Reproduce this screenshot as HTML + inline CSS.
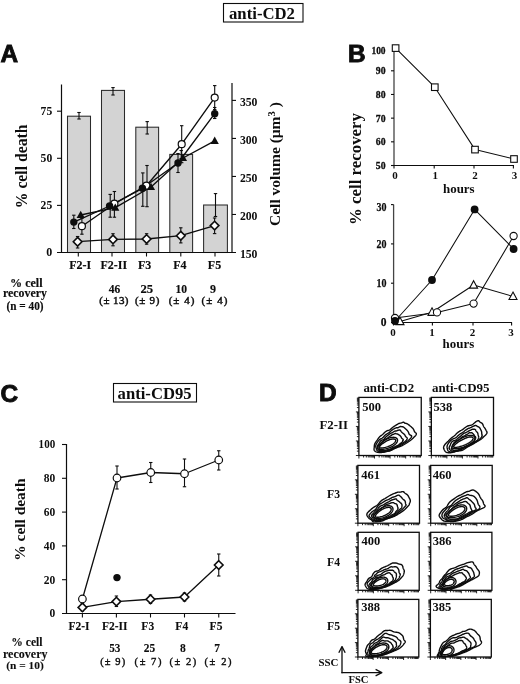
<!DOCTYPE html>
<html><head><meta charset="utf-8"><style>
html,body{margin:0;padding:0;background:#fff;}
svg{display:block;will-change:transform;}
</style></head><body>
<svg width="520" height="684" viewBox="0 0 520 684">
<rect width="520" height="684" fill="#fff"/>
<text x="0.6" y="62.1" font-family="'Liberation Sans', sans-serif" font-size="24.4" font-weight="bold" text-anchor="start" fill="#0d0d0d" stroke="#0d0d0d" stroke-width="0.9" >A</text>
<text x="348.0" y="62.2" font-family="'Liberation Sans', sans-serif" font-size="24.4" font-weight="bold" text-anchor="start" fill="#0d0d0d" stroke="#0d0d0d" stroke-width="0.9" >B</text>
<text x="0.6" y="402.1" font-family="'Liberation Sans', sans-serif" font-size="24.4" font-weight="bold" text-anchor="start" fill="#0d0d0d" stroke="#0d0d0d" stroke-width="0.9" >C</text>
<text x="318.9" y="401.1" font-family="'Liberation Sans', sans-serif" font-size="24.4" font-weight="bold" text-anchor="start" fill="#0d0d0d" stroke="#0d0d0d" stroke-width="0.9" >D</text>
<rect x="223.5" y="3.5" width="79.5" height="18.5" fill="none" stroke="#0d0d0d" stroke-width="1.1"/>
<text x="229" y="19.3" font-family="'Liberation Serif', serif" font-size="16.5" font-weight="bold" text-anchor="start" fill="#0d0d0d" textLength="66" lengthAdjust="spacingAndGlyphs" >anti-CD2</text>
<rect x="113.5" y="383.5" width="83" height="18.5" fill="none" stroke="#0d0d0d" stroke-width="1.1"/>
<text x="117.6" y="398.6" font-family="'Liberation Serif', serif" font-size="16.5" font-weight="bold" text-anchor="start" fill="#0d0d0d" textLength="74" lengthAdjust="spacingAndGlyphs" >anti-CD95</text>
<rect x="67.5" y="116.2" width="23.0" height="136.3" fill="#d3d3d3" stroke="#2a2a2a" stroke-width="1.05"/>
<rect x="101.5" y="90.4" width="23.0" height="162.1" fill="#d3d3d3" stroke="#2a2a2a" stroke-width="1.05"/>
<rect x="135.8" y="127.2" width="22.799999999999983" height="125.3" fill="#d3d3d3" stroke="#2a2a2a" stroke-width="1.05"/>
<rect x="169.8" y="154.4" width="22.799999999999983" height="98.1" fill="#d3d3d3" stroke="#2a2a2a" stroke-width="1.05"/>
<rect x="203.6" y="205" width="23.80000000000001" height="47.5" fill="#d3d3d3" stroke="#2a2a2a" stroke-width="1.05"/>
<line x1="79.0" y1="112.5" x2="79.0" y2="119" stroke="#0d0d0d" stroke-width="1.1"/>
<line x1="77.3" y1="112.5" x2="80.7" y2="112.5" stroke="#0d0d0d" stroke-width="1.1"/>
<line x1="77.3" y1="119" x2="80.7" y2="119" stroke="#0d0d0d" stroke-width="1.1"/>
<line x1="113.0" y1="87.6" x2="113.0" y2="95" stroke="#0d0d0d" stroke-width="1.1"/>
<line x1="111.3" y1="87.6" x2="114.7" y2="87.6" stroke="#0d0d0d" stroke-width="1.1"/>
<line x1="111.3" y1="95" x2="114.7" y2="95" stroke="#0d0d0d" stroke-width="1.1"/>
<line x1="147.2" y1="121.6" x2="147.2" y2="134" stroke="#0d0d0d" stroke-width="1.1"/>
<line x1="145.5" y1="121.6" x2="148.89999999999998" y2="121.6" stroke="#0d0d0d" stroke-width="1.1"/>
<line x1="145.5" y1="134" x2="148.89999999999998" y2="134" stroke="#0d0d0d" stroke-width="1.1"/>
<line x1="181.2" y1="150.5" x2="181.2" y2="158.5" stroke="#0d0d0d" stroke-width="1.1"/>
<line x1="179.5" y1="150.5" x2="182.89999999999998" y2="150.5" stroke="#0d0d0d" stroke-width="1.1"/>
<line x1="179.5" y1="158.5" x2="182.89999999999998" y2="158.5" stroke="#0d0d0d" stroke-width="1.1"/>
<line x1="215.5" y1="193.6" x2="215.5" y2="216.5" stroke="#0d0d0d" stroke-width="1.1"/>
<line x1="213.8" y1="193.6" x2="217.2" y2="193.6" stroke="#0d0d0d" stroke-width="1.1"/>
<line x1="213.8" y1="216.5" x2="217.2" y2="216.5" stroke="#0d0d0d" stroke-width="1.1"/>
<line x1="61.5" y1="84.5" x2="61.5" y2="253" stroke="#0d0d0d" stroke-width="1.2"/>
<line x1="57" y1="252.5" x2="236" y2="252.5" stroke="#0d0d0d" stroke-width="1.2"/>
<line x1="232" y1="83" x2="232" y2="253" stroke="#0d0d0d" stroke-width="1.2"/>
<line x1="57" y1="111.20000000000002" x2="61.5" y2="111.20000000000002" stroke="#0d0d0d" stroke-width="1.1"/>
<line x1="57" y1="158.3" x2="61.5" y2="158.3" stroke="#0d0d0d" stroke-width="1.1"/>
<line x1="57" y1="205.4" x2="61.5" y2="205.4" stroke="#0d0d0d" stroke-width="1.1"/>
<line x1="232" y1="100.4" x2="236" y2="100.4" stroke="#0d0d0d" stroke-width="1.1"/>
<line x1="232" y1="138.425" x2="236" y2="138.425" stroke="#0d0d0d" stroke-width="1.1"/>
<line x1="232" y1="176.45" x2="236" y2="176.45" stroke="#0d0d0d" stroke-width="1.1"/>
<line x1="232" y1="214.475" x2="236" y2="214.475" stroke="#0d0d0d" stroke-width="1.1"/>
<line x1="78.3" y1="252.5" x2="78.3" y2="256.5" stroke="#0d0d0d" stroke-width="1.1"/>
<line x1="112" y1="252.5" x2="112" y2="256.5" stroke="#0d0d0d" stroke-width="1.1"/>
<line x1="146.5" y1="252.5" x2="146.5" y2="256.5" stroke="#0d0d0d" stroke-width="1.1"/>
<line x1="180.8" y1="252.5" x2="180.8" y2="256.5" stroke="#0d0d0d" stroke-width="1.1"/>
<line x1="215" y1="252.5" x2="215" y2="256.5" stroke="#0d0d0d" stroke-width="1.1"/>
<text x="52.2" y="114.80000000000001" font-family="'Liberation Serif', serif" font-size="12" font-weight="bold" text-anchor="end" fill="#0d0d0d" textLength="11.6" lengthAdjust="spacingAndGlyphs" >75</text>
<text x="52.2" y="161.9" font-family="'Liberation Serif', serif" font-size="12" font-weight="bold" text-anchor="end" fill="#0d0d0d" textLength="11.6" lengthAdjust="spacingAndGlyphs" >50</text>
<text x="52.2" y="209.0" font-family="'Liberation Serif', serif" font-size="12" font-weight="bold" text-anchor="end" fill="#0d0d0d" textLength="11.6" lengthAdjust="spacingAndGlyphs" >25</text>
<text x="52.2" y="256.1" font-family="'Liberation Serif', serif" font-size="12" font-weight="bold" text-anchor="end" fill="#0d0d0d" >0</text>
<text x="239.9" y="105.80000000000001" font-family="'Liberation Serif', serif" font-size="12" font-weight="bold" text-anchor="start" fill="#0d0d0d" textLength="17.6" lengthAdjust="spacingAndGlyphs" >350</text>
<text x="239.9" y="143.82500000000002" font-family="'Liberation Serif', serif" font-size="12" font-weight="bold" text-anchor="start" fill="#0d0d0d" textLength="17.6" lengthAdjust="spacingAndGlyphs" >300</text>
<text x="239.9" y="181.85" font-family="'Liberation Serif', serif" font-size="12" font-weight="bold" text-anchor="start" fill="#0d0d0d" textLength="17.6" lengthAdjust="spacingAndGlyphs" >250</text>
<text x="239.9" y="219.875" font-family="'Liberation Serif', serif" font-size="12" font-weight="bold" text-anchor="start" fill="#0d0d0d" textLength="17.6" lengthAdjust="spacingAndGlyphs" >200</text>
<text x="239.9" y="257.9" font-family="'Liberation Serif', serif" font-size="12" font-weight="bold" text-anchor="start" fill="#0d0d0d" textLength="17.6" lengthAdjust="spacingAndGlyphs" >150</text>
<line x1="73.8" y1="215.2" x2="73.8" y2="228.5" stroke="#0d0d0d" stroke-width="1.1"/>
<line x1="72.1" y1="215.2" x2="75.5" y2="215.2" stroke="#0d0d0d" stroke-width="1.1"/>
<line x1="72.1" y1="228.5" x2="75.5" y2="228.5" stroke="#0d0d0d" stroke-width="1.1"/>
<line x1="110.2" y1="194.4" x2="110.2" y2="217.2" stroke="#0d0d0d" stroke-width="1.1"/>
<line x1="108.5" y1="194.4" x2="111.9" y2="194.4" stroke="#0d0d0d" stroke-width="1.1"/>
<line x1="108.5" y1="217.2" x2="111.9" y2="217.2" stroke="#0d0d0d" stroke-width="1.1"/>
<line x1="142.8" y1="172.9" x2="142.8" y2="206.3" stroke="#0d0d0d" stroke-width="1.1"/>
<line x1="141.10000000000002" y1="172.9" x2="144.5" y2="172.9" stroke="#0d0d0d" stroke-width="1.1"/>
<line x1="141.10000000000002" y1="206.3" x2="144.5" y2="206.3" stroke="#0d0d0d" stroke-width="1.1"/>
<line x1="178" y1="153.5" x2="178" y2="172.5" stroke="#0d0d0d" stroke-width="1.1"/>
<line x1="176.3" y1="153.5" x2="179.7" y2="153.5" stroke="#0d0d0d" stroke-width="1.1"/>
<line x1="176.3" y1="172.5" x2="179.7" y2="172.5" stroke="#0d0d0d" stroke-width="1.1"/>
<line x1="214.7" y1="107.5" x2="214.7" y2="118.5" stroke="#0d0d0d" stroke-width="1.1"/>
<line x1="213.0" y1="107.5" x2="216.39999999999998" y2="107.5" stroke="#0d0d0d" stroke-width="1.1"/>
<line x1="213.0" y1="118.5" x2="216.39999999999998" y2="118.5" stroke="#0d0d0d" stroke-width="1.1"/>
<line x1="81.9" y1="218.2" x2="81.9" y2="234.2" stroke="#0d0d0d" stroke-width="1.1"/>
<line x1="80.2" y1="218.2" x2="83.60000000000001" y2="218.2" stroke="#0d0d0d" stroke-width="1.1"/>
<line x1="80.2" y1="234.2" x2="83.60000000000001" y2="234.2" stroke="#0d0d0d" stroke-width="1.1"/>
<line x1="114.4" y1="191.5" x2="114.4" y2="217.2" stroke="#0d0d0d" stroke-width="1.1"/>
<line x1="112.7" y1="191.5" x2="116.10000000000001" y2="191.5" stroke="#0d0d0d" stroke-width="1.1"/>
<line x1="112.7" y1="217.2" x2="116.10000000000001" y2="217.2" stroke="#0d0d0d" stroke-width="1.1"/>
<line x1="147" y1="165.5" x2="147" y2="206.7" stroke="#0d0d0d" stroke-width="1.1"/>
<line x1="145.3" y1="165.5" x2="148.7" y2="165.5" stroke="#0d0d0d" stroke-width="1.1"/>
<line x1="145.3" y1="206.7" x2="148.7" y2="206.7" stroke="#0d0d0d" stroke-width="1.1"/>
<line x1="181.7" y1="125.7" x2="181.7" y2="162.7" stroke="#0d0d0d" stroke-width="1.1"/>
<line x1="180.0" y1="125.7" x2="183.39999999999998" y2="125.7" stroke="#0d0d0d" stroke-width="1.1"/>
<line x1="180.0" y1="162.7" x2="183.39999999999998" y2="162.7" stroke="#0d0d0d" stroke-width="1.1"/>
<line x1="214.7" y1="85.6" x2="214.7" y2="109.6" stroke="#0d0d0d" stroke-width="1.1"/>
<line x1="213.0" y1="85.6" x2="216.39999999999998" y2="85.6" stroke="#0d0d0d" stroke-width="1.1"/>
<line x1="213.0" y1="109.6" x2="216.39999999999998" y2="109.6" stroke="#0d0d0d" stroke-width="1.1"/>
<line x1="77.6" y1="236.5" x2="77.6" y2="248" stroke="#0d0d0d" stroke-width="1.1"/>
<line x1="75.89999999999999" y1="236.5" x2="79.3" y2="236.5" stroke="#0d0d0d" stroke-width="1.1"/>
<line x1="75.89999999999999" y1="248" x2="79.3" y2="248" stroke="#0d0d0d" stroke-width="1.1"/>
<line x1="113" y1="233.7" x2="113" y2="245.8" stroke="#0d0d0d" stroke-width="1.1"/>
<line x1="111.3" y1="233.7" x2="114.7" y2="233.7" stroke="#0d0d0d" stroke-width="1.1"/>
<line x1="111.3" y1="245.8" x2="114.7" y2="245.8" stroke="#0d0d0d" stroke-width="1.1"/>
<line x1="146.6" y1="233.7" x2="146.6" y2="244.2" stroke="#0d0d0d" stroke-width="1.1"/>
<line x1="144.9" y1="233.7" x2="148.29999999999998" y2="233.7" stroke="#0d0d0d" stroke-width="1.1"/>
<line x1="144.9" y1="244.2" x2="148.29999999999998" y2="244.2" stroke="#0d0d0d" stroke-width="1.1"/>
<line x1="180.8" y1="227.8" x2="180.8" y2="242.9" stroke="#0d0d0d" stroke-width="1.1"/>
<line x1="179.10000000000002" y1="227.8" x2="182.5" y2="227.8" stroke="#0d0d0d" stroke-width="1.1"/>
<line x1="179.10000000000002" y1="242.9" x2="182.5" y2="242.9" stroke="#0d0d0d" stroke-width="1.1"/>
<line x1="214.6" y1="218" x2="214.6" y2="233.6" stroke="#0d0d0d" stroke-width="1.1"/>
<line x1="212.9" y1="218" x2="216.29999999999998" y2="218" stroke="#0d0d0d" stroke-width="1.1"/>
<line x1="212.9" y1="233.6" x2="216.29999999999998" y2="233.6" stroke="#0d0d0d" stroke-width="1.1"/>
<polyline points="81.9,226.2 114.4,203.7 146.4,185.7 181.7,144.2 214.7,97.6" fill="none" stroke="#0d0d0d" stroke-width="1.35" stroke-linejoin="round"/>
<polyline points="73.8,222.1 109.6,206 142.4,188.3 178,163 214.7,113.7" fill="none" stroke="#0d0d0d" stroke-width="1.35" stroke-linejoin="round"/>
<polyline points="80.7,215 115.3,207.7 151,187 183,158 214.7,140.8" fill="none" stroke="#0d0d0d" stroke-width="1.35" stroke-linejoin="round"/>
<polyline points="77.6,241.7 113,239.4 146.6,239 180.8,235.7 214.6,225.6" fill="none" stroke="#0d0d0d" stroke-width="1.35" stroke-linejoin="round"/>
<polygon points="77.6,237.39999999999998 81.89999999999999,241.7 77.6,246.0 73.3,241.7" fill="#fff" stroke="#0d0d0d" stroke-width="1.6"/>
<polygon points="113,235.1 117.3,239.4 113,243.70000000000002 108.7,239.4" fill="#fff" stroke="#0d0d0d" stroke-width="1.6"/>
<polygon points="146.6,234.7 150.9,239 146.6,243.3 142.29999999999998,239" fill="#fff" stroke="#0d0d0d" stroke-width="1.6"/>
<polygon points="180.8,231.39999999999998 185.10000000000002,235.7 180.8,240.0 176.5,235.7" fill="#fff" stroke="#0d0d0d" stroke-width="1.6"/>
<polygon points="214.6,221.29999999999998 218.9,225.6 214.6,229.9 210.29999999999998,225.6" fill="#fff" stroke="#0d0d0d" stroke-width="1.6"/>
<circle cx="81.9" cy="226.2" r="3.5" fill="#fff" stroke="#0d0d0d" stroke-width="1.2"/>
<circle cx="114.4" cy="203.7" r="3.5" fill="#fff" stroke="#0d0d0d" stroke-width="1.2"/>
<circle cx="146.4" cy="185.7" r="3.5" fill="#fff" stroke="#0d0d0d" stroke-width="1.2"/>
<circle cx="181.7" cy="144.2" r="3.5" fill="#fff" stroke="#0d0d0d" stroke-width="1.2"/>
<circle cx="214.7" cy="97.6" r="3.5" fill="#fff" stroke="#0d0d0d" stroke-width="1.2"/>
<polygon points="80.7,210.708 84.8,218.108 76.60000000000001,218.108" fill="#0d0d0d"/>
<polygon points="115.3,203.408 119.39999999999999,210.808 111.2,210.808" fill="#0d0d0d"/>
<polygon points="151,182.708 155.1,190.108 146.9,190.108" fill="#0d0d0d"/>
<polygon points="183,153.708 187.1,161.108 178.9,161.108" fill="#0d0d0d"/>
<polygon points="214.7,136.508 218.79999999999998,143.90800000000002 210.6,143.90800000000002" fill="#0d0d0d"/>
<circle cx="73.8" cy="222.1" r="3.7" fill="#0d0d0d"/>
<circle cx="109.6" cy="206" r="3.7" fill="#0d0d0d"/>
<circle cx="142.4" cy="188.3" r="3.7" fill="#0d0d0d"/>
<circle cx="178" cy="163" r="3.7" fill="#0d0d0d"/>
<circle cx="214.7" cy="113.7" r="3.7" fill="#0d0d0d"/>
<text x="26.9" y="166.4" font-family="'Liberation Serif', serif" font-size="16" font-weight="bold" text-anchor="middle" fill="#0d0d0d" textLength="83.6" lengthAdjust="spacingAndGlyphs" transform="rotate(-90 26.9 166.4)">% cell death</text>
<text x="280.3" y="226" font-family="&apos;Liberation Serif&apos;, serif" font-size="15.5" font-weight="bold" fill="#0d0d0d" transform="rotate(-90 280.3 226)">Cell volume (&#956;m<tspan dy="-5.5" font-size="10.5">3</tspan><tspan dy="5.5"> )</tspan></text>
<text x="80.2" y="268.8" font-family="'Liberation Serif', serif" font-size="12" font-weight="bold" text-anchor="middle" fill="#0d0d0d" stroke="#0d0d0d" stroke-width="0.15" >F2-I</text>
<text x="113.8" y="268.8" font-family="'Liberation Serif', serif" font-size="12" font-weight="bold" text-anchor="middle" fill="#0d0d0d" stroke="#0d0d0d" stroke-width="0.15" >F2-II</text>
<text x="144.6" y="268.8" font-family="'Liberation Serif', serif" font-size="12" font-weight="bold" text-anchor="middle" fill="#0d0d0d" stroke="#0d0d0d" stroke-width="0.15" >F3</text>
<text x="179.9" y="268.8" font-family="'Liberation Serif', serif" font-size="12" font-weight="bold" text-anchor="middle" fill="#0d0d0d" stroke="#0d0d0d" stroke-width="0.15" >F4</text>
<text x="214.5" y="268.8" font-family="'Liberation Serif', serif" font-size="12" font-weight="bold" text-anchor="middle" fill="#0d0d0d" stroke="#0d0d0d" stroke-width="0.15" >F5</text>
<text x="26.3" y="286.5" font-family="'Liberation Serif', serif" font-size="12" font-weight="bold" text-anchor="middle" fill="#0d0d0d" stroke="#0d0d0d" stroke-width="0.15" textLength="32.5" lengthAdjust="spacingAndGlyphs" >% cell</text>
<text x="25" y="297" font-family="'Liberation Serif', serif" font-size="12" font-weight="bold" text-anchor="middle" fill="#0d0d0d" stroke="#0d0d0d" stroke-width="0.15" textLength="44" lengthAdjust="spacingAndGlyphs" >recovery</text>
<text x="25" y="309.6" font-family="'Liberation Serif', serif" font-size="11.5" font-weight="bold" text-anchor="middle" fill="#0d0d0d" stroke="#0d0d0d" stroke-width="0.15" textLength="37" lengthAdjust="spacingAndGlyphs" >(n = 40)</text>
<text x="114.5" y="293" font-family="'Liberation Serif', serif" font-size="12" font-weight="bold" text-anchor="middle" fill="#0d0d0d" stroke="#0d0d0d" stroke-width="0.15" textLength="11.5" lengthAdjust="spacingAndGlyphs" >46</text>
<text x="146.8" y="293" font-family="'Liberation Serif', serif" font-size="12" font-weight="bold" text-anchor="middle" fill="#0d0d0d" stroke="#0d0d0d" stroke-width="0.15" textLength="12.7" lengthAdjust="spacingAndGlyphs" >25</text>
<text x="181.2" y="293" font-family="'Liberation Serif', serif" font-size="12" font-weight="bold" text-anchor="middle" fill="#0d0d0d" stroke="#0d0d0d" stroke-width="0.15" textLength="11.6" lengthAdjust="spacingAndGlyphs" >10</text>
<text x="212.9" y="293" font-family="'Liberation Serif', serif" font-size="12" font-weight="bold" text-anchor="middle" fill="#0d0d0d" stroke="#0d0d0d" stroke-width="0.15" >9</text>
<text x="113.9" y="304.4" font-family="'Liberation Serif', serif" font-size="11" font-weight="normal" text-anchor="middle" fill="#0d0d0d" stroke="#0d0d0d" stroke-width="0.45" textLength="29.2" lengthAdjust="spacing" >(&#177; 13)</text>
<text x="147.15" y="304.4" font-family="'Liberation Serif', serif" font-size="11" font-weight="normal" text-anchor="middle" fill="#0d0d0d" stroke="#0d0d0d" stroke-width="0.45" textLength="24.3" lengthAdjust="spacing" >(&#177; 9)</text>
<text x="181.5" y="304.4" font-family="'Liberation Serif', serif" font-size="11" font-weight="normal" text-anchor="middle" fill="#0d0d0d" stroke="#0d0d0d" stroke-width="0.45" textLength="25.6" lengthAdjust="spacing" >(&#177; 4)</text>
<text x="214.45" y="304.4" font-family="'Liberation Serif', serif" font-size="11" font-weight="normal" text-anchor="middle" fill="#0d0d0d" stroke="#0d0d0d" stroke-width="0.45" textLength="25.9" lengthAdjust="spacing" >(&#177; 4)</text>
<line x1="394" y1="51.5" x2="394" y2="165.5" stroke="#444" stroke-width="1.3"/>
<line x1="393.5" y1="165.5" x2="514" y2="165.5" stroke="#0d0d0d" stroke-width="1.2"/>
<line x1="391" y1="70.8" x2="394" y2="70.8" stroke="#0d0d0d" stroke-width="1.1"/>
<line x1="391" y1="94.475" x2="394" y2="94.475" stroke="#0d0d0d" stroke-width="1.1"/>
<line x1="391" y1="118.15" x2="394" y2="118.15" stroke="#0d0d0d" stroke-width="1.1"/>
<line x1="391" y1="141.825" x2="394" y2="141.825" stroke="#0d0d0d" stroke-width="1.1"/>
<line x1="391" y1="165.5" x2="394" y2="165.5" stroke="#0d0d0d" stroke-width="1.1"/>
<text x="385.6" y="53.9" font-family="'Liberation Serif', serif" font-size="11" font-weight="bold" text-anchor="end" fill="#0d0d0d" stroke="#0d0d0d" stroke-width="0.3" textLength="14.2" lengthAdjust="spacingAndGlyphs" >100</text>
<text x="385.6" y="74.39999999999999" font-family="'Liberation Serif', serif" font-size="11" font-weight="bold" text-anchor="end" fill="#0d0d0d" stroke="#0d0d0d" stroke-width="0.3" textLength="9.8" lengthAdjust="spacingAndGlyphs" >90</text>
<text x="385.6" y="98.07499999999999" font-family="'Liberation Serif', serif" font-size="11" font-weight="bold" text-anchor="end" fill="#0d0d0d" stroke="#0d0d0d" stroke-width="0.3" textLength="9.8" lengthAdjust="spacingAndGlyphs" >80</text>
<text x="385.6" y="121.75" font-family="'Liberation Serif', serif" font-size="11" font-weight="bold" text-anchor="end" fill="#0d0d0d" stroke="#0d0d0d" stroke-width="0.3" textLength="9.8" lengthAdjust="spacingAndGlyphs" >70</text>
<text x="385.6" y="145.42499999999998" font-family="'Liberation Serif', serif" font-size="11" font-weight="bold" text-anchor="end" fill="#0d0d0d" stroke="#0d0d0d" stroke-width="0.3" textLength="9.8" lengthAdjust="spacingAndGlyphs" >60</text>
<text x="385.6" y="169.1" font-family="'Liberation Serif', serif" font-size="11" font-weight="bold" text-anchor="end" fill="#0d0d0d" stroke="#0d0d0d" stroke-width="0.3" textLength="9.8" lengthAdjust="spacingAndGlyphs" >50</text>
<line x1="394" y1="165.5" x2="394" y2="168.5" stroke="#0d0d0d" stroke-width="1.1"/>
<text x="395" y="178.8" font-family="'Liberation Serif', serif" font-size="11" font-weight="bold" text-anchor="middle" fill="#0d0d0d" >0</text>
<line x1="434.2" y1="165.5" x2="434.2" y2="168.5" stroke="#0d0d0d" stroke-width="1.1"/>
<text x="435.2" y="178.8" font-family="'Liberation Serif', serif" font-size="11" font-weight="bold" text-anchor="middle" fill="#0d0d0d" >1</text>
<line x1="474" y1="165.5" x2="474" y2="168.5" stroke="#0d0d0d" stroke-width="1.1"/>
<text x="475" y="178.8" font-family="'Liberation Serif', serif" font-size="11" font-weight="bold" text-anchor="middle" fill="#0d0d0d" >2</text>
<line x1="513.4" y1="165.5" x2="513.4" y2="168.5" stroke="#0d0d0d" stroke-width="1.1"/>
<text x="514.4" y="178.8" font-family="'Liberation Serif', serif" font-size="11" font-weight="bold" text-anchor="middle" fill="#0d0d0d" >3</text>
<text x="458.8" y="193" font-family="'Liberation Serif', serif" font-size="13" font-weight="bold" text-anchor="middle" fill="#0d0d0d" textLength="31.6" lengthAdjust="spacingAndGlyphs" >hours</text>
<polyline points="395.6,48.1 434.8,87.2 475,149.6 514,159" fill="none" stroke="#0d0d0d" stroke-width="1.05" stroke-linejoin="round"/>
<rect x="392.3" y="44.800000000000004" width="6.6" height="6.6" fill="#fff" stroke="#0d0d0d" stroke-width="1.1"/>
<rect x="431.5" y="83.9" width="6.6" height="6.6" fill="#fff" stroke="#0d0d0d" stroke-width="1.1"/>
<rect x="471.7" y="146.29999999999998" width="6.6" height="6.6" fill="#fff" stroke="#0d0d0d" stroke-width="1.1"/>
<rect x="510.7" y="155.7" width="6.6" height="6.6" fill="#fff" stroke="#0d0d0d" stroke-width="1.1"/>
<line x1="393.6" y1="204.6" x2="393.6" y2="322.9" stroke="#444" stroke-width="1.3"/>
<line x1="393.1" y1="322.5" x2="512" y2="322.5" stroke="#0d0d0d" stroke-width="1.2"/>
<line x1="391" y1="204.6" x2="393.6" y2="204.6" stroke="#0d0d0d" stroke-width="1.1"/>
<text x="386.4" y="211.10000000000002" font-family="'Liberation Serif', serif" font-size="11.5" font-weight="bold" text-anchor="end" fill="#0d0d0d" stroke="#0d0d0d" stroke-width="0.25" textLength="10" lengthAdjust="spacingAndGlyphs" >30</text>
<line x1="391" y1="243.89999999999998" x2="393.6" y2="243.89999999999998" stroke="#0d0d0d" stroke-width="1.1"/>
<text x="386.4" y="247.7" font-family="'Liberation Serif', serif" font-size="11.5" font-weight="bold" text-anchor="end" fill="#0d0d0d" stroke="#0d0d0d" stroke-width="0.25" textLength="10" lengthAdjust="spacingAndGlyphs" >20</text>
<line x1="391" y1="283.2" x2="393.6" y2="283.2" stroke="#0d0d0d" stroke-width="1.1"/>
<text x="386.4" y="287.0" font-family="'Liberation Serif', serif" font-size="11.5" font-weight="bold" text-anchor="end" fill="#0d0d0d" stroke="#0d0d0d" stroke-width="0.25" textLength="10" lengthAdjust="spacingAndGlyphs" >10</text>
<line x1="391" y1="322.5" x2="393.6" y2="322.5" stroke="#0d0d0d" stroke-width="1.1"/>
<text x="386.4" y="326.3" font-family="'Liberation Serif', serif" font-size="11.5" font-weight="bold" text-anchor="end" fill="#0d0d0d" stroke="#0d0d0d" stroke-width="0.25" >0</text>
<line x1="393.6" y1="322.5" x2="393.6" y2="325.6" stroke="#0d0d0d" stroke-width="1.1"/>
<text x="393.1" y="336.2" font-family="'Liberation Serif', serif" font-size="11" font-weight="bold" text-anchor="middle" fill="#0d0d0d" >0</text>
<line x1="432.4" y1="322.5" x2="432.4" y2="325.6" stroke="#0d0d0d" stroke-width="1.1"/>
<text x="431.9" y="336.2" font-family="'Liberation Serif', serif" font-size="11" font-weight="bold" text-anchor="middle" fill="#0d0d0d" >1</text>
<line x1="473" y1="322.5" x2="473" y2="325.6" stroke="#0d0d0d" stroke-width="1.1"/>
<text x="472.5" y="336.2" font-family="'Liberation Serif', serif" font-size="11" font-weight="bold" text-anchor="middle" fill="#0d0d0d" >2</text>
<line x1="511.6" y1="322.5" x2="511.6" y2="325.6" stroke="#0d0d0d" stroke-width="1.1"/>
<text x="511.1" y="336.2" font-family="'Liberation Serif', serif" font-size="11" font-weight="bold" text-anchor="middle" fill="#0d0d0d" >3</text>
<text x="458.4" y="347.6" font-family="'Liberation Serif', serif" font-size="13" font-weight="bold" text-anchor="middle" fill="#0d0d0d" textLength="31.6" lengthAdjust="spacingAndGlyphs" >hours</text>
<polyline points="395,321 432,280 474.6,209.4 513.6,249" fill="none" stroke="#0d0d0d" stroke-width="1.05" stroke-linejoin="round"/>
<polyline points="395,318 437,312.4 473.6,303.6 513.6,236" fill="none" stroke="#0d0d0d" stroke-width="1.05" stroke-linejoin="round"/>
<polyline points="400,321.5 432,312.2 473.6,285 513,296.4" fill="none" stroke="#0d0d0d" stroke-width="1.05" stroke-linejoin="round"/>
<polygon points="400,317.15 404.0,324.65 396.0,324.65" fill="#fff" stroke="#0d0d0d" stroke-width="1.1" stroke-linejoin="miter"/>
<polygon points="432,307.84999999999997 436.0,315.34999999999997 428.0,315.34999999999997" fill="#fff" stroke="#0d0d0d" stroke-width="1.1" stroke-linejoin="miter"/>
<polygon points="473.6,280.65 477.6,288.15 469.6,288.15" fill="#fff" stroke="#0d0d0d" stroke-width="1.1" stroke-linejoin="miter"/>
<polygon points="513,292.04999999999995 517.0,299.54999999999995 509.0,299.54999999999995" fill="#fff" stroke="#0d0d0d" stroke-width="1.1" stroke-linejoin="miter"/>
<circle cx="395" cy="318" r="3.6" fill="#fff" stroke="#0d0d0d" stroke-width="1.1"/>
<circle cx="437" cy="312.4" r="3.6" fill="#fff" stroke="#0d0d0d" stroke-width="1.1"/>
<circle cx="473.6" cy="303.6" r="3.6" fill="#fff" stroke="#0d0d0d" stroke-width="1.1"/>
<circle cx="513.6" cy="236" r="3.6" fill="#fff" stroke="#0d0d0d" stroke-width="1.1"/>
<circle cx="395" cy="321" r="3.9" fill="#0d0d0d"/>
<circle cx="432" cy="280" r="3.9" fill="#0d0d0d"/>
<circle cx="474.6" cy="209.4" r="3.9" fill="#0d0d0d"/>
<circle cx="513.6" cy="249" r="3.9" fill="#0d0d0d"/>
<text x="361.3" y="169" font-family="'Liberation Serif', serif" font-size="16.5" font-weight="bold" text-anchor="middle" fill="#0d0d0d" textLength="112" lengthAdjust="spacingAndGlyphs" transform="rotate(-90 361.3 169)">% cell recovery</text>
<line x1="66.5" y1="444" x2="66.5" y2="614" stroke="#0d0d0d" stroke-width="1.2"/>
<line x1="62" y1="613.5" x2="235.5" y2="613.5" stroke="#0d0d0d" stroke-width="1.2"/>
<line x1="62" y1="444.5" x2="66.4" y2="444.5" stroke="#0d0d0d" stroke-width="1.1"/>
<line x1="62" y1="478.3" x2="66.4" y2="478.3" stroke="#0d0d0d" stroke-width="1.1"/>
<line x1="62" y1="512.1" x2="66.4" y2="512.1" stroke="#0d0d0d" stroke-width="1.1"/>
<line x1="62" y1="545.9" x2="66.4" y2="545.9" stroke="#0d0d0d" stroke-width="1.1"/>
<line x1="62" y1="579.7" x2="66.4" y2="579.7" stroke="#0d0d0d" stroke-width="1.1"/>
<text x="55.2" y="448.4" font-family="'Liberation Serif', serif" font-size="11.5" font-weight="bold" text-anchor="end" fill="#0d0d0d" textLength="16.6" lengthAdjust="spacingAndGlyphs" >100</text>
<text x="55.2" y="482.2" font-family="'Liberation Serif', serif" font-size="11.5" font-weight="bold" text-anchor="end" fill="#0d0d0d" textLength="11.5" lengthAdjust="spacingAndGlyphs" >80</text>
<text x="55.2" y="516.0" font-family="'Liberation Serif', serif" font-size="11.5" font-weight="bold" text-anchor="end" fill="#0d0d0d" textLength="11.5" lengthAdjust="spacingAndGlyphs" >60</text>
<text x="55.2" y="549.8" font-family="'Liberation Serif', serif" font-size="11.5" font-weight="bold" text-anchor="end" fill="#0d0d0d" textLength="11.5" lengthAdjust="spacingAndGlyphs" >40</text>
<text x="55.2" y="583.6" font-family="'Liberation Serif', serif" font-size="11.5" font-weight="bold" text-anchor="end" fill="#0d0d0d" textLength="11.5" lengthAdjust="spacingAndGlyphs" >20</text>
<text x="55.2" y="617.4" font-family="'Liberation Serif', serif" font-size="11.5" font-weight="bold" text-anchor="end" fill="#0d0d0d" >0</text>
<line x1="82.4" y1="613.5" x2="82.4" y2="617.5" stroke="#0d0d0d" stroke-width="1.1"/>
<line x1="116.4" y1="613.5" x2="116.4" y2="617.5" stroke="#0d0d0d" stroke-width="1.1"/>
<line x1="150.5" y1="613.5" x2="150.5" y2="617.5" stroke="#0d0d0d" stroke-width="1.1"/>
<line x1="184.5" y1="613.5" x2="184.5" y2="617.5" stroke="#0d0d0d" stroke-width="1.1"/>
<line x1="218.75" y1="613.5" x2="218.75" y2="617.5" stroke="#0d0d0d" stroke-width="1.1"/>
<text x="79" y="629.8" font-family="'Liberation Serif', serif" font-size="11.5" font-weight="bold" text-anchor="middle" fill="#0d0d0d" stroke="#0d0d0d" stroke-width="0.1" >F2-I</text>
<text x="114.8" y="629.8" font-family="'Liberation Serif', serif" font-size="11.5" font-weight="bold" text-anchor="middle" fill="#0d0d0d" stroke="#0d0d0d" stroke-width="0.1" >F2-II</text>
<text x="147.75" y="629.8" font-family="'Liberation Serif', serif" font-size="11.5" font-weight="bold" text-anchor="middle" fill="#0d0d0d" stroke="#0d0d0d" stroke-width="0.1" >F3</text>
<text x="181.75" y="629.8" font-family="'Liberation Serif', serif" font-size="11.5" font-weight="bold" text-anchor="middle" fill="#0d0d0d" stroke="#0d0d0d" stroke-width="0.1" >F4</text>
<text x="216" y="629.8" font-family="'Liberation Serif', serif" font-size="11.5" font-weight="bold" text-anchor="middle" fill="#0d0d0d" stroke="#0d0d0d" stroke-width="0.1" >F5</text>
<line x1="117" y1="466" x2="117" y2="489" stroke="#0d0d0d" stroke-width="1.1"/>
<line x1="115.3" y1="466" x2="118.7" y2="466" stroke="#0d0d0d" stroke-width="1.1"/>
<line x1="115.3" y1="489" x2="118.7" y2="489" stroke="#0d0d0d" stroke-width="1.1"/>
<line x1="150.75" y1="462.5" x2="150.75" y2="482.5" stroke="#0d0d0d" stroke-width="1.1"/>
<line x1="149.05" y1="462.5" x2="152.45" y2="462.5" stroke="#0d0d0d" stroke-width="1.1"/>
<line x1="149.05" y1="482.5" x2="152.45" y2="482.5" stroke="#0d0d0d" stroke-width="1.1"/>
<line x1="184.5" y1="459" x2="184.5" y2="486.75" stroke="#0d0d0d" stroke-width="1.1"/>
<line x1="182.8" y1="459" x2="186.2" y2="459" stroke="#0d0d0d" stroke-width="1.1"/>
<line x1="182.8" y1="486.75" x2="186.2" y2="486.75" stroke="#0d0d0d" stroke-width="1.1"/>
<line x1="218.75" y1="450.75" x2="218.75" y2="470" stroke="#0d0d0d" stroke-width="1.1"/>
<line x1="217.05" y1="450.75" x2="220.45" y2="450.75" stroke="#0d0d0d" stroke-width="1.1"/>
<line x1="217.05" y1="470" x2="220.45" y2="470" stroke="#0d0d0d" stroke-width="1.1"/>
<line x1="82.4" y1="603.5" x2="82.4" y2="611" stroke="#0d0d0d" stroke-width="1.1"/>
<line x1="80.7" y1="603.5" x2="84.10000000000001" y2="603.5" stroke="#0d0d0d" stroke-width="1.1"/>
<line x1="80.7" y1="611" x2="84.10000000000001" y2="611" stroke="#0d0d0d" stroke-width="1.1"/>
<line x1="116.4" y1="596" x2="116.4" y2="606.5" stroke="#0d0d0d" stroke-width="1.1"/>
<line x1="114.7" y1="596" x2="118.10000000000001" y2="596" stroke="#0d0d0d" stroke-width="1.1"/>
<line x1="114.7" y1="606.5" x2="118.10000000000001" y2="606.5" stroke="#0d0d0d" stroke-width="1.1"/>
<line x1="150.5" y1="595" x2="150.5" y2="603.5" stroke="#0d0d0d" stroke-width="1.1"/>
<line x1="148.8" y1="595" x2="152.2" y2="595" stroke="#0d0d0d" stroke-width="1.1"/>
<line x1="148.8" y1="603.5" x2="152.2" y2="603.5" stroke="#0d0d0d" stroke-width="1.1"/>
<line x1="184.5" y1="593" x2="184.5" y2="601" stroke="#0d0d0d" stroke-width="1.1"/>
<line x1="182.8" y1="593" x2="186.2" y2="593" stroke="#0d0d0d" stroke-width="1.1"/>
<line x1="182.8" y1="601" x2="186.2" y2="601" stroke="#0d0d0d" stroke-width="1.1"/>
<line x1="218.75" y1="554" x2="218.75" y2="576" stroke="#0d0d0d" stroke-width="1.1"/>
<line x1="217.05" y1="554" x2="220.45" y2="554" stroke="#0d0d0d" stroke-width="1.1"/>
<line x1="217.05" y1="576" x2="220.45" y2="576" stroke="#0d0d0d" stroke-width="1.1"/>
<polyline points="82.4,599 117,478 150.75,472.5 184.5,473.75 218.75,460" fill="none" stroke="#0d0d0d" stroke-width="1.3" stroke-linejoin="round"/>
<polyline points="82.4,607.4 116.4,601.6 150.5,599.25 184.5,597 218.75,565" fill="none" stroke="#0d0d0d" stroke-width="1.3" stroke-linejoin="round"/>
<polygon points="82.4,603.1 86.7,607.4 82.4,611.6999999999999 78.10000000000001,607.4" fill="#fff" stroke="#0d0d0d" stroke-width="1.6"/>
<polygon points="116.4,597.3000000000001 120.7,601.6 116.4,605.9 112.10000000000001,601.6" fill="#fff" stroke="#0d0d0d" stroke-width="1.6"/>
<polygon points="150.5,594.95 154.8,599.25 150.5,603.55 146.2,599.25" fill="#fff" stroke="#0d0d0d" stroke-width="1.6"/>
<polygon points="184.5,592.7 188.8,597 184.5,601.3 180.2,597" fill="#fff" stroke="#0d0d0d" stroke-width="1.6"/>
<polygon points="218.75,560.7 223.05,565 218.75,569.3 214.45,565" fill="#fff" stroke="#0d0d0d" stroke-width="1.6"/>
<circle cx="82.4" cy="599" r="3.8" fill="#fff" stroke="#0d0d0d" stroke-width="1.2"/>
<circle cx="117" cy="478" r="3.8" fill="#fff" stroke="#0d0d0d" stroke-width="1.2"/>
<circle cx="150.75" cy="472.5" r="3.8" fill="#fff" stroke="#0d0d0d" stroke-width="1.2"/>
<circle cx="184.5" cy="473.75" r="3.8" fill="#fff" stroke="#0d0d0d" stroke-width="1.2"/>
<circle cx="218.75" cy="460" r="3.8" fill="#fff" stroke="#0d0d0d" stroke-width="1.2"/>
<circle cx="117" cy="577.6" r="3.7" fill="#0d0d0d"/>
<text x="24.6" y="519.6" font-family="'Liberation Serif', serif" font-size="15.5" font-weight="bold" text-anchor="middle" fill="#0d0d0d" textLength="82.2" lengthAdjust="spacingAndGlyphs" transform="rotate(-90 24.6 519.6)">% cell death</text>
<text x="26.9" y="646.3" font-family="'Liberation Serif', serif" font-size="11.5" font-weight="bold" text-anchor="middle" fill="#0d0d0d" stroke="#0d0d0d" stroke-width="0.1" textLength="31.2" lengthAdjust="spacingAndGlyphs" >% cell</text>
<text x="25.25" y="657.5" font-family="'Liberation Serif', serif" font-size="11.5" font-weight="bold" text-anchor="middle" fill="#0d0d0d" stroke="#0d0d0d" stroke-width="0.1" textLength="44.5" lengthAdjust="spacingAndGlyphs" >recovery</text>
<text x="25" y="668.5" font-family="'Liberation Serif', serif" font-size="11" font-weight="bold" text-anchor="middle" fill="#0d0d0d" stroke="#0d0d0d" stroke-width="0.1" textLength="37.5" lengthAdjust="spacingAndGlyphs" >(n = 10)</text>
<text x="114.85" y="652" font-family="'Liberation Serif', serif" font-size="11.5" font-weight="bold" text-anchor="middle" fill="#0d0d0d" stroke="#0d0d0d" stroke-width="0.1" textLength="11.2" lengthAdjust="spacingAndGlyphs" >53</text>
<text x="149.5" y="652" font-family="'Liberation Serif', serif" font-size="11.5" font-weight="bold" text-anchor="middle" fill="#0d0d0d" stroke="#0d0d0d" stroke-width="0.1" textLength="11.4" lengthAdjust="spacingAndGlyphs" >25</text>
<text x="182.9" y="652" font-family="'Liberation Serif', serif" font-size="11.5" font-weight="bold" text-anchor="middle" fill="#0d0d0d" stroke="#0d0d0d" stroke-width="0.1" >8</text>
<text x="217.2" y="652" font-family="'Liberation Serif', serif" font-size="11.5" font-weight="bold" text-anchor="middle" fill="#0d0d0d" stroke="#0d0d0d" stroke-width="0.1" >7</text>
<text x="112.65" y="664.6" font-family="'Liberation Serif', serif" font-size="10.5" font-weight="normal" text-anchor="middle" fill="#0d0d0d" stroke="#0d0d0d" stroke-width="0.4" textLength="25" lengthAdjust="spacing" >(&#177; 9)</text>
<text x="148" y="664.6" font-family="'Liberation Serif', serif" font-size="10.5" font-weight="normal" text-anchor="middle" fill="#0d0d0d" stroke="#0d0d0d" stroke-width="0.4" textLength="26.8" lengthAdjust="spacing" >(&#177; 7)</text>
<text x="182.8" y="664.6" font-family="'Liberation Serif', serif" font-size="10.5" font-weight="normal" text-anchor="middle" fill="#0d0d0d" stroke="#0d0d0d" stroke-width="0.4" textLength="26.8" lengthAdjust="spacing" >(&#177; 2)</text>
<text x="218" y="664.6" font-family="'Liberation Serif', serif" font-size="10.5" font-weight="normal" text-anchor="middle" fill="#0d0d0d" stroke="#0d0d0d" stroke-width="0.4" textLength="27" lengthAdjust="spacing" >(&#177; 2)</text>
<text x="363.4" y="391.7" font-family="'Liberation Serif', serif" font-size="12.5" font-weight="bold" text-anchor="start" fill="#0d0d0d" textLength="50.7" lengthAdjust="spacingAndGlyphs" >anti-CD2</text>
<text x="431.9" y="392" font-family="'Liberation Serif', serif" font-size="12.5" font-weight="bold" text-anchor="start" fill="#0d0d0d" textLength="57.7" lengthAdjust="spacingAndGlyphs" >anti-CD95</text>
<text x="319.5" y="428.75" font-family="'Liberation Serif', serif" font-size="12" font-weight="bold" text-anchor="start" fill="#0d0d0d" textLength="28.5" lengthAdjust="spacingAndGlyphs" >F2-II</text>
<text x="327" y="498" font-family="'Liberation Serif', serif" font-size="12" font-weight="bold" text-anchor="start" fill="#0d0d0d" textLength="13" lengthAdjust="spacingAndGlyphs" >F3</text>
<text x="327" y="565.5" font-family="'Liberation Serif', serif" font-size="12" font-weight="bold" text-anchor="start" fill="#0d0d0d" textLength="13" lengthAdjust="spacingAndGlyphs" >F4</text>
<text x="327" y="630.3" font-family="'Liberation Serif', serif" font-size="12" font-weight="bold" text-anchor="start" fill="#0d0d0d" textLength="13" lengthAdjust="spacingAndGlyphs" >F5</text>
<defs>
<clipPath id="cb0"><rect x="358.9" y="397.4" width="62.35000000000002" height="58.10000000000002"/></clipPath>
<clipPath id="cb1"><rect x="431.35" y="397.4" width="62.14999999999998" height="58.10000000000002"/></clipPath>
<clipPath id="cb2"><rect x="357.9" y="465.4" width="61.60000000000002" height="57.80000000000007"/></clipPath>
<clipPath id="cb3"><rect x="430.7" y="465.4" width="61.5" height="57.80000000000007"/></clipPath>
<clipPath id="cb4"><rect x="358.1" y="532.3" width="61.099999999999966" height="58.0"/></clipPath>
<clipPath id="cb5"><rect x="430.7" y="532.3" width="61.19999999999999" height="58.0"/></clipPath>
<clipPath id="cb6"><rect x="357.9" y="599.4" width="60.900000000000034" height="57.60000000000002"/></clipPath>
<clipPath id="cb7"><rect x="430.4" y="599.4" width="60.900000000000034" height="57.60000000000002"/></clipPath>
</defs>
<g clip-path="url(#cb0)"><path d="M374.25,447.26 L374.27,446.73 L374.30,446.13 L374.36,445.48 L374.49,444.77 L374.70,444.03 L375.02,443.29 L375.43,442.55 L375.91,441.85 L376.41,441.16 L376.91,440.50 L377.38,439.85 L377.81,439.21 L378.22,438.58 L378.66,437.95 L379.13,437.36 L379.64,436.80 L380.19,436.30 L380.77,435.84 L381.36,435.41 L381.94,434.97 L382.52,434.49 L383.10,433.97 L383.67,433.41 L384.26,432.81 L384.86,432.24 L385.49,431.71 L386.13,431.28 L386.78,430.94 L387.42,430.69 L388.03,430.49 L388.64,430.31 L389.23,430.08 L389.81,429.78 L390.41,429.39 L391.02,428.92 L391.63,428.39 L392.25,427.84 L392.88,427.30 L393.50,426.81 L394.10,426.37 L394.68,425.98 L395.24,425.63 L395.80,425.30 L396.35,424.97 L396.91,424.63 L397.45,424.30 L397.99,423.98 L398.50,423.71 L398.97,423.49 L399.41,423.34 L399.80,423.24 L400.17,423.18 L400.53,423.13 L400.90,423.05 L401.28,422.94 L401.70,422.79 L402.13,422.61 L402.58,422.43 L403.00,422.29 L403.39,422.22 L403.70,422.24 L403.94,422.33 L404.11,422.48 L404.25,422.67 L404.38,422.87 L404.55,423.04 L404.77,423.17 L405.06,423.25 L405.42,423.30 L405.84,423.36 L406.31,423.45 L406.81,423.61 L407.35,423.86 L407.92,424.22 L408.52,424.67 L409.15,425.17 L409.81,425.71 L410.49,426.27 L411.17,426.83 L411.84,427.41 L412.46,427.99 L413.00,428.59 L413.42,429.19 L413.73,429.78 L413.96,430.35 L414.17,430.88 L414.41,431.38 L414.68,431.81 L415.00,432.19 L415.35,432.53 L415.71,432.84 L416.04,433.15 L416.27,433.48 L416.38,433.86 L416.33,434.30 L416.10,434.80 L415.72,435.35 L415.23,435.92 L414.67,436.50 L414.10,437.07 L413.52,437.63 L412.96,438.16 L412.41,438.68 L411.84,439.20 L411.25,439.71 L410.62,440.23 L409.95,440.74 L409.26,441.25 L408.55,441.75 L407.80,442.26 L407.04,442.76 L406.26,443.25 L405.45,443.75 L404.60,444.24 L403.68,444.75 L402.67,445.26 L401.58,445.77 L400.41,446.28 L399.22,446.76 L398.06,447.22 L396.95,447.65 L395.93,448.06 L395.00,448.46 L394.17,448.85 L393.39,449.25 L392.64,449.64 L391.85,450.03 L391.02,450.40 L390.12,450.72 L389.19,450.98 L388.26,451.15 L387.39,451.27 L386.58,451.38 L385.78,451.55 L384.95,451.77 L384.07,452.01 L383.15,452.23 L382.23,452.39 L381.32,452.50 L380.47,452.54 L379.67,452.52 L378.92,452.46 L378.22,452.36 L377.54,452.22 L376.87,452.04 L376.20,451.81 L375.57,451.51 L375.00,451.16 L374.55,450.74 L374.24,450.28 L374.07,449.78 L374.02,449.27 L374.06,448.76 L374.13,448.26 L374.20,447.76Z" fill="none" stroke="#0d0d0d" stroke-width="1.4" stroke-linejoin="round"/><path d="M375.93,447.41 L375.81,446.93 L375.73,446.40 L375.74,445.81 L375.85,445.19 L376.06,444.54 L376.36,443.90 L376.74,443.26 L377.16,442.64 L377.59,442.04 L378.02,441.45 L378.44,440.88 L378.85,440.36 L379.27,439.89 L379.73,439.47 L380.23,439.11 L380.75,438.81 L381.28,438.54 L381.80,438.28 L382.29,437.99 L382.76,437.65 L383.22,437.23 L383.66,436.75 L384.12,436.23 L384.58,435.69 L385.07,435.19 L385.58,434.74 L386.11,434.36 L386.64,434.04 L387.17,433.76 L387.69,433.48 L388.22,433.17 L388.74,432.81 L389.28,432.39 L389.82,431.92 L390.36,431.44 L390.90,430.97 L391.43,430.53 L391.95,430.14 L392.45,429.80 L392.94,429.50 L393.41,429.24 L393.88,428.98 L394.34,428.73 L394.80,428.47 L395.24,428.24 L395.67,428.04 L396.06,427.89 L396.42,427.80 L396.74,427.76 L397.03,427.77 L397.30,427.78 L397.58,427.78 L397.88,427.72 L398.21,427.61 L398.58,427.43 L398.97,427.21 L399.39,426.98 L399.79,426.77 L400.18,426.61 L400.52,426.52 L400.81,426.49 L401.05,426.51 L401.25,426.56 L401.44,426.62 L401.64,426.67 L401.87,426.69 L402.13,426.70 L402.42,426.71 L402.73,426.75 L403.06,426.84 L403.40,427.00 L403.75,427.23 L404.13,427.55 L404.54,427.93 L404.99,428.37 L405.48,428.83 L406.01,429.31 L406.54,429.81 L407.07,430.33 L407.56,430.87 L407.98,431.43 L408.32,432.01 L408.57,432.57 L408.74,433.11 L408.90,433.59 L409.10,434.02 L409.37,434.37 L409.70,434.67 L410.09,434.91 L410.51,435.13 L410.91,435.33 L411.26,435.56 L411.50,435.81 L411.63,436.12 L411.63,436.47 L411.50,436.86 L411.26,437.29 L410.95,437.73 L410.59,438.18 L410.19,438.63 L409.75,439.09 L409.28,439.54 L408.74,440.01 L408.15,440.49 L407.51,440.98 L406.82,441.47 L406.12,441.95 L405.44,442.41 L404.77,442.85 L404.10,443.28 L403.43,443.70 L402.74,444.12 L402.01,444.55 L401.23,444.98 L400.36,445.41 L399.43,445.85 L398.46,446.27 L397.47,446.69 L396.52,447.07 L395.65,447.43 L394.88,447.77 L394.19,448.10 L393.58,448.43 L393.01,448.77 L392.46,449.12 L391.88,449.48 L391.24,449.85 L390.54,450.20 L389.78,450.52 L388.99,450.81 L388.19,451.06 L387.39,451.27 L386.59,451.46 L385.77,451.62 L384.96,451.75 L384.16,451.84 L383.41,451.87 L382.72,451.85 L382.09,451.81 L381.50,451.74 L380.94,451.67 L380.39,451.59 L379.84,451.51 L379.28,451.41 L378.72,451.28 L378.17,451.10 L377.66,450.86 L377.22,450.58 L376.89,450.24 L376.65,449.87 L376.49,449.48 L376.39,449.08 L376.30,448.67 L376.20,448.26 L376.07,447.84Z" fill="none" stroke="#0d0d0d" stroke-width="1.4" stroke-linejoin="round"/><path d="M377.21,447.52 L377.18,447.11 L377.23,446.67 L377.36,446.20 L377.58,445.71 L377.86,445.22 L378.18,444.73 L378.53,444.23 L378.86,443.73 L379.18,443.22 L379.48,442.70 L379.76,442.18 L380.04,441.68 L380.35,441.23 L380.71,440.84 L381.12,440.52 L381.56,440.27 L382.03,440.08 L382.48,439.92 L382.92,439.75 L383.34,439.54 L383.73,439.26 L384.10,438.91 L384.47,438.51 L384.85,438.07 L385.24,437.61 L385.66,437.17 L386.09,436.76 L386.54,436.38 L386.99,436.02 L387.44,435.67 L387.90,435.32 L388.36,434.95 L388.82,434.59 L389.28,434.23 L389.72,433.91 L390.15,433.63 L390.55,433.40 L390.94,433.21 L391.32,433.05 L391.68,432.90 L392.05,432.74 L392.42,432.54 L392.81,432.31 L393.21,432.04 L393.61,431.77 L394.01,431.52 L394.38,431.30 L394.71,431.16 L395.00,431.08 L395.26,431.05 L395.49,431.06 L395.72,431.07 L395.94,431.07 L396.19,431.03 L396.46,430.94 L396.76,430.81 L397.07,430.66 L397.40,430.51 L397.71,430.37 L398.02,430.27 L398.29,430.20 L398.54,430.14 L398.77,430.09 L398.99,430.05 L399.22,430.01 L399.45,429.98 L399.68,429.97 L399.92,430.00 L400.14,430.09 L400.35,430.25 L400.55,430.49 L400.75,430.79 L400.97,431.15 L401.24,431.56 L401.56,431.97 L401.93,432.38 L402.37,432.76 L402.84,433.14 L403.34,433.51 L403.82,433.89 L404.25,434.29 L404.62,434.70 L404.91,435.12 L405.12,435.53 L405.29,435.91 L405.47,436.26 L405.68,436.57 L405.92,436.84 L406.18,437.08 L406.46,437.30 L406.73,437.51 L406.95,437.72 L407.12,437.95 L407.22,438.21 L407.24,438.49 L407.19,438.79 L407.07,439.11 L406.90,439.44 L406.68,439.78 L406.41,440.14 L406.09,440.50 L405.68,440.89 L405.20,441.30 L404.62,441.73 L403.98,442.18 L403.28,442.62 L402.58,443.06 L401.91,443.47 L401.27,443.86 L400.67,444.23 L400.11,444.57 L399.57,444.91 L399.04,445.24 L398.48,445.57 L397.88,445.91 L397.22,446.25 L396.53,446.58 L395.81,446.92 L395.09,447.24 L394.40,447.54 L393.76,447.83 L393.14,448.12 L392.56,448.41 L392.00,448.70 L391.43,448.99 L390.84,449.27 L390.23,449.55 L389.61,449.80 L388.99,450.05 L388.37,450.28 L387.76,450.51 L387.15,450.75 L386.50,450.99 L385.80,451.20 L385.08,451.36 L384.37,451.43 L383.73,451.43 L383.17,451.36 L382.70,451.26 L382.28,451.14 L381.91,451.02 L381.53,450.92 L381.14,450.82 L380.73,450.73 L380.28,450.63 L379.81,450.51 L379.33,450.35 L378.88,450.14 L378.49,449.89 L378.17,449.61 L377.91,449.30 L377.71,448.97 L377.54,448.62 L377.40,448.26 L377.29,447.90Z" fill="none" stroke="#0d0d0d" stroke-width="1.4" stroke-linejoin="round"/><path d="M379.08,447.68 L379.04,447.36 L379.08,447.01 L379.19,446.64 L379.37,446.26 L379.59,445.87 L379.83,445.47 L380.08,445.07 L380.32,444.66 L380.56,444.24 L380.80,443.83 L381.04,443.42 L381.28,443.05 L381.54,442.72 L381.83,442.41 L382.13,442.13 L382.44,441.85 L382.74,441.56 L383.04,441.25 L383.34,440.91 L383.65,440.55 L383.96,440.19 L384.29,439.85 L384.64,439.55 L384.99,439.30 L385.35,439.12 L385.71,438.98 L386.07,438.87 L386.43,438.76 L386.78,438.62 L387.13,438.43 L387.48,438.19 L387.84,437.91 L388.20,437.61 L388.56,437.30 L388.92,437.01 L389.27,436.74 L389.60,436.50 L389.94,436.28 L390.27,436.06 L390.60,435.83 L390.94,435.60 L391.27,435.36 L391.61,435.12 L391.94,434.90 L392.26,434.72 L392.55,434.57 L392.82,434.46 L393.07,434.38 L393.31,434.32 L393.54,434.25 L393.78,434.16 L394.04,434.04 L394.31,433.90 L394.58,433.75 L394.85,433.60 L395.11,433.49 L395.33,433.43 L395.53,433.42 L395.68,433.47 L395.82,433.56 L395.93,433.67 L396.03,433.76 L396.14,433.83 L396.27,433.87 L396.42,433.88 L396.59,433.87 L396.78,433.86 L396.98,433.86 L397.18,433.89 L397.40,433.96 L397.62,434.07 L397.88,434.20 L398.17,434.36 L398.50,434.56 L398.87,434.78 L399.27,435.03 L399.67,435.32 L400.06,435.64 L400.42,435.99 L400.73,436.38 L400.99,436.78 L401.21,437.19 L401.40,437.56 L401.57,437.89 L401.76,438.17 L401.99,438.41 L402.25,438.61 L402.52,438.79 L402.78,438.97 L403.00,439.16 L403.15,439.37 L403.23,439.60 L403.23,439.86 L403.17,440.13 L403.05,440.42 L402.90,440.71 L402.72,441.00 L402.53,441.29 L402.31,441.58 L402.07,441.87 L401.81,442.16 L401.50,442.46 L401.16,442.77 L400.79,443.08 L400.40,443.39 L400.02,443.69 L399.66,443.98 L399.32,444.25 L398.98,444.52 L398.61,444.80 L398.19,445.08 L397.71,445.37 L397.16,445.68 L396.55,445.99 L395.89,446.30 L395.21,446.61 L394.53,446.90 L393.90,447.18 L393.32,447.44 L392.80,447.68 L392.33,447.91 L391.88,448.15 L391.42,448.39 L390.94,448.63 L390.43,448.86 L389.88,449.07 L389.31,449.27 L388.73,449.43 L388.18,449.57 L387.67,449.69 L387.21,449.81 L386.77,449.93 L386.33,450.07 L385.87,450.22 L385.38,450.35 L384.87,450.46 L384.37,450.54 L383.87,450.60 L383.38,450.64 L382.88,450.68 L382.38,450.71 L381.88,450.71 L381.40,450.69 L380.96,450.63 L380.58,450.51 L380.26,450.35 L380.01,450.13 L379.84,449.89 L379.72,449.63 L379.65,449.36 L379.58,449.09 L379.50,448.82 L379.40,448.55 L379.28,448.27 L379.17,447.98Z" fill="none" stroke="#0d0d0d" stroke-width="1.4" stroke-linejoin="round"/><path d="M395.64,439.95 L395.75,440.28 L395.76,440.65 L395.67,441.05 L395.50,441.48 L395.24,441.92 L394.89,442.37 L394.46,442.84 L393.95,443.30 L393.36,443.77 L392.71,444.22 L392.00,444.66 L391.23,445.09 L390.43,445.50 L389.59,445.88 L388.73,446.24 L387.85,446.57 L386.98,446.87 L386.11,447.14 L385.25,447.38 L384.43,447.58 L383.64,447.74 L382.90,447.87 L382.22,447.96 L381.59,448.01 L381.04,448.02 L380.56,447.99 L380.15,447.92 L379.83,447.81 L379.60,447.65 L379.46,447.45 L379.40,447.21 L379.43,446.94 L379.55,446.62 L379.76,446.26 L380.04,445.88 L380.41,445.46 L380.85,445.02 L381.36,444.55 L381.94,444.07 L382.57,443.57 L383.26,443.08 L383.99,442.58 L384.76,442.09 L385.55,441.61 L386.37,441.16 L387.20,440.73 L388.04,440.34 L388.87,439.99 L389.69,439.68 L390.49,439.43 L391.25,439.22 L391.99,439.07 L392.67,438.98 L393.31,438.95 L393.88,438.98 L394.39,439.07 L394.82,439.21 L395.18,439.41 L395.45,439.66Z" fill="none" stroke="#0d0d0d" stroke-width="1.4" stroke-linejoin="round"/><path d="M397.28,439.19 L397.45,439.71 L397.52,440.27 L397.47,440.86 L397.31,441.47 L397.04,442.10 L396.67,442.74 L396.18,443.38 L395.60,444.01 L394.92,444.62 L394.16,445.21 L393.32,445.78 L392.41,446.31 L391.45,446.81 L390.44,447.27 L389.40,447.69 L388.34,448.07 L387.27,448.40 L386.21,448.68 L385.16,448.91 L384.14,449.10 L383.17,449.24 L382.25,449.33 L381.39,449.36 L380.61,449.35 L379.91,449.29 L379.29,449.18 L378.77,449.01 L378.35,448.79 L378.03,448.53 L377.82,448.21 L377.72,447.84 L377.72,447.43 L377.82,446.97 L378.03,446.46 L378.34,445.92 L378.75,445.34 L379.25,444.74 L379.83,444.11 L380.49,443.46 L381.23,442.81 L382.03,442.15 L382.88,441.51 L383.79,440.88 L384.73,440.28 L385.70,439.71 L386.69,439.18 L387.69,438.71 L388.70,438.30 L389.69,437.95 L390.67,437.68 L391.61,437.48 L392.52,437.36 L393.37,437.32 L394.17,437.36 L394.90,437.49 L395.56,437.69 L396.13,437.97 L396.61,438.31 L397.00,438.72Z" fill="none" stroke="#0d0d0d" stroke-width="1.4" stroke-linejoin="round"/></g>
<rect x="358.9" y="397.4" width="62.35000000000002" height="58.10000000000002" fill="none" stroke="#0d0d0d" stroke-width="1.3"/>
<line x1="358.9" y1="455.5" x2="358.9" y2="458.5" stroke="#0d0d0d" stroke-width="0.9"/>
<line x1="363.59230505741226" y1="455.5" x2="363.59230505741226" y2="457.5" stroke="#0d0d0d" stroke-width="0.9"/>
<line x1="366.3371275579427" y1="455.5" x2="366.3371275579427" y2="457.5" stroke="#0d0d0d" stroke-width="0.9"/>
<line x1="368.2846101148246" y1="455.5" x2="368.2846101148246" y2="457.5" stroke="#0d0d0d" stroke-width="0.9"/>
<line x1="369.79519494258767" y1="455.5" x2="369.79519494258767" y2="457.5" stroke="#0d0d0d" stroke-width="0.9"/>
<line x1="371.029432615355" y1="455.5" x2="371.029432615355" y2="457.5" stroke="#0d0d0d" stroke-width="0.9"/>
<line x1="372.0729656987222" y1="455.5" x2="372.0729656987222" y2="457.5" stroke="#0d0d0d" stroke-width="0.9"/>
<line x1="372.9769151722369" y1="455.5" x2="372.9769151722369" y2="457.5" stroke="#0d0d0d" stroke-width="0.9"/>
<line x1="373.77425511588547" y1="455.5" x2="373.77425511588547" y2="457.5" stroke="#0d0d0d" stroke-width="0.9"/>
<line x1="374.48749999999995" y1="455.5" x2="374.48749999999995" y2="458.5" stroke="#0d0d0d" stroke-width="0.9"/>
<line x1="379.17980505741224" y1="455.5" x2="379.17980505741224" y2="457.5" stroke="#0d0d0d" stroke-width="0.9"/>
<line x1="381.9246275579427" y1="455.5" x2="381.9246275579427" y2="457.5" stroke="#0d0d0d" stroke-width="0.9"/>
<line x1="383.8721101148246" y1="455.5" x2="383.8721101148246" y2="457.5" stroke="#0d0d0d" stroke-width="0.9"/>
<line x1="385.38269494258765" y1="455.5" x2="385.38269494258765" y2="457.5" stroke="#0d0d0d" stroke-width="0.9"/>
<line x1="386.616932615355" y1="455.5" x2="386.616932615355" y2="457.5" stroke="#0d0d0d" stroke-width="0.9"/>
<line x1="387.6604656987222" y1="455.5" x2="387.6604656987222" y2="457.5" stroke="#0d0d0d" stroke-width="0.9"/>
<line x1="388.56441517223686" y1="455.5" x2="388.56441517223686" y2="457.5" stroke="#0d0d0d" stroke-width="0.9"/>
<line x1="389.36175511588544" y1="455.5" x2="389.36175511588544" y2="457.5" stroke="#0d0d0d" stroke-width="0.9"/>
<line x1="390.075" y1="455.5" x2="390.075" y2="458.5" stroke="#0d0d0d" stroke-width="0.9"/>
<line x1="394.7673050574123" y1="455.5" x2="394.7673050574123" y2="457.5" stroke="#0d0d0d" stroke-width="0.9"/>
<line x1="397.51212755794273" y1="455.5" x2="397.51212755794273" y2="457.5" stroke="#0d0d0d" stroke-width="0.9"/>
<line x1="399.4596101148246" y1="455.5" x2="399.4596101148246" y2="457.5" stroke="#0d0d0d" stroke-width="0.9"/>
<line x1="400.9701949425877" y1="455.5" x2="400.9701949425877" y2="457.5" stroke="#0d0d0d" stroke-width="0.9"/>
<line x1="402.204432615355" y1="455.5" x2="402.204432615355" y2="457.5" stroke="#0d0d0d" stroke-width="0.9"/>
<line x1="403.2479656987222" y1="455.5" x2="403.2479656987222" y2="457.5" stroke="#0d0d0d" stroke-width="0.9"/>
<line x1="404.1519151722369" y1="455.5" x2="404.1519151722369" y2="457.5" stroke="#0d0d0d" stroke-width="0.9"/>
<line x1="404.9492551158855" y1="455.5" x2="404.9492551158855" y2="457.5" stroke="#0d0d0d" stroke-width="0.9"/>
<line x1="405.6625" y1="455.5" x2="405.6625" y2="458.5" stroke="#0d0d0d" stroke-width="0.9"/>
<line x1="410.3548050574123" y1="455.5" x2="410.3548050574123" y2="457.5" stroke="#0d0d0d" stroke-width="0.9"/>
<line x1="413.09962755794277" y1="455.5" x2="413.09962755794277" y2="457.5" stroke="#0d0d0d" stroke-width="0.9"/>
<line x1="415.04711011482465" y1="455.5" x2="415.04711011482465" y2="457.5" stroke="#0d0d0d" stroke-width="0.9"/>
<line x1="416.5576949425877" y1="455.5" x2="416.5576949425877" y2="457.5" stroke="#0d0d0d" stroke-width="0.9"/>
<line x1="417.79193261535505" y1="455.5" x2="417.79193261535505" y2="457.5" stroke="#0d0d0d" stroke-width="0.9"/>
<line x1="418.83546569872226" y1="455.5" x2="418.83546569872226" y2="457.5" stroke="#0d0d0d" stroke-width="0.9"/>
<line x1="419.73941517223693" y1="455.5" x2="419.73941517223693" y2="457.5" stroke="#0d0d0d" stroke-width="0.9"/>
<line x1="420.5367551158855" y1="455.5" x2="420.5367551158855" y2="457.5" stroke="#0d0d0d" stroke-width="0.9"/>
<line x1="355.9" y1="455.5" x2="358.9" y2="455.5" stroke="#0d0d0d" stroke-width="0.9"/>
<line x1="356.9" y1="451.1275393129807" x2="358.9" y2="451.1275393129807" stroke="#0d0d0d" stroke-width="0.9"/>
<line x1="356.9" y1="448.5698137751969" x2="358.9" y2="448.5698137751969" stroke="#0d0d0d" stroke-width="0.9"/>
<line x1="356.9" y1="446.75507862596135" x2="358.9" y2="446.75507862596135" stroke="#0d0d0d" stroke-width="0.9"/>
<line x1="356.9" y1="445.3474606870193" x2="358.9" y2="445.3474606870193" stroke="#0d0d0d" stroke-width="0.9"/>
<line x1="356.9" y1="444.1973530881776" x2="358.9" y2="444.1973530881776" stroke="#0d0d0d" stroke-width="0.9"/>
<line x1="356.9" y1="443.22495096879294" x2="358.9" y2="443.22495096879294" stroke="#0d0d0d" stroke-width="0.9"/>
<line x1="356.9" y1="442.382617938942" x2="358.9" y2="442.382617938942" stroke="#0d0d0d" stroke-width="0.9"/>
<line x1="356.9" y1="441.6396275503938" x2="358.9" y2="441.6396275503938" stroke="#0d0d0d" stroke-width="0.9"/>
<line x1="355.9" y1="440.975" x2="358.9" y2="440.975" stroke="#0d0d0d" stroke-width="0.9"/>
<line x1="356.9" y1="436.6025393129807" x2="358.9" y2="436.6025393129807" stroke="#0d0d0d" stroke-width="0.9"/>
<line x1="356.9" y1="434.0448137751969" x2="358.9" y2="434.0448137751969" stroke="#0d0d0d" stroke-width="0.9"/>
<line x1="356.9" y1="432.23007862596137" x2="358.9" y2="432.23007862596137" stroke="#0d0d0d" stroke-width="0.9"/>
<line x1="356.9" y1="430.8224606870193" x2="358.9" y2="430.8224606870193" stroke="#0d0d0d" stroke-width="0.9"/>
<line x1="356.9" y1="429.6723530881776" x2="358.9" y2="429.6723530881776" stroke="#0d0d0d" stroke-width="0.9"/>
<line x1="356.9" y1="428.69995096879296" x2="358.9" y2="428.69995096879296" stroke="#0d0d0d" stroke-width="0.9"/>
<line x1="356.9" y1="427.85761793894204" x2="358.9" y2="427.85761793894204" stroke="#0d0d0d" stroke-width="0.9"/>
<line x1="356.9" y1="427.11462755039383" x2="358.9" y2="427.11462755039383" stroke="#0d0d0d" stroke-width="0.9"/>
<line x1="355.9" y1="426.45" x2="358.9" y2="426.45" stroke="#0d0d0d" stroke-width="0.9"/>
<line x1="356.9" y1="422.07753931298066" x2="358.9" y2="422.07753931298066" stroke="#0d0d0d" stroke-width="0.9"/>
<line x1="356.9" y1="419.5198137751969" x2="358.9" y2="419.5198137751969" stroke="#0d0d0d" stroke-width="0.9"/>
<line x1="356.9" y1="417.70507862596133" x2="358.9" y2="417.70507862596133" stroke="#0d0d0d" stroke-width="0.9"/>
<line x1="356.9" y1="416.29746068701934" x2="358.9" y2="416.29746068701934" stroke="#0d0d0d" stroke-width="0.9"/>
<line x1="356.9" y1="415.14735308817757" x2="358.9" y2="415.14735308817757" stroke="#0d0d0d" stroke-width="0.9"/>
<line x1="356.9" y1="414.1749509687929" x2="358.9" y2="414.1749509687929" stroke="#0d0d0d" stroke-width="0.9"/>
<line x1="356.9" y1="413.332617938942" x2="358.9" y2="413.332617938942" stroke="#0d0d0d" stroke-width="0.9"/>
<line x1="356.9" y1="412.5896275503938" x2="358.9" y2="412.5896275503938" stroke="#0d0d0d" stroke-width="0.9"/>
<line x1="355.9" y1="411.92499999999995" x2="358.9" y2="411.92499999999995" stroke="#0d0d0d" stroke-width="0.9"/>
<line x1="356.9" y1="407.5525393129806" x2="358.9" y2="407.5525393129806" stroke="#0d0d0d" stroke-width="0.9"/>
<line x1="356.9" y1="404.99481377519686" x2="358.9" y2="404.99481377519686" stroke="#0d0d0d" stroke-width="0.9"/>
<line x1="356.9" y1="403.1800786259613" x2="358.9" y2="403.1800786259613" stroke="#0d0d0d" stroke-width="0.9"/>
<line x1="356.9" y1="401.77246068701925" x2="358.9" y2="401.77246068701925" stroke="#0d0d0d" stroke-width="0.9"/>
<line x1="356.9" y1="400.62235308817753" x2="358.9" y2="400.62235308817753" stroke="#0d0d0d" stroke-width="0.9"/>
<line x1="356.9" y1="399.6499509687929" x2="358.9" y2="399.6499509687929" stroke="#0d0d0d" stroke-width="0.9"/>
<line x1="356.9" y1="398.807617938942" x2="358.9" y2="398.807617938942" stroke="#0d0d0d" stroke-width="0.9"/>
<line x1="356.9" y1="398.06462755039377" x2="358.9" y2="398.06462755039377" stroke="#0d0d0d" stroke-width="0.9"/>
<text x="362.2" y="410.6" font-family="'Liberation Serif', serif" font-size="13" font-weight="bold" text-anchor="start" fill="#0d0d0d" textLength="18.8" lengthAdjust="spacingAndGlyphs" >500</text>
<g clip-path="url(#cb1)"><path d="M443.63,448.32 L443.57,447.73 L443.63,447.07 L443.84,446.34 L444.21,445.57 L444.72,444.79 L445.35,444.01 L446.06,443.26 L446.80,442.54 L447.52,441.86 L448.20,441.21 L448.80,440.60 L449.33,440.02 L449.82,439.48 L450.31,438.95 L450.83,438.46 L451.37,437.99 L451.94,437.55 L452.54,437.13 L453.15,436.70 L453.75,436.26 L454.35,435.77 L454.95,435.22 L455.56,434.63 L456.18,433.99 L456.84,433.33 L457.54,432.69 L458.28,432.09 L459.05,431.55 L459.82,431.08 L460.58,430.65 L461.33,430.24 L462.07,429.81 L462.79,429.36 L463.50,428.85 L464.20,428.31 L464.91,427.76 L465.61,427.23 L466.33,426.74 L467.04,426.32 L467.73,425.99 L468.39,425.75 L469.02,425.58 L469.61,425.46 L470.17,425.35 L470.71,425.23 L471.24,425.06 L471.76,424.85 L472.26,424.59 L472.74,424.29 L473.20,423.96 L473.62,423.63 L474.01,423.31 L474.37,423.00 L474.71,422.72 L475.05,422.43 L475.40,422.14 L475.77,421.84 L476.17,421.54 L476.60,421.25 L477.05,420.99 L477.50,420.80 L477.93,420.68 L478.33,420.66 L478.68,420.75 L478.98,420.93 L479.25,421.18 L479.49,421.47 L479.74,421.77 L480.00,422.05 L480.29,422.30 L480.61,422.50 L480.96,422.67 L481.33,422.84 L481.69,423.04 L482.03,423.29 L482.33,423.60 L482.59,423.98 L482.81,424.41 L482.99,424.87 L483.17,425.34 L483.35,425.81 L483.55,426.25 L483.77,426.66 L484.02,427.05 L484.29,427.42 L484.58,427.81 L484.87,428.22 L485.15,428.65 L485.41,429.09 L485.65,429.55 L485.88,430.00 L486.11,430.44 L486.34,430.85 L486.57,431.23 L486.78,431.59 L486.94,431.94 L487.03,432.30 L487.03,432.69 L486.91,433.13 L486.67,433.61 L486.31,434.13 L485.85,434.68 L485.32,435.24 L484.77,435.79 L484.22,436.31 L483.70,436.81 L483.23,437.26 L482.80,437.68 L482.39,438.07 L481.96,438.44 L481.49,438.82 L480.97,439.19 L480.38,439.58 L479.74,439.98 L479.05,440.39 L478.35,440.80 L477.64,441.21 L476.94,441.62 L476.25,442.03 L475.57,442.44 L474.86,442.88 L474.10,443.35 L473.27,443.84 L472.38,444.36 L471.44,444.89 L470.46,445.43 L469.49,445.95 L468.54,446.46 L467.65,446.95 L466.83,447.43 L466.06,447.91 L465.33,448.42 L464.54,448.98 L463.60,449.61 L462.43,450.21 L461.17,450.60 L460.03,450.78 L459.08,450.89 L458.26,450.98 L457.52,451.08 L456.82,451.22 L456.11,451.38 L455.40,451.57 L454.68,451.77 L453.96,451.98 L453.25,452.18 L452.57,452.36 L451.93,452.52 L451.34,452.63 L450.79,452.72 L450.26,452.77 L449.75,452.80 L449.23,452.80 L448.69,452.78 L448.14,452.73 L447.59,452.64 L447.05,452.50 L446.52,452.31 L446.03,452.07 L445.61,451.77 L445.25,451.43 L444.95,451.05 L444.69,450.65 L444.45,450.22 L444.22,449.78 L443.99,449.32 L443.78,448.83Z" fill="none" stroke="#0d0d0d" stroke-width="1.4" stroke-linejoin="round"/><path d="M447.18,448.11 L447.09,447.65 L447.05,447.11 L447.07,446.52 L447.17,445.87 L447.37,445.19 L447.68,444.49 L448.07,443.79 L448.53,443.11 L449.03,442.46 L449.54,441.85 L450.04,441.27 L450.52,440.75 L450.98,440.28 L451.48,439.85 L452.00,439.46 L452.55,439.11 L453.14,438.81 L453.75,438.55 L454.37,438.31 L454.97,438.07 L455.56,437.80 L456.12,437.47 L456.65,437.08 L457.17,436.62 L457.70,436.10 L458.25,435.55 L458.84,435.00 L459.44,434.49 L460.07,434.02 L460.69,433.61 L461.31,433.24 L461.91,432.89 L462.50,432.54 L463.08,432.16 L463.66,431.74 L464.23,431.28 L464.82,430.80 L465.43,430.32 L466.06,429.84 L466.68,429.41 L467.29,429.04 L467.88,428.72 L468.44,428.47 L468.98,428.26 L469.48,428.07 L469.96,427.89 L470.41,427.70 L470.84,427.51 L471.23,427.30 L471.58,427.10 L471.89,426.92 L472.16,426.76 L472.39,426.64 L472.60,426.55 L472.79,426.48 L472.98,426.42 L473.20,426.33 L473.44,426.22 L473.74,426.08 L474.08,425.91 L474.45,425.75 L474.84,425.60 L475.22,425.49 L475.59,425.44 L475.92,425.46 L476.22,425.55 L476.49,425.70 L476.74,425.89 L476.98,426.10 L477.23,426.29 L477.50,426.46 L477.80,426.61 L478.12,426.74 L478.45,426.87 L478.78,427.03 L479.10,427.22 L479.39,427.46 L479.65,427.75 L479.87,428.08 L480.07,428.43 L480.26,428.81 L480.44,429.18 L480.62,429.54 L480.81,429.90 L481.00,430.25 L481.19,430.63 L481.37,431.04 L481.51,431.48 L481.62,431.94 L481.68,432.43 L481.72,432.91 L481.75,433.38 L481.78,433.83 L481.83,434.23 L481.90,434.58 L481.98,434.89 L482.06,435.18 L482.13,435.46 L482.16,435.74 L482.12,436.05 L482.01,436.38 L481.80,436.75 L481.52,437.14 L481.18,437.54 L480.81,437.94 L480.43,438.33 L480.05,438.70 L479.70,439.06 L479.35,439.39 L478.99,439.71 L478.61,440.02 L478.19,440.33 L477.72,440.65 L477.19,440.99 L476.61,441.33 L476.01,441.69 L475.38,442.05 L474.75,442.41 L474.13,442.77 L473.50,443.14 L472.86,443.53 L472.17,443.94 L471.42,444.37 L470.60,444.83 L469.72,445.29 L468.78,445.76 L467.82,446.22 L466.86,446.65 L465.95,447.04 L465.12,447.39 L464.38,447.70 L463.75,447.99 L463.19,448.30 L462.62,448.67 L461.98,449.14 L461.17,449.63 L460.27,450.04 L459.39,450.35 L458.56,450.59 L457.80,450.79 L457.09,450.97 L456.42,451.13 L455.77,451.29 L455.15,451.44 L454.56,451.59 L453.98,451.73 L453.44,451.85 L452.95,451.94 L452.50,452.00 L452.10,452.03 L451.74,452.03 L451.40,452.00 L451.05,451.96 L450.69,451.90 L450.31,451.83 L449.91,451.73 L449.49,451.60 L449.06,451.44 L448.66,451.24 L448.32,450.99 L448.04,450.70 L447.83,450.38 L447.68,450.04 L447.57,449.68 L447.47,449.30 L447.38,448.92 L447.28,448.52Z" fill="none" stroke="#0d0d0d" stroke-width="1.4" stroke-linejoin="round"/><path d="M449.08,448.00 L449.15,447.59 L449.30,447.14 L449.51,446.65 L449.75,446.13 L450.00,445.59 L450.26,445.02 L450.50,444.44 L450.75,443.84 L451.01,443.25 L451.31,442.67 L451.65,442.14 L452.04,441.69 L452.49,441.31 L453.00,441.01 L453.55,440.78 L454.11,440.58 L454.66,440.41 L455.18,440.23 L455.66,440.02 L456.12,439.78 L456.56,439.48 L456.98,439.15 L457.41,438.79 L457.85,438.42 L458.30,438.03 L458.77,437.64 L459.26,437.24 L459.76,436.83 L460.27,436.41 L460.77,435.97 L461.29,435.50 L461.80,435.04 L462.32,434.58 L462.83,434.15 L463.33,433.77 L463.82,433.45 L464.29,433.20 L464.76,432.99 L465.23,432.80 L465.69,432.61 L466.16,432.41 L466.63,432.18 L467.11,431.92 L467.59,431.64 L468.06,431.35 L468.52,431.08 L468.93,430.84 L469.30,430.65 L469.61,430.52 L469.87,430.42 L470.08,430.36 L470.25,430.32 L470.42,430.27 L470.59,430.20 L470.77,430.10 L470.97,429.97 L471.19,429.82 L471.44,429.67 L471.69,429.53 L471.96,429.42 L472.23,429.35 L472.51,429.30 L472.78,429.28 L473.06,429.28 L473.35,429.27 L473.65,429.27 L473.96,429.27 L474.27,429.28 L474.58,429.31 L474.88,429.37 L475.14,429.48 L475.36,429.64 L475.55,429.86 L475.70,430.12 L475.84,430.42 L475.97,430.73 L476.12,431.03 L476.29,431.31 L476.48,431.56 L476.71,431.79 L476.95,432.01 L477.18,432.24 L477.40,432.49 L477.57,432.76 L477.72,433.07 L477.83,433.43 L477.92,433.81 L478.00,434.21 L478.07,434.61 L478.15,434.99 L478.25,435.34 L478.35,435.68 L478.47,435.99 L478.57,436.29 L478.64,436.58 L478.67,436.87 L478.65,437.16 L478.60,437.45 L478.51,437.75 L478.41,438.04 L478.31,438.32 L478.20,438.59 L478.09,438.85 L477.97,439.10 L477.82,439.36 L477.63,439.63 L477.38,439.92 L477.06,440.23 L476.67,440.55 L476.21,440.89 L475.71,441.23 L475.18,441.56 L474.65,441.88 L474.15,442.18 L473.67,442.47 L473.23,442.74 L472.80,443.00 L472.37,443.26 L471.92,443.54 L471.42,443.84 L470.87,444.17 L470.25,444.52 L469.57,444.90 L468.86,445.28 L468.14,445.66 L467.43,446.04 L466.74,446.39 L466.07,446.74 L465.44,447.07 L464.82,447.38 L464.22,447.68 L463.62,447.95 L463.02,448.21 L462.40,448.46 L461.79,448.71 L461.17,448.99 L460.52,449.30 L459.82,449.61 L459.09,449.93 L458.35,450.22 L457.63,450.48 L456.95,450.70 L456.34,450.87 L455.82,450.98 L455.39,451.05 L455.03,451.08 L454.74,451.09 L454.47,451.08 L454.21,451.07 L453.93,451.07 L453.63,451.08 L453.29,451.09 L452.93,451.10 L452.55,451.08 L452.18,451.05 L451.84,450.97 L451.51,450.86 L451.21,450.70 L450.92,450.52 L450.65,450.32 L450.38,450.09 L450.12,449.85 L449.86,449.59 L449.61,449.32 L449.38,449.02 L449.21,448.70 L449.10,448.36Z" fill="none" stroke="#0d0d0d" stroke-width="1.4" stroke-linejoin="round"/><path d="M451.53,447.85 L451.69,447.53 L451.86,447.17 L452.04,446.79 L452.22,446.38 L452.39,445.95 L452.56,445.50 L452.74,445.04 L452.95,444.57 L453.18,444.11 L453.44,443.67 L453.72,443.26 L454.00,442.88 L454.28,442.54 L454.57,442.22 L454.88,441.91 L455.19,441.62 L455.53,441.33 L455.89,441.07 L456.28,440.83 L456.70,440.63 L457.13,440.46 L457.58,440.31 L458.02,440.16 L458.44,440.00 L458.85,439.79 L459.25,439.54 L459.64,439.22 L460.04,438.86 L460.44,438.46 L460.85,438.05 L461.27,437.65 L461.69,437.29 L462.10,436.97 L462.51,436.71 L462.90,436.49 L463.27,436.31 L463.64,436.15 L464.01,435.98 L464.39,435.79 L464.78,435.58 L465.18,435.35 L465.57,435.11 L465.97,434.88 L466.35,434.66 L466.72,434.46 L467.07,434.27 L467.40,434.10 L467.70,433.93 L467.98,433.76 L468.25,433.57 L468.50,433.37 L468.73,433.16 L468.96,432.97 L469.16,432.80 L469.34,432.67 L469.49,432.59 L469.62,432.56 L469.74,432.58 L469.86,432.63 L469.98,432.70 L470.13,432.76 L470.30,432.81 L470.50,432.83 L470.72,432.82 L470.97,432.79 L471.23,432.76 L471.49,432.75 L471.74,432.77 L471.96,432.82 L472.17,432.92 L472.34,433.05 L472.50,433.20 L472.65,433.36 L472.81,433.54 L472.98,433.71 L473.15,433.88 L473.34,434.05 L473.53,434.22 L473.71,434.41 L473.89,434.61 L474.05,434.82 L474.19,435.06 L474.32,435.29 L474.45,435.53 L474.59,435.76 L474.75,435.99 L474.93,436.22 L475.12,436.44 L475.31,436.68 L475.48,436.92 L475.61,437.19 L475.68,437.49 L475.69,437.80 L475.64,438.14 L475.55,438.48 L475.41,438.81 L475.26,439.12 L475.12,439.41 L475.01,439.68 L474.91,439.92 L474.84,440.14 L474.77,440.34 L474.68,440.55 L474.57,440.76 L474.43,440.98 L474.24,441.21 L474.02,441.45 L473.76,441.69 L473.49,441.93 L473.21,442.17 L472.92,442.39 L472.63,442.60 L472.33,442.81 L472.01,443.02 L471.67,443.24 L471.29,443.47 L470.88,443.71 L470.44,443.96 L469.97,444.22 L469.50,444.49 L469.03,444.76 L468.57,445.03 L468.11,445.31 L467.65,445.60 L467.19,445.88 L466.70,446.18 L466.19,446.48 L465.63,446.79 L465.02,447.09 L464.38,447.37 L463.72,447.61 L463.07,447.80 L462.46,447.93 L461.94,448.01 L461.53,448.10 L461.18,448.29 L460.75,448.58 L460.25,448.89 L459.69,449.17 L459.12,449.43 L458.56,449.64 L458.04,449.82 L457.56,449.97 L457.11,450.09 L456.70,450.20 L456.30,450.30 L455.91,450.39 L455.54,450.48 L455.18,450.55 L454.85,450.60 L454.55,450.62 L454.29,450.61 L454.06,450.57 L453.87,450.50 L453.70,450.41 L453.53,450.30 L453.33,450.18 L453.10,450.06 L452.83,449.92 L452.53,449.78 L452.23,449.61 L451.94,449.43 L451.69,449.22 L451.51,448.99 L451.40,448.73 L451.37,448.45 L451.42,448.16Z" fill="none" stroke="#0d0d0d" stroke-width="1.4" stroke-linejoin="round"/><path d="M473.04,437.84 L473.14,438.19 L473.13,438.59 L473.02,439.02 L472.79,439.48 L472.46,439.97 L472.02,440.48 L471.49,441.01 L470.86,441.54 L470.15,442.07 L469.36,442.60 L468.50,443.12 L467.58,443.63 L466.62,444.12 L465.61,444.58 L464.58,445.02 L463.54,445.44 L462.50,445.82 L461.46,446.16 L460.45,446.47 L459.48,446.75 L458.54,446.98 L457.67,447.16 L456.86,447.31 L456.13,447.40 L455.48,447.45 L454.91,447.45 L454.45,447.40 L454.08,447.31 L453.82,447.16 L453.66,446.96 L453.60,446.71 L453.66,446.41 L453.82,446.06 L454.08,445.67 L454.44,445.24 L454.89,444.77 L455.43,444.26 L456.06,443.73 L456.76,443.18 L457.53,442.61 L458.36,442.03 L459.25,441.45 L460.17,440.88 L461.13,440.32 L462.12,439.78 L463.11,439.26 L464.11,438.79 L465.11,438.36 L466.08,437.97 L467.03,437.64 L467.94,437.37 L468.81,437.17 L469.62,437.02 L470.36,436.95 L471.03,436.94 L471.62,437.00 L472.12,437.12 L472.53,437.30 L472.84,437.55Z" fill="none" stroke="#0d0d0d" stroke-width="1.4" stroke-linejoin="round"/><path d="M474.67,437.08 L474.85,437.61 L474.89,438.19 L474.81,438.81 L474.60,439.47 L474.26,440.15 L473.80,440.84 L473.22,441.54 L472.52,442.23 L471.72,442.92 L470.82,443.58 L469.83,444.23 L468.77,444.84 L467.65,445.43 L466.47,445.97 L465.26,446.47 L464.03,446.93 L462.80,447.34 L461.57,447.70 L460.37,448.01 L459.20,448.27 L458.08,448.47 L457.03,448.62 L456.05,448.71 L455.15,448.75 L454.35,448.73 L453.66,448.64 L453.07,448.50 L452.60,448.30 L452.25,448.04 L452.03,447.72 L451.93,447.34 L451.95,446.91 L452.09,446.42 L452.36,445.88 L452.74,445.29 L453.23,444.66 L453.83,443.99 L454.52,443.30 L455.31,442.58 L456.18,441.85 L457.12,441.12 L458.13,440.39 L459.19,439.67 L460.30,438.98 L461.44,438.33 L462.59,437.72 L463.76,437.16 L464.93,436.67 L466.08,436.24 L467.20,435.90 L468.29,435.63 L469.33,435.45 L470.31,435.36 L471.22,435.35 L472.05,435.44 L472.79,435.61 L473.43,435.87 L473.96,436.20 L474.37,436.61Z" fill="none" stroke="#0d0d0d" stroke-width="1.4" stroke-linejoin="round"/></g>
<rect x="431.35" y="397.4" width="62.14999999999998" height="58.10000000000002" fill="none" stroke="#0d0d0d" stroke-width="1.3"/>
<line x1="431.35" y1="455.5" x2="431.35" y2="458.5" stroke="#0d0d0d" stroke-width="0.9"/>
<line x1="436.02725355762914" y1="455.5" x2="436.02725355762914" y2="457.5" stroke="#0d0d0d" stroke-width="0.9"/>
<line x1="438.76327149520677" y1="455.5" x2="438.76327149520677" y2="457.5" stroke="#0d0d0d" stroke-width="0.9"/>
<line x1="440.70450711525825" y1="455.5" x2="440.70450711525825" y2="457.5" stroke="#0d0d0d" stroke-width="0.9"/>
<line x1="442.21024644237093" y1="455.5" x2="442.21024644237093" y2="457.5" stroke="#0d0d0d" stroke-width="0.9"/>
<line x1="443.4405250528359" y1="455.5" x2="443.4405250528359" y2="457.5" stroke="#0d0d0d" stroke-width="0.9"/>
<line x1="444.48071079672155" y1="455.5" x2="444.48071079672155" y2="457.5" stroke="#0d0d0d" stroke-width="0.9"/>
<line x1="445.38176067288737" y1="455.5" x2="445.38176067288737" y2="457.5" stroke="#0d0d0d" stroke-width="0.9"/>
<line x1="446.1765429904135" y1="455.5" x2="446.1765429904135" y2="457.5" stroke="#0d0d0d" stroke-width="0.9"/>
<line x1="446.88750000000005" y1="455.5" x2="446.88750000000005" y2="458.5" stroke="#0d0d0d" stroke-width="0.9"/>
<line x1="451.56475355762916" y1="455.5" x2="451.56475355762916" y2="457.5" stroke="#0d0d0d" stroke-width="0.9"/>
<line x1="454.3007714952068" y1="455.5" x2="454.3007714952068" y2="457.5" stroke="#0d0d0d" stroke-width="0.9"/>
<line x1="456.2420071152583" y1="455.5" x2="456.2420071152583" y2="457.5" stroke="#0d0d0d" stroke-width="0.9"/>
<line x1="457.74774644237095" y1="455.5" x2="457.74774644237095" y2="457.5" stroke="#0d0d0d" stroke-width="0.9"/>
<line x1="458.9780250528359" y1="455.5" x2="458.9780250528359" y2="457.5" stroke="#0d0d0d" stroke-width="0.9"/>
<line x1="460.0182107967216" y1="455.5" x2="460.0182107967216" y2="457.5" stroke="#0d0d0d" stroke-width="0.9"/>
<line x1="460.9192606728874" y1="455.5" x2="460.9192606728874" y2="457.5" stroke="#0d0d0d" stroke-width="0.9"/>
<line x1="461.71404299041353" y1="455.5" x2="461.71404299041353" y2="457.5" stroke="#0d0d0d" stroke-width="0.9"/>
<line x1="462.425" y1="455.5" x2="462.425" y2="458.5" stroke="#0d0d0d" stroke-width="0.9"/>
<line x1="467.1022535576291" y1="455.5" x2="467.1022535576291" y2="457.5" stroke="#0d0d0d" stroke-width="0.9"/>
<line x1="469.83827149520675" y1="455.5" x2="469.83827149520675" y2="457.5" stroke="#0d0d0d" stroke-width="0.9"/>
<line x1="471.77950711525824" y1="455.5" x2="471.77950711525824" y2="457.5" stroke="#0d0d0d" stroke-width="0.9"/>
<line x1="473.2852464423709" y1="455.5" x2="473.2852464423709" y2="457.5" stroke="#0d0d0d" stroke-width="0.9"/>
<line x1="474.51552505283587" y1="455.5" x2="474.51552505283587" y2="457.5" stroke="#0d0d0d" stroke-width="0.9"/>
<line x1="475.55571079672154" y1="455.5" x2="475.55571079672154" y2="457.5" stroke="#0d0d0d" stroke-width="0.9"/>
<line x1="476.45676067288736" y1="455.5" x2="476.45676067288736" y2="457.5" stroke="#0d0d0d" stroke-width="0.9"/>
<line x1="477.2515429904135" y1="455.5" x2="477.2515429904135" y2="457.5" stroke="#0d0d0d" stroke-width="0.9"/>
<line x1="477.9625" y1="455.5" x2="477.9625" y2="458.5" stroke="#0d0d0d" stroke-width="0.9"/>
<line x1="482.6397535576291" y1="455.5" x2="482.6397535576291" y2="457.5" stroke="#0d0d0d" stroke-width="0.9"/>
<line x1="485.3757714952067" y1="455.5" x2="485.3757714952067" y2="457.5" stroke="#0d0d0d" stroke-width="0.9"/>
<line x1="487.3170071152582" y1="455.5" x2="487.3170071152582" y2="457.5" stroke="#0d0d0d" stroke-width="0.9"/>
<line x1="488.8227464423709" y1="455.5" x2="488.8227464423709" y2="457.5" stroke="#0d0d0d" stroke-width="0.9"/>
<line x1="490.05302505283584" y1="455.5" x2="490.05302505283584" y2="457.5" stroke="#0d0d0d" stroke-width="0.9"/>
<line x1="491.0932107967215" y1="455.5" x2="491.0932107967215" y2="457.5" stroke="#0d0d0d" stroke-width="0.9"/>
<line x1="491.9942606728873" y1="455.5" x2="491.9942606728873" y2="457.5" stroke="#0d0d0d" stroke-width="0.9"/>
<line x1="492.78904299041346" y1="455.5" x2="492.78904299041346" y2="457.5" stroke="#0d0d0d" stroke-width="0.9"/>
<line x1="428.35" y1="455.5" x2="431.35" y2="455.5" stroke="#0d0d0d" stroke-width="0.9"/>
<line x1="429.35" y1="451.1275393129807" x2="431.35" y2="451.1275393129807" stroke="#0d0d0d" stroke-width="0.9"/>
<line x1="429.35" y1="448.5698137751969" x2="431.35" y2="448.5698137751969" stroke="#0d0d0d" stroke-width="0.9"/>
<line x1="429.35" y1="446.75507862596135" x2="431.35" y2="446.75507862596135" stroke="#0d0d0d" stroke-width="0.9"/>
<line x1="429.35" y1="445.3474606870193" x2="431.35" y2="445.3474606870193" stroke="#0d0d0d" stroke-width="0.9"/>
<line x1="429.35" y1="444.1973530881776" x2="431.35" y2="444.1973530881776" stroke="#0d0d0d" stroke-width="0.9"/>
<line x1="429.35" y1="443.22495096879294" x2="431.35" y2="443.22495096879294" stroke="#0d0d0d" stroke-width="0.9"/>
<line x1="429.35" y1="442.382617938942" x2="431.35" y2="442.382617938942" stroke="#0d0d0d" stroke-width="0.9"/>
<line x1="429.35" y1="441.6396275503938" x2="431.35" y2="441.6396275503938" stroke="#0d0d0d" stroke-width="0.9"/>
<line x1="428.35" y1="440.975" x2="431.35" y2="440.975" stroke="#0d0d0d" stroke-width="0.9"/>
<line x1="429.35" y1="436.6025393129807" x2="431.35" y2="436.6025393129807" stroke="#0d0d0d" stroke-width="0.9"/>
<line x1="429.35" y1="434.0448137751969" x2="431.35" y2="434.0448137751969" stroke="#0d0d0d" stroke-width="0.9"/>
<line x1="429.35" y1="432.23007862596137" x2="431.35" y2="432.23007862596137" stroke="#0d0d0d" stroke-width="0.9"/>
<line x1="429.35" y1="430.8224606870193" x2="431.35" y2="430.8224606870193" stroke="#0d0d0d" stroke-width="0.9"/>
<line x1="429.35" y1="429.6723530881776" x2="431.35" y2="429.6723530881776" stroke="#0d0d0d" stroke-width="0.9"/>
<line x1="429.35" y1="428.69995096879296" x2="431.35" y2="428.69995096879296" stroke="#0d0d0d" stroke-width="0.9"/>
<line x1="429.35" y1="427.85761793894204" x2="431.35" y2="427.85761793894204" stroke="#0d0d0d" stroke-width="0.9"/>
<line x1="429.35" y1="427.11462755039383" x2="431.35" y2="427.11462755039383" stroke="#0d0d0d" stroke-width="0.9"/>
<line x1="428.35" y1="426.45" x2="431.35" y2="426.45" stroke="#0d0d0d" stroke-width="0.9"/>
<line x1="429.35" y1="422.07753931298066" x2="431.35" y2="422.07753931298066" stroke="#0d0d0d" stroke-width="0.9"/>
<line x1="429.35" y1="419.5198137751969" x2="431.35" y2="419.5198137751969" stroke="#0d0d0d" stroke-width="0.9"/>
<line x1="429.35" y1="417.70507862596133" x2="431.35" y2="417.70507862596133" stroke="#0d0d0d" stroke-width="0.9"/>
<line x1="429.35" y1="416.29746068701934" x2="431.35" y2="416.29746068701934" stroke="#0d0d0d" stroke-width="0.9"/>
<line x1="429.35" y1="415.14735308817757" x2="431.35" y2="415.14735308817757" stroke="#0d0d0d" stroke-width="0.9"/>
<line x1="429.35" y1="414.1749509687929" x2="431.35" y2="414.1749509687929" stroke="#0d0d0d" stroke-width="0.9"/>
<line x1="429.35" y1="413.332617938942" x2="431.35" y2="413.332617938942" stroke="#0d0d0d" stroke-width="0.9"/>
<line x1="429.35" y1="412.5896275503938" x2="431.35" y2="412.5896275503938" stroke="#0d0d0d" stroke-width="0.9"/>
<line x1="428.35" y1="411.92499999999995" x2="431.35" y2="411.92499999999995" stroke="#0d0d0d" stroke-width="0.9"/>
<line x1="429.35" y1="407.5525393129806" x2="431.35" y2="407.5525393129806" stroke="#0d0d0d" stroke-width="0.9"/>
<line x1="429.35" y1="404.99481377519686" x2="431.35" y2="404.99481377519686" stroke="#0d0d0d" stroke-width="0.9"/>
<line x1="429.35" y1="403.1800786259613" x2="431.35" y2="403.1800786259613" stroke="#0d0d0d" stroke-width="0.9"/>
<line x1="429.35" y1="401.77246068701925" x2="431.35" y2="401.77246068701925" stroke="#0d0d0d" stroke-width="0.9"/>
<line x1="429.35" y1="400.62235308817753" x2="431.35" y2="400.62235308817753" stroke="#0d0d0d" stroke-width="0.9"/>
<line x1="429.35" y1="399.6499509687929" x2="431.35" y2="399.6499509687929" stroke="#0d0d0d" stroke-width="0.9"/>
<line x1="429.35" y1="398.807617938942" x2="431.35" y2="398.807617938942" stroke="#0d0d0d" stroke-width="0.9"/>
<line x1="429.35" y1="398.06462755039377" x2="431.35" y2="398.06462755039377" stroke="#0d0d0d" stroke-width="0.9"/>
<text x="433.45000000000005" y="410.9" font-family="'Liberation Serif', serif" font-size="13" font-weight="bold" text-anchor="start" fill="#0d0d0d" textLength="18.8" lengthAdjust="spacingAndGlyphs" >538</text>
<g clip-path="url(#cb2)"><path d="M366.93,515.22 L366.85,514.76 L366.87,514.27 L367.00,513.75 L367.24,513.22 L367.60,512.69 L368.05,512.15 L368.58,511.62 L369.16,511.11 L369.76,510.60 L370.35,510.09 L370.92,509.60 L371.45,509.11 L371.97,508.63 L372.52,508.16 L373.09,507.71 L373.69,507.29 L374.31,506.91 L374.94,506.55 L375.57,506.21 L376.18,505.87 L376.76,505.49 L377.31,505.06 L377.84,504.57 L378.37,504.01 L378.89,503.39 L379.43,502.73 L379.99,502.07 L380.58,501.44 L381.19,500.86 L381.82,500.35 L382.45,499.91 L383.09,499.53 L383.73,499.19 L384.37,498.86 L385.02,498.51 L385.68,498.13 L386.36,497.70 L387.09,497.23 L387.85,496.73 L388.64,496.23 L389.44,495.74 L390.24,495.29 L391.02,494.88 L391.77,494.53 L392.49,494.22 L393.17,493.95 L393.82,493.70 L394.42,493.46 L395.01,493.23 L395.57,492.99 L396.12,492.75 L396.64,492.53 L397.13,492.35 L397.58,492.22 L397.99,492.13 L398.36,492.10 L398.71,492.11 L399.04,492.14 L399.37,492.17 L399.72,492.18 L400.09,492.15 L400.48,492.09 L400.90,491.99 L401.34,491.87 L401.78,491.75 L402.21,491.66 L402.62,491.62 L403.00,491.64 L403.34,491.73 L403.64,491.90 L403.92,492.12 L404.20,492.37 L404.50,492.66 L404.82,492.95 L405.17,493.24 L405.56,493.52 L405.97,493.80 L406.40,494.09 L406.82,494.39 L407.22,494.72 L407.59,495.08 L407.91,495.47 L408.18,495.88 L408.42,496.31 L408.64,496.75 L408.87,497.21 L409.11,497.67 L409.36,498.14 L409.62,498.60 L409.86,499.07 L410.07,499.55 L410.22,500.04 L410.31,500.53 L410.31,501.04 L410.25,501.53 L410.12,502.01 L409.95,502.44 L409.77,502.83 L409.61,503.17 L409.50,503.45 L409.42,503.69 L409.39,503.88 L409.38,504.06 L409.37,504.24 L409.32,504.43 L409.23,504.66 L409.06,504.93 L408.82,505.27 L408.50,505.66 L408.12,506.09 L407.68,506.55 L407.22,507.03 L406.75,507.51 L406.27,507.99 L405.79,508.47 L405.30,508.95 L404.79,509.43 L404.25,509.91 L403.66,510.39 L403.02,510.86 L402.34,511.35 L401.61,511.84 L400.86,512.33 L400.12,512.82 L399.39,513.29 L398.68,513.75 L397.99,514.20 L397.31,514.64 L396.63,515.07 L395.91,515.49 L395.14,515.90 L394.31,516.30 L393.40,516.68 L392.41,517.05 L391.38,517.40 L390.33,517.73 L389.30,518.04 L388.33,518.32 L387.43,518.59 L386.61,518.87 L385.86,519.18 L385.15,519.53 L384.43,519.93 L383.64,520.36 L382.73,520.78 L381.71,521.12 L380.66,521.35 L379.65,521.49 L378.70,521.59 L377.82,521.66 L376.99,521.72 L376.20,521.78 L375.45,521.82 L374.76,521.85 L374.14,521.85 L373.60,521.81 L373.17,521.73 L372.85,521.60 L372.63,521.43 L372.48,521.24 L372.38,521.02 L372.28,520.80 L372.16,520.58 L371.99,520.36 L371.76,520.15 L371.47,519.93 L371.11,519.71 L370.71,519.48 L370.27,519.22 L369.82,518.94 L369.39,518.62 L369.00,518.29 L368.66,517.94 L368.36,517.58 L368.08,517.21 L367.82,516.84 L367.56,516.46 L367.31,516.06 L367.09,515.65Z" fill="none" stroke="#0d0d0d" stroke-width="1.4" stroke-linejoin="round"/><path d="M369.06,515.49 L369.21,515.13 L369.43,514.76 L369.72,514.37 L370.04,513.97 L370.40,513.56 L370.77,513.13 L371.18,512.70 L371.61,512.26 L372.07,511.84 L372.56,511.44 L373.06,511.06 L373.56,510.72 L374.05,510.40 L374.54,510.09 L375.01,509.75 L375.44,509.38 L375.84,508.96 L376.22,508.48 L376.58,507.94 L376.94,507.36 L377.32,506.76 L377.74,506.17 L378.19,505.61 L378.67,505.11 L379.17,504.66 L379.70,504.28 L380.23,503.94 L380.77,503.62 L381.30,503.31 L381.84,503.00 L382.37,502.67 L382.91,502.32 L383.46,501.97 L384.01,501.62 L384.56,501.28 L385.12,500.97 L385.69,500.68 L386.27,500.41 L386.87,500.15 L387.47,499.90 L388.08,499.63 L388.71,499.33 L389.34,499.02 L389.97,498.68 L390.60,498.34 L391.21,498.01 L391.79,497.71 L392.33,497.45 L392.81,497.25 L393.26,497.08 L393.67,496.96 L394.06,496.86 L394.43,496.76 L394.80,496.65 L395.19,496.51 L395.59,496.34 L396.02,496.13 L396.47,495.90 L396.93,495.67 L397.39,495.46 L397.82,495.29 L398.20,495.18 L398.54,495.13 L398.82,495.15 L399.06,495.23 L399.28,495.36 L399.47,495.51 L399.66,495.68 L399.86,495.86 L400.08,496.05 L400.31,496.23 L400.56,496.43 L400.83,496.65 L401.09,496.89 L401.35,497.17 L401.61,497.48 L401.85,497.81 L402.10,498.14 L402.36,498.47 L402.64,498.79 L402.95,499.08 L403.27,499.35 L403.60,499.60 L403.94,499.84 L404.26,500.10 L404.56,500.40 L404.83,500.74 L405.05,501.13 L405.22,501.55 L405.33,502.00 L405.41,502.46 L405.47,502.91 L405.53,503.33 L405.60,503.72 L405.69,504.05 L405.78,504.34 L405.88,504.58 L405.97,504.79 L406.03,504.98 L406.05,505.17 L406.00,505.37 L405.88,505.58 L405.71,505.82 L405.47,506.07 L405.20,506.35 L404.91,506.64 L404.60,506.95 L404.28,507.28 L403.97,507.63 L403.63,507.99 L403.27,508.37 L402.88,508.77 L402.45,509.18 L401.98,509.61 L401.47,510.05 L400.94,510.48 L400.42,510.91 L399.91,511.32 L399.43,511.71 L398.99,512.07 L398.59,512.42 L398.20,512.76 L397.82,513.11 L397.41,513.46 L396.96,513.83 L396.45,514.21 L395.86,514.59 L395.21,514.99 L394.50,515.37 L393.76,515.75 L393.01,516.11 L392.27,516.44 L391.55,516.76 L390.84,517.07 L390.16,517.37 L389.49,517.68 L388.82,517.98 L388.13,518.28 L387.40,518.59 L386.64,518.89 L385.84,519.17 L385.02,519.43 L384.18,519.65 L383.36,519.84 L382.56,519.99 L381.77,520.13 L380.99,520.27 L380.23,520.40 L379.49,520.52 L378.77,520.62 L378.11,520.69 L377.50,520.73 L376.96,520.75 L376.48,520.73 L376.05,520.70 L375.66,520.66 L375.30,520.62 L374.95,520.57 L374.60,520.53 L374.24,520.48 L373.88,520.42 L373.52,520.33 L373.18,520.22 L372.88,520.08 L372.63,519.89 L372.41,519.68 L372.23,519.45 L372.06,519.20 L371.87,518.94 L371.63,518.67 L371.35,518.39 L371.03,518.11 L370.67,517.82 L370.28,517.52 L369.91,517.20 L369.57,516.88 L369.30,516.54 L369.11,516.20 L369.03,515.85Z" fill="none" stroke="#0d0d0d" stroke-width="1.4" stroke-linejoin="round"/><path d="M371.50,515.81 L371.54,515.50 L371.67,515.19 L371.88,514.86 L372.15,514.53 L372.46,514.20 L372.80,513.86 L373.15,513.51 L373.49,513.15 L373.82,512.78 L374.14,512.40 L374.46,512.03 L374.77,511.66 L375.10,511.30 L375.45,510.95 L375.82,510.62 L376.21,510.29 L376.60,509.97 L376.98,509.63 L377.35,509.26 L377.71,508.86 L378.07,508.43 L378.43,507.98 L378.81,507.52 L379.20,507.08 L379.62,506.67 L380.06,506.31 L380.50,506.02 L380.96,505.78 L381.41,505.59 L381.86,505.43 L382.30,505.28 L382.73,505.11 L383.17,504.92 L383.60,504.69 L384.05,504.42 L384.50,504.12 L384.98,503.81 L385.48,503.49 L386.00,503.17 L386.52,502.87 L387.05,502.58 L387.58,502.31 L388.10,502.05 L388.62,501.79 L389.14,501.52 L389.65,501.24 L390.14,500.97 L390.62,500.70 L391.07,500.44 L391.51,500.20 L391.91,500.00 L392.29,499.83 L392.63,499.71 L392.95,499.61 L393.24,499.54 L393.53,499.48 L393.82,499.41 L394.13,499.33 L394.44,499.24 L394.77,499.14 L395.10,499.03 L395.42,498.95 L395.71,498.89 L395.97,498.87 L396.19,498.92 L396.37,499.01 L396.52,499.17 L396.63,499.36 L396.74,499.58 L396.86,499.80 L396.99,500.02 L397.15,500.23 L397.36,500.42 L397.60,500.59 L397.87,500.77 L398.15,500.94 L398.45,501.12 L398.74,501.32 L399.02,501.54 L399.29,501.76 L399.56,502.00 L399.82,502.23 L400.07,502.46 L400.33,502.68 L400.60,502.90 L400.87,503.13 L401.15,503.38 L401.41,503.66 L401.63,503.96 L401.81,504.29 L401.93,504.65 L401.99,505.02 L402.01,505.40 L401.99,505.77 L401.95,506.12 L401.90,506.43 L401.85,506.70 L401.82,506.93 L401.80,507.12 L401.78,507.29 L401.75,507.45 L401.69,507.61 L401.58,507.79 L401.42,507.98 L401.20,508.21 L400.93,508.46 L400.63,508.74 L400.31,509.04 L399.98,509.35 L399.65,509.67 L399.34,509.99 L399.04,510.31 L398.75,510.62 L398.46,510.94 L398.17,511.25 L397.86,511.57 L397.52,511.89 L397.17,512.21 L396.80,512.53 L396.42,512.84 L396.04,513.14 L395.68,513.44 L395.32,513.75 L394.96,514.05 L394.60,514.35 L394.23,514.66 L393.81,514.97 L393.34,515.29 L392.81,515.61 L392.21,515.93 L391.56,516.24 L390.87,516.54 L390.15,516.82 L389.42,517.08 L388.69,517.33 L388.00,517.57 L387.34,517.80 L386.71,518.03 L386.11,518.25 L385.52,518.47 L384.93,518.70 L384.31,518.91 L383.68,519.09 L383.05,519.23 L382.42,519.34 L381.82,519.41 L381.23,519.50 L380.66,519.59 L380.08,519.71 L379.50,519.83 L378.91,519.96 L378.33,520.07 L377.77,520.16 L377.25,520.23 L376.78,520.26 L376.38,520.26 L376.04,520.24 L375.75,520.18 L375.50,520.12 L375.27,520.04 L375.03,519.95 L374.79,519.86 L374.54,519.75 L374.28,519.63 L374.04,519.48 L373.81,519.31 L373.61,519.12 L373.43,518.92 L373.28,518.69 L373.13,518.45 L372.99,518.20 L372.85,517.95 L372.70,517.70 L372.52,517.45 L372.31,517.19 L372.10,516.94 L371.88,516.67 L371.69,516.39 L371.56,516.10Z" fill="none" stroke="#0d0d0d" stroke-width="1.4" stroke-linejoin="round"/><path d="M373.10,516.01 L373.05,515.74 L373.10,515.46 L373.24,515.17 L373.47,514.89 L373.77,514.61 L374.12,514.34 L374.50,514.07 L374.88,513.81 L375.24,513.54 L375.57,513.27 L375.87,512.99 L376.12,512.69 L376.37,512.38 L376.62,512.07 L376.89,511.76 L377.19,511.46 L377.50,511.18 L377.84,510.93 L378.18,510.69 L378.53,510.46 L378.87,510.23 L379.21,509.99 L379.54,509.74 L379.86,509.48 L380.19,509.21 L380.52,508.94 L380.85,508.67 L381.19,508.42 L381.53,508.17 L381.88,507.94 L382.23,507.71 L382.58,507.48 L382.94,507.23 L383.30,506.95 L383.68,506.64 L384.08,506.30 L384.50,505.95 L384.94,505.59 L385.40,505.25 L385.86,504.93 L386.32,504.66 L386.77,504.45 L387.20,504.28 L387.60,504.15 L387.97,504.06 L388.33,503.98 L388.66,503.90 L388.98,503.81 L389.30,503.70 L389.61,503.57 L389.92,503.43 L390.23,503.28 L390.53,503.14 L390.82,503.01 L391.09,502.91 L391.34,502.83 L391.57,502.78 L391.80,502.74 L392.02,502.71 L392.25,502.68 L392.47,502.66 L392.69,502.64 L392.90,502.62 L393.10,502.62 L393.29,502.63 L393.47,502.66 L393.63,502.73 L393.78,502.82 L393.92,502.94 L394.06,503.06 L394.22,503.18 L394.40,503.30 L394.61,503.40 L394.86,503.49 L395.15,503.57 L395.45,503.65 L395.76,503.73 L396.07,503.84 L396.35,503.98 L396.60,504.16 L396.80,504.37 L396.96,504.62 L397.07,504.90 L397.15,505.19 L397.22,505.49 L397.29,505.79 L397.37,506.10 L397.47,506.39 L397.57,506.68 L397.69,506.96 L397.79,507.24 L397.89,507.51 L397.96,507.78 L398.00,508.04 L398.02,508.29 L398.01,508.52 L397.99,508.73 L397.96,508.91 L397.94,509.08 L397.91,509.22 L397.88,509.35 L397.85,509.47 L397.79,509.60 L397.70,509.73 L397.58,509.89 L397.42,510.07 L397.22,510.27 L397.00,510.50 L396.76,510.75 L396.52,511.00 L396.28,511.25 L396.07,511.50 L395.88,511.74 L395.70,511.98 L395.53,512.21 L395.35,512.45 L395.15,512.69 L394.91,512.95 L394.62,513.21 L394.27,513.48 L393.87,513.76 L393.43,514.05 L392.96,514.35 L392.47,514.64 L391.99,514.93 L391.51,515.21 L391.04,515.48 L390.58,515.74 L390.13,516.00 L389.67,516.24 L389.20,516.47 L388.72,516.69 L388.23,516.90 L387.72,517.10 L387.21,517.30 L386.71,517.48 L386.22,517.67 L385.76,517.85 L385.31,518.04 L384.88,518.24 L384.45,518.45 L383.99,518.67 L383.50,518.89 L382.97,519.08 L382.40,519.23 L381.82,519.31 L381.28,519.35 L380.77,519.38 L380.29,519.42 L379.82,519.48 L379.35,519.56 L378.87,519.64 L378.39,519.72 L377.92,519.79 L377.48,519.84 L377.10,519.86 L376.78,519.85 L376.55,519.80 L376.38,519.71 L376.27,519.61 L376.21,519.48 L376.17,519.34 L376.14,519.19 L376.10,519.04 L376.04,518.89 L375.96,518.75 L375.85,518.60 L375.70,518.45 L375.53,518.29 L375.34,518.13 L375.13,517.95 L374.91,517.77 L374.68,517.58 L374.43,517.39 L374.18,517.19 L373.92,516.98 L373.66,516.75 L373.42,516.52 L373.23,516.27Z" fill="none" stroke="#0d0d0d" stroke-width="1.4" stroke-linejoin="round"/><path d="M391.03,508.52 L391.17,508.90 L391.22,509.31 L391.18,509.75 L391.06,510.22 L390.84,510.71 L390.54,511.21 L390.15,511.71 L389.68,512.22 L389.14,512.73 L388.53,513.22 L387.86,513.70 L387.13,514.16 L386.36,514.60 L385.55,515.01 L384.72,515.39 L383.87,515.74 L383.02,516.06 L382.17,516.35 L381.33,516.59 L380.52,516.80 L379.74,516.97 L379.00,517.10 L378.32,517.19 L377.69,517.23 L377.13,517.24 L376.64,517.19 L376.22,517.11 L375.89,516.97 L375.64,516.80 L375.47,516.58 L375.38,516.31 L375.39,516.00 L375.47,515.65 L375.64,515.26 L375.89,514.84 L376.22,514.38 L376.61,513.89 L377.08,513.39 L377.61,512.86 L378.20,512.32 L378.84,511.78 L379.52,511.24 L380.25,510.71 L381.00,510.20 L381.78,509.71 L382.57,509.25 L383.38,508.83 L384.18,508.45 L384.97,508.13 L385.75,507.85 L386.51,507.64 L387.23,507.49 L387.92,507.40 L388.56,507.38 L389.14,507.42 L389.66,507.53 L390.12,507.69 L390.50,507.92 L390.81,508.20Z" fill="none" stroke="#0d0d0d" stroke-width="1.4" stroke-linejoin="round"/><path d="M392.63,507.70 L392.85,508.25 L392.97,508.85 L392.97,509.48 L392.87,510.14 L392.65,510.81 L392.32,511.50 L391.89,512.18 L391.36,512.85 L390.74,513.51 L390.02,514.15 L389.23,514.76 L388.36,515.33 L387.44,515.87 L386.47,516.36 L385.46,516.81 L384.42,517.22 L383.38,517.57 L382.33,517.88 L381.30,518.13 L380.30,518.34 L379.33,518.49 L378.41,518.58 L377.56,518.63 L376.77,518.62 L376.06,518.55 L375.43,518.43 L374.89,518.26 L374.45,518.03 L374.11,517.74 L373.87,517.40 L373.73,517.01 L373.70,516.57 L373.76,516.07 L373.93,515.53 L374.19,514.95 L374.55,514.33 L375.00,513.69 L375.53,513.01 L376.14,512.32 L376.82,511.62 L377.57,510.91 L378.37,510.22 L379.22,509.54 L380.12,508.90 L381.04,508.29 L382.00,507.72 L382.96,507.21 L383.94,506.77 L384.90,506.40 L385.86,506.10 L386.79,505.88 L387.69,505.75 L388.55,505.71 L389.36,505.75 L390.10,505.88 L390.78,506.10 L391.37,506.39 L391.89,506.76 L392.31,507.20Z" fill="none" stroke="#0d0d0d" stroke-width="1.4" stroke-linejoin="round"/></g>
<rect x="357.9" y="465.4" width="61.60000000000002" height="57.80000000000007" fill="none" stroke="#0d0d0d" stroke-width="1.3"/>
<line x1="357.9" y1="523.2" x2="357.9" y2="526.2" stroke="#0d0d0d" stroke-width="0.9"/>
<line x1="362.5358619332253" y1="523.2" x2="362.5358619332253" y2="525.2" stroke="#0d0d0d" stroke-width="0.9"/>
<line x1="365.2476673226828" y1="523.2" x2="365.2476673226828" y2="525.2" stroke="#0d0d0d" stroke-width="0.9"/>
<line x1="367.1717238664506" y1="523.2" x2="367.1717238664506" y2="525.2" stroke="#0d0d0d" stroke-width="0.9"/>
<line x1="368.6641380667747" y1="523.2" x2="368.6641380667747" y2="525.2" stroke="#0d0d0d" stroke-width="0.9"/>
<line x1="369.8835292559081" y1="523.2" x2="369.8835292559081" y2="525.2" stroke="#0d0d0d" stroke-width="0.9"/>
<line x1="370.91450981621955" y1="523.2" x2="370.91450981621955" y2="525.2" stroke="#0d0d0d" stroke-width="0.9"/>
<line x1="371.8075857996759" y1="523.2" x2="371.8075857996759" y2="525.2" stroke="#0d0d0d" stroke-width="0.9"/>
<line x1="372.5953346453656" y1="523.2" x2="372.5953346453656" y2="525.2" stroke="#0d0d0d" stroke-width="0.9"/>
<line x1="373.29999999999995" y1="523.2" x2="373.29999999999995" y2="526.2" stroke="#0d0d0d" stroke-width="0.9"/>
<line x1="377.9358619332253" y1="523.2" x2="377.9358619332253" y2="525.2" stroke="#0d0d0d" stroke-width="0.9"/>
<line x1="380.64766732268276" y1="523.2" x2="380.64766732268276" y2="525.2" stroke="#0d0d0d" stroke-width="0.9"/>
<line x1="382.57172386645055" y1="523.2" x2="382.57172386645055" y2="525.2" stroke="#0d0d0d" stroke-width="0.9"/>
<line x1="384.06413806677466" y1="523.2" x2="384.06413806677466" y2="525.2" stroke="#0d0d0d" stroke-width="0.9"/>
<line x1="385.2835292559081" y1="523.2" x2="385.2835292559081" y2="525.2" stroke="#0d0d0d" stroke-width="0.9"/>
<line x1="386.3145098162195" y1="523.2" x2="386.3145098162195" y2="525.2" stroke="#0d0d0d" stroke-width="0.9"/>
<line x1="387.2075857996759" y1="523.2" x2="387.2075857996759" y2="525.2" stroke="#0d0d0d" stroke-width="0.9"/>
<line x1="387.9953346453656" y1="523.2" x2="387.9953346453656" y2="525.2" stroke="#0d0d0d" stroke-width="0.9"/>
<line x1="388.7" y1="523.2" x2="388.7" y2="526.2" stroke="#0d0d0d" stroke-width="0.9"/>
<line x1="393.3358619332253" y1="523.2" x2="393.3358619332253" y2="525.2" stroke="#0d0d0d" stroke-width="0.9"/>
<line x1="396.0476673226828" y1="523.2" x2="396.0476673226828" y2="525.2" stroke="#0d0d0d" stroke-width="0.9"/>
<line x1="397.9717238664506" y1="523.2" x2="397.9717238664506" y2="525.2" stroke="#0d0d0d" stroke-width="0.9"/>
<line x1="399.4641380667747" y1="523.2" x2="399.4641380667747" y2="525.2" stroke="#0d0d0d" stroke-width="0.9"/>
<line x1="400.6835292559081" y1="523.2" x2="400.6835292559081" y2="525.2" stroke="#0d0d0d" stroke-width="0.9"/>
<line x1="401.71450981621956" y1="523.2" x2="401.71450981621956" y2="525.2" stroke="#0d0d0d" stroke-width="0.9"/>
<line x1="402.6075857996759" y1="523.2" x2="402.6075857996759" y2="525.2" stroke="#0d0d0d" stroke-width="0.9"/>
<line x1="403.3953346453656" y1="523.2" x2="403.3953346453656" y2="525.2" stroke="#0d0d0d" stroke-width="0.9"/>
<line x1="404.1" y1="523.2" x2="404.1" y2="526.2" stroke="#0d0d0d" stroke-width="0.9"/>
<line x1="408.73586193322535" y1="523.2" x2="408.73586193322535" y2="525.2" stroke="#0d0d0d" stroke-width="0.9"/>
<line x1="411.44766732268283" y1="523.2" x2="411.44766732268283" y2="525.2" stroke="#0d0d0d" stroke-width="0.9"/>
<line x1="413.3717238664506" y1="523.2" x2="413.3717238664506" y2="525.2" stroke="#0d0d0d" stroke-width="0.9"/>
<line x1="414.86413806677473" y1="523.2" x2="414.86413806677473" y2="525.2" stroke="#0d0d0d" stroke-width="0.9"/>
<line x1="416.08352925590816" y1="523.2" x2="416.08352925590816" y2="525.2" stroke="#0d0d0d" stroke-width="0.9"/>
<line x1="417.1145098162196" y1="523.2" x2="417.1145098162196" y2="525.2" stroke="#0d0d0d" stroke-width="0.9"/>
<line x1="418.00758579967595" y1="523.2" x2="418.00758579967595" y2="525.2" stroke="#0d0d0d" stroke-width="0.9"/>
<line x1="418.79533464536564" y1="523.2" x2="418.79533464536564" y2="525.2" stroke="#0d0d0d" stroke-width="0.9"/>
<line x1="354.9" y1="523.2" x2="357.9" y2="523.2" stroke="#0d0d0d" stroke-width="0.9"/>
<line x1="355.9" y1="518.8501165626556" x2="357.9" y2="518.8501165626556" stroke="#0d0d0d" stroke-width="0.9"/>
<line x1="355.9" y1="516.3055978693009" x2="357.9" y2="516.3055978693009" stroke="#0d0d0d" stroke-width="0.9"/>
<line x1="355.9" y1="514.500233125311" x2="357.9" y2="514.500233125311" stroke="#0d0d0d" stroke-width="0.9"/>
<line x1="355.9" y1="513.0998834373446" x2="357.9" y2="513.0998834373446" stroke="#0d0d0d" stroke-width="0.9"/>
<line x1="355.9" y1="511.9557144319564" x2="357.9" y2="511.9557144319564" stroke="#0d0d0d" stroke-width="0.9"/>
<line x1="355.9" y1="510.988333321794" x2="357.9" y2="510.988333321794" stroke="#0d0d0d" stroke-width="0.9"/>
<line x1="355.9" y1="510.15034968796647" x2="357.9" y2="510.15034968796647" stroke="#0d0d0d" stroke-width="0.9"/>
<line x1="355.9" y1="509.4111957386018" x2="357.9" y2="509.4111957386018" stroke="#0d0d0d" stroke-width="0.9"/>
<line x1="354.9" y1="508.75" x2="357.9" y2="508.75" stroke="#0d0d0d" stroke-width="0.9"/>
<line x1="355.9" y1="504.40011656265546" x2="357.9" y2="504.40011656265546" stroke="#0d0d0d" stroke-width="0.9"/>
<line x1="355.9" y1="501.8555978693009" x2="357.9" y2="501.8555978693009" stroke="#0d0d0d" stroke-width="0.9"/>
<line x1="355.9" y1="500.0502331253109" x2="357.9" y2="500.0502331253109" stroke="#0d0d0d" stroke-width="0.9"/>
<line x1="355.9" y1="498.6498834373445" x2="357.9" y2="498.6498834373445" stroke="#0d0d0d" stroke-width="0.9"/>
<line x1="355.9" y1="497.50571443195633" x2="357.9" y2="497.50571443195633" stroke="#0d0d0d" stroke-width="0.9"/>
<line x1="355.9" y1="496.53833332179397" x2="357.9" y2="496.53833332179397" stroke="#0d0d0d" stroke-width="0.9"/>
<line x1="355.9" y1="495.7003496879664" x2="357.9" y2="495.7003496879664" stroke="#0d0d0d" stroke-width="0.9"/>
<line x1="355.9" y1="494.96119573860176" x2="357.9" y2="494.96119573860176" stroke="#0d0d0d" stroke-width="0.9"/>
<line x1="354.9" y1="494.3" x2="357.9" y2="494.3" stroke="#0d0d0d" stroke-width="0.9"/>
<line x1="355.9" y1="489.95011656265547" x2="357.9" y2="489.95011656265547" stroke="#0d0d0d" stroke-width="0.9"/>
<line x1="355.9" y1="487.4055978693009" x2="357.9" y2="487.4055978693009" stroke="#0d0d0d" stroke-width="0.9"/>
<line x1="355.9" y1="485.6002331253109" x2="357.9" y2="485.6002331253109" stroke="#0d0d0d" stroke-width="0.9"/>
<line x1="355.9" y1="484.1998834373445" x2="357.9" y2="484.1998834373445" stroke="#0d0d0d" stroke-width="0.9"/>
<line x1="355.9" y1="483.05571443195635" x2="357.9" y2="483.05571443195635" stroke="#0d0d0d" stroke-width="0.9"/>
<line x1="355.9" y1="482.088333321794" x2="357.9" y2="482.088333321794" stroke="#0d0d0d" stroke-width="0.9"/>
<line x1="355.9" y1="481.25034968796643" x2="357.9" y2="481.25034968796643" stroke="#0d0d0d" stroke-width="0.9"/>
<line x1="355.9" y1="480.51119573860177" x2="357.9" y2="480.51119573860177" stroke="#0d0d0d" stroke-width="0.9"/>
<line x1="354.9" y1="479.85" x2="357.9" y2="479.85" stroke="#0d0d0d" stroke-width="0.9"/>
<line x1="355.9" y1="475.5001165626555" x2="357.9" y2="475.5001165626555" stroke="#0d0d0d" stroke-width="0.9"/>
<line x1="355.9" y1="472.9555978693009" x2="357.9" y2="472.9555978693009" stroke="#0d0d0d" stroke-width="0.9"/>
<line x1="355.9" y1="471.15023312531093" x2="357.9" y2="471.15023312531093" stroke="#0d0d0d" stroke-width="0.9"/>
<line x1="355.9" y1="469.7498834373445" x2="357.9" y2="469.7498834373445" stroke="#0d0d0d" stroke-width="0.9"/>
<line x1="355.9" y1="468.60571443195636" x2="357.9" y2="468.60571443195636" stroke="#0d0d0d" stroke-width="0.9"/>
<line x1="355.9" y1="467.638333321794" x2="357.9" y2="467.638333321794" stroke="#0d0d0d" stroke-width="0.9"/>
<line x1="355.9" y1="466.80034968796645" x2="357.9" y2="466.80034968796645" stroke="#0d0d0d" stroke-width="0.9"/>
<line x1="355.9" y1="466.0611957386018" x2="357.9" y2="466.0611957386018" stroke="#0d0d0d" stroke-width="0.9"/>
<text x="361.2" y="478.9" font-family="'Liberation Serif', serif" font-size="13" font-weight="bold" text-anchor="start" fill="#0d0d0d" textLength="18.8" lengthAdjust="spacingAndGlyphs" >461</text>
<g clip-path="url(#cb3)"><path d="M439.17,515.18 L439.30,514.69 L439.52,514.18 L439.82,513.67 L440.16,513.15 L440.52,512.62 L440.89,512.07 L441.29,511.51 L441.71,510.95 L442.18,510.39 L442.70,509.86 L443.27,509.36 L443.85,508.90 L444.46,508.48 L445.06,508.07 L445.64,507.66 L446.18,507.20 L446.66,506.69 L447.10,506.09 L447.51,505.42 L447.93,504.69 L448.38,503.93 L448.87,503.18 L449.42,502.46 L450.03,501.81 L450.69,501.21 L451.39,500.66 L452.11,500.14 L452.85,499.62 L453.60,499.10 L454.35,498.57 L455.11,498.02 L455.87,497.49 L456.62,496.97 L457.37,496.51 L458.10,496.10 L458.81,495.75 L459.51,495.43 L460.22,495.11 L460.95,494.78 L461.69,494.41 L462.44,494.00 L463.21,493.56 L463.98,493.11 L464.75,492.67 L465.48,492.27 L466.18,491.95 L466.81,491.71 L467.37,491.56 L467.86,491.47 L468.30,491.41 L468.71,491.34 L469.11,491.25 L469.52,491.11 L469.97,490.92 L470.45,490.69 L470.96,490.46 L471.49,490.25 L472.03,490.09 L472.57,490.02 L473.11,490.05 L473.65,490.18 L474.19,490.41 L474.72,490.71 L475.26,491.05 L475.81,491.44 L476.37,491.84 L476.92,492.27 L477.46,492.72 L477.96,493.21 L478.41,493.73 L478.80,494.29 L479.13,494.86 L479.41,495.47 L479.67,496.11 L479.95,496.76 L480.25,497.38 L480.60,497.98 L480.99,498.55 L481.41,499.10 L481.83,499.63 L482.24,500.16 L482.59,500.69 L482.87,501.23 L483.08,501.76 L483.23,502.28 L483.37,502.80 L483.50,503.29 L483.66,503.75 L483.86,504.17 L484.10,504.55 L484.36,504.89 L484.64,505.21 L484.88,505.52 L485.05,505.82 L485.13,506.13 L485.08,506.44 L484.90,506.76 L484.61,507.06 L484.24,507.35 L483.80,507.62 L483.32,507.88 L482.81,508.12 L482.28,508.37 L481.71,508.62 L481.10,508.89 L480.44,509.18 L479.73,509.50 L479.01,509.85 L478.27,510.22 L477.54,510.60 L476.84,510.97 L476.20,511.33 L475.63,511.67 L475.14,512.01 L474.69,512.34 L474.26,512.67 L473.80,513.02 L473.28,513.38 L472.67,513.77 L471.96,514.17 L471.15,514.60 L470.24,515.05 L469.29,515.53 L468.32,516.02 L467.37,516.50 L466.45,516.98 L465.57,517.47 L464.72,517.95 L463.88,518.42 L463.03,518.88 L462.15,519.31 L461.24,519.69 L460.29,520.02 L459.30,520.31 L458.28,520.56 L457.27,520.79 L456.27,521.01 L455.29,521.21 L454.32,521.39 L453.39,521.53 L452.50,521.61 L451.69,521.64 L450.97,521.61 L450.35,521.53 L449.82,521.43 L449.33,521.34 L448.84,521.27 L448.34,521.23 L447.78,521.22 L447.17,521.24 L446.50,521.26 L445.81,521.27 L445.11,521.23 L444.45,521.14 L443.84,520.98 L443.31,520.75 L442.83,520.44 L442.38,520.07 L441.96,519.66 L441.54,519.21 L441.12,518.74 L440.69,518.26 L440.27,517.76 L439.88,517.25 L439.55,516.73 L439.30,516.21 L439.17,515.69Z" fill="none" stroke="#0d0d0d" stroke-width="1.4" stroke-linejoin="round"/><path d="M441.92,515.37 L441.97,514.96 L442.06,514.52 L442.19,514.08 L442.37,513.62 L442.60,513.14 L442.89,512.66 L443.24,512.19 L443.65,511.72 L444.09,511.26 L444.54,510.81 L444.98,510.36 L445.39,509.91 L445.78,509.45 L446.17,508.98 L446.57,508.50 L447.00,508.04 L447.48,507.61 L447.99,507.22 L448.53,506.87 L449.09,506.56 L449.65,506.27 L450.20,505.97 L450.73,505.63 L451.23,505.23 L451.72,504.74 L452.22,504.16 L452.74,503.51 L453.29,502.83 L453.87,502.15 L454.48,501.51 L455.11,500.93 L455.75,500.42 L456.39,499.97 L457.02,499.57 L457.64,499.21 L458.25,498.86 L458.86,498.51 L459.49,498.14 L460.13,497.77 L460.79,497.40 L461.43,497.06 L462.07,496.75 L462.69,496.48 L463.28,496.26 L463.84,496.07 L464.38,495.89 L464.90,495.71 L465.40,495.53 L465.88,495.33 L466.33,495.12 L466.76,494.91 L467.16,494.74 L467.52,494.61 L467.84,494.55 L468.13,494.56 L468.39,494.63 L468.65,494.75 L468.92,494.90 L469.23,495.04 L469.59,495.17 L470.03,495.27 L470.53,495.36 L471.09,495.44 L471.69,495.53 L472.29,495.66 L472.89,495.84 L473.46,496.08 L473.98,496.39 L474.45,496.75 L474.87,497.15 L475.26,497.57 L475.61,498.00 L475.95,498.43 L476.27,498.90 L476.59,499.40 L476.88,499.92 L477.14,500.46 L477.36,501.03 L477.54,501.62 L477.68,502.21 L477.81,502.79 L477.93,503.33 L478.07,503.83 L478.25,504.27 L478.47,504.65 L478.74,505.00 L479.03,505.33 L479.32,505.66 L479.57,505.98 L479.74,506.31 L479.84,506.65 L479.86,507.00 L479.80,507.35 L479.70,507.69 L479.56,508.01 L479.41,508.30 L479.26,508.56 L479.12,508.78 L478.97,508.96 L478.80,509.13 L478.60,509.28 L478.34,509.44 L478.02,509.61 L477.63,509.79 L477.19,510.00 L476.71,510.22 L476.22,510.47 L475.73,510.73 L475.26,511.01 L474.78,511.30 L474.29,511.59 L473.78,511.89 L473.23,512.21 L472.63,512.54 L471.97,512.88 L471.28,513.23 L470.56,513.58 L469.85,513.93 L469.15,514.27 L468.50,514.60 L467.88,514.94 L467.29,515.29 L466.71,515.67 L466.11,516.06 L465.46,516.47 L464.76,516.88 L463.99,517.29 L463.15,517.68 L462.28,518.03 L461.40,518.35 L460.54,518.62 L459.75,518.86 L459.00,519.09 L458.29,519.34 L457.58,519.62 L456.86,519.93 L456.08,520.24 L455.26,520.53 L454.42,520.74 L453.59,520.89 L452.81,520.98 L452.07,521.03 L451.39,521.06 L450.76,521.08 L450.17,521.09 L449.61,521.09 L449.09,521.07 L448.61,521.03 L448.19,520.95 L447.83,520.82 L447.53,520.67 L447.27,520.48 L447.04,520.28 L446.79,520.07 L446.51,519.87 L446.17,519.66 L445.75,519.45 L445.24,519.22 L444.67,518.96 L444.09,518.66 L443.52,518.32 L443.02,517.94 L442.61,517.52 L442.30,517.09 L442.09,516.65 L441.96,516.22 L441.91,515.79Z" fill="none" stroke="#0d0d0d" stroke-width="1.4" stroke-linejoin="round"/><path d="M444.28,515.53 L444.35,515.19 L444.47,514.85 L444.63,514.49 L444.80,514.12 L445.01,513.75 L445.23,513.36 L445.49,512.96 L445.79,512.57 L446.13,512.19 L446.49,511.82 L446.86,511.46 L447.22,511.11 L447.56,510.76 L447.88,510.38 L448.18,509.97 L448.46,509.52 L448.73,509.04 L449.02,508.53 L449.34,508.03 L449.70,507.55 L450.11,507.12 L450.57,506.75 L451.06,506.44 L451.56,506.18 L452.07,505.94 L452.59,505.70 L453.09,505.44 L453.60,505.14 L454.10,504.79 L454.60,504.42 L455.11,504.02 L455.62,503.62 L456.13,503.24 L456.64,502.88 L457.14,502.54 L457.64,502.22 L458.14,501.91 L458.66,501.58 L459.19,501.24 L459.74,500.87 L460.30,500.50 L460.86,500.14 L461.41,499.81 L461.94,499.53 L462.44,499.30 L462.91,499.13 L463.33,499.00 L463.72,498.91 L464.08,498.82 L464.43,498.70 L464.77,498.56 L465.11,498.39 L465.46,498.21 L465.81,498.02 L466.15,497.85 L466.49,497.74 L466.80,497.69 L467.09,497.73 L467.37,497.84 L467.64,498.02 L467.91,498.26 L468.20,498.52 L468.51,498.81 L468.84,499.09 L469.20,499.37 L469.58,499.64 L469.97,499.92 L470.35,500.21 L470.73,500.51 L471.08,500.82 L471.41,501.15 L471.72,501.47 L472.02,501.80 L472.32,502.14 L472.65,502.49 L472.99,502.84 L473.33,503.19 L473.67,503.56 L473.98,503.95 L474.25,504.35 L474.46,504.78 L474.61,505.21 L474.72,505.65 L474.79,506.06 L474.86,506.45 L474.95,506.81 L475.08,507.14 L475.26,507.44 L475.46,507.71 L475.67,507.96 L475.88,508.20 L476.03,508.43 L476.12,508.68 L476.13,508.93 L476.05,509.20 L475.87,509.46 L475.63,509.72 L475.33,509.96 L475.00,510.18 L474.66,510.38 L474.31,510.56 L473.96,510.73 L473.60,510.89 L473.23,511.06 L472.84,511.23 L472.44,511.42 L472.04,511.62 L471.65,511.83 L471.29,512.05 L470.96,512.26 L470.66,512.48 L470.39,512.69 L470.13,512.91 L469.87,513.13 L469.57,513.37 L469.21,513.62 L468.77,513.89 L468.25,514.18 L467.66,514.48 L467.01,514.79 L466.32,515.10 L465.62,515.43 L464.93,515.76 L464.26,516.10 L463.63,516.43 L463.02,516.77 L462.42,517.11 L461.81,517.44 L461.18,517.76 L460.52,518.06 L459.83,518.31 L459.14,518.52 L458.45,518.69 L457.75,518.83 L457.09,518.95 L456.45,519.07 L455.83,519.21 L455.22,519.36 L454.61,519.50 L454.01,519.63 L453.42,519.73 L452.86,519.80 L452.33,519.85 L451.84,519.89 L451.36,519.93 L450.88,519.98 L450.38,520.04 L449.87,520.10 L449.35,520.16 L448.83,520.20 L448.35,520.19 L447.91,520.14 L447.53,520.03 L447.23,519.87 L446.99,519.67 L446.80,519.43 L446.62,519.16 L446.43,518.86 L446.20,518.56 L445.94,518.26 L445.65,517.94 L445.34,517.62 L445.03,517.28 L444.75,516.94 L444.52,516.58 L444.37,516.23 L444.28,515.88Z" fill="none" stroke="#0d0d0d" stroke-width="1.4" stroke-linejoin="round"/><path d="M445.92,515.65 L445.83,515.34 L445.82,515.03 L445.91,514.71 L446.10,514.39 L446.37,514.09 L446.70,513.79 L447.08,513.51 L447.48,513.24 L447.86,512.98 L448.21,512.71 L448.52,512.43 L448.80,512.14 L449.05,511.84 L449.30,511.54 L449.56,511.23 L449.84,510.92 L450.13,510.63 L450.43,510.33 L450.74,510.04 L451.05,509.73 L451.36,509.40 L451.66,509.05 L451.98,508.68 L452.31,508.30 L452.65,507.93 L453.03,507.56 L453.43,507.22 L453.84,506.92 L454.26,506.63 L454.68,506.37 L455.11,506.10 L455.53,505.81 L455.95,505.50 L456.38,505.16 L456.81,504.80 L457.24,504.43 L457.68,504.08 L458.13,503.75 L458.58,503.47 L459.03,503.24 L459.45,503.07 L459.86,502.95 L460.24,502.86 L460.61,502.78 L460.97,502.70 L461.32,502.62 L461.66,502.51 L461.99,502.40 L462.30,502.28 L462.60,502.16 L462.87,502.04 L463.12,501.95 L463.36,501.86 L463.59,501.80 L463.83,501.74 L464.07,501.68 L464.33,501.61 L464.62,501.56 L464.93,501.51 L465.26,501.49 L465.60,501.50 L465.94,501.58 L466.28,501.71 L466.59,501.90 L466.88,502.14 L467.16,502.42 L467.43,502.71 L467.70,503.00 L467.99,503.27 L468.28,503.53 L468.59,503.76 L468.90,503.98 L469.19,504.21 L469.47,504.48 L469.72,504.79 L469.93,505.14 L470.09,505.52 L470.21,505.93 L470.31,506.35 L470.39,506.76 L470.46,507.15 L470.55,507.52 L470.65,507.85 L470.77,508.15 L470.90,508.42 L471.04,508.68 L471.18,508.93 L471.31,509.17 L471.43,509.40 L471.53,509.63 L471.64,509.84 L471.75,510.04 L471.86,510.22 L471.97,510.39 L472.06,510.54 L472.11,510.70 L472.10,510.85 L472.02,510.99 L471.86,511.14 L471.62,511.29 L471.30,511.45 L470.93,511.62 L470.53,511.79 L470.13,511.95 L469.74,512.11 L469.39,512.27 L469.08,512.43 L468.80,512.59 L468.54,512.76 L468.28,512.94 L467.99,513.13 L467.67,513.33 L467.31,513.54 L466.91,513.76 L466.49,513.99 L466.06,514.21 L465.63,514.44 L465.20,514.67 L464.78,514.89 L464.36,515.12 L463.93,515.35 L463.47,515.60 L462.98,515.86 L462.46,516.13 L461.92,516.40 L461.38,516.67 L460.85,516.93 L460.34,517.19 L459.87,517.44 L459.44,517.70 L459.03,517.97 L458.62,518.23 L458.19,518.50 L457.69,518.76 L457.12,518.99 L456.49,519.16 L455.84,519.25 L455.22,519.27 L454.65,519.24 L454.15,519.20 L453.69,519.18 L453.25,519.18 L452.82,519.21 L452.41,519.26 L452.00,519.30 L451.61,519.34 L451.24,519.36 L450.90,519.35 L450.60,519.32 L450.32,519.27 L450.06,519.20 L449.81,519.12 L449.55,519.03 L449.28,518.94 L448.99,518.83 L448.70,518.70 L448.41,518.55 L448.11,518.36 L447.82,518.15 L447.56,517.91 L447.33,517.65 L447.11,517.37 L446.90,517.10 L446.69,516.81 L446.48,516.53 L446.27,516.24 L446.07,515.94Z" fill="none" stroke="#0d0d0d" stroke-width="1.4" stroke-linejoin="round"/><path d="M464.74,507.95 L464.88,508.35 L464.92,508.78 L464.87,509.25 L464.72,509.73 L464.49,510.23 L464.16,510.74 L463.75,511.25 L463.26,511.76 L462.69,512.25 L462.05,512.74 L461.34,513.20 L460.59,513.64 L459.78,514.05 L458.94,514.43 L458.08,514.78 L457.20,515.10 L456.31,515.38 L455.43,515.63 L454.57,515.84 L453.73,516.01 L452.93,516.14 L452.17,516.23 L451.46,516.28 L450.82,516.28 L450.24,516.25 L449.74,516.18 L449.32,516.06 L448.98,515.90 L448.72,515.70 L448.56,515.45 L448.48,515.17 L448.49,514.84 L448.59,514.48 L448.77,514.08 L449.04,513.65 L449.38,513.19 L449.81,512.70 L450.30,512.19 L450.86,511.67 L451.48,511.15 L452.15,510.61 L452.86,510.09 L453.62,509.58 L454.41,509.08 L455.22,508.62 L456.05,508.18 L456.88,507.79 L457.72,507.44 L458.54,507.15 L459.35,506.91 L460.13,506.73 L460.88,506.62 L461.58,506.57 L462.24,506.59 L462.83,506.67 L463.37,506.81 L463.83,507.01 L464.22,507.28 L464.52,507.59Z" fill="none" stroke="#0d0d0d" stroke-width="1.4" stroke-linejoin="round"/><path d="M466.38,507.19 L466.58,507.77 L466.68,508.40 L466.66,509.05 L466.53,509.73 L466.29,510.42 L465.94,511.11 L465.47,511.79 L464.91,512.46 L464.25,513.11 L463.50,513.73 L462.67,514.31 L461.77,514.86 L460.81,515.37 L459.80,515.82 L458.75,516.24 L457.69,516.60 L456.61,516.91 L455.53,517.17 L454.47,517.37 L453.44,517.53 L452.45,517.63 L451.52,517.68 L450.64,517.68 L449.84,517.63 L449.11,517.52 L448.48,517.36 L447.94,517.15 L447.50,516.89 L447.16,516.57 L446.92,516.21 L446.80,515.80 L446.77,515.33 L446.86,514.83 L447.05,514.28 L447.34,513.69 L447.72,513.07 L448.20,512.42 L448.77,511.75 L449.41,511.07 L450.13,510.38 L450.91,509.69 L451.76,509.02 L452.65,508.37 L453.58,507.74 L454.55,507.16 L455.54,506.63 L456.54,506.16 L457.54,505.75 L458.54,505.42 L459.53,505.16 L460.49,504.99 L461.41,504.91 L462.28,504.91 L463.10,505.00 L463.86,505.17 L464.54,505.43 L465.14,505.77 L465.65,506.18 L466.06,506.66Z" fill="none" stroke="#0d0d0d" stroke-width="1.4" stroke-linejoin="round"/></g>
<rect x="430.7" y="465.4" width="61.5" height="57.80000000000007" fill="none" stroke="#0d0d0d" stroke-width="1.3"/>
<line x1="430.7" y1="523.2" x2="430.7" y2="526.2" stroke="#0d0d0d" stroke-width="0.9"/>
<line x1="435.3283361833337" y1="523.2" x2="435.3283361833337" y2="525.2" stroke="#0d0d0d" stroke-width="0.9"/>
<line x1="438.0357392913148" y1="523.2" x2="438.0357392913148" y2="525.2" stroke="#0d0d0d" stroke-width="0.9"/>
<line x1="439.9566723666674" y1="523.2" x2="439.9566723666674" y2="525.2" stroke="#0d0d0d" stroke-width="0.9"/>
<line x1="441.4466638166663" y1="523.2" x2="441.4466638166663" y2="525.2" stroke="#0d0d0d" stroke-width="0.9"/>
<line x1="442.6640754746485" y1="523.2" x2="442.6640754746485" y2="525.2" stroke="#0d0d0d" stroke-width="0.9"/>
<line x1="443.6933823652192" y1="523.2" x2="443.6933823652192" y2="525.2" stroke="#0d0d0d" stroke-width="0.9"/>
<line x1="444.58500855000113" y1="523.2" x2="444.58500855000113" y2="525.2" stroke="#0d0d0d" stroke-width="0.9"/>
<line x1="445.3714785826296" y1="523.2" x2="445.3714785826296" y2="525.2" stroke="#0d0d0d" stroke-width="0.9"/>
<line x1="446.075" y1="523.2" x2="446.075" y2="526.2" stroke="#0d0d0d" stroke-width="0.9"/>
<line x1="450.7033361833337" y1="523.2" x2="450.7033361833337" y2="525.2" stroke="#0d0d0d" stroke-width="0.9"/>
<line x1="453.4107392913148" y1="523.2" x2="453.4107392913148" y2="525.2" stroke="#0d0d0d" stroke-width="0.9"/>
<line x1="455.3316723666674" y1="523.2" x2="455.3316723666674" y2="525.2" stroke="#0d0d0d" stroke-width="0.9"/>
<line x1="456.8216638166663" y1="523.2" x2="456.8216638166663" y2="525.2" stroke="#0d0d0d" stroke-width="0.9"/>
<line x1="458.0390754746485" y1="523.2" x2="458.0390754746485" y2="525.2" stroke="#0d0d0d" stroke-width="0.9"/>
<line x1="459.0683823652192" y1="523.2" x2="459.0683823652192" y2="525.2" stroke="#0d0d0d" stroke-width="0.9"/>
<line x1="459.96000855000113" y1="523.2" x2="459.96000855000113" y2="525.2" stroke="#0d0d0d" stroke-width="0.9"/>
<line x1="460.7464785826296" y1="523.2" x2="460.7464785826296" y2="525.2" stroke="#0d0d0d" stroke-width="0.9"/>
<line x1="461.45" y1="523.2" x2="461.45" y2="526.2" stroke="#0d0d0d" stroke-width="0.9"/>
<line x1="466.0783361833337" y1="523.2" x2="466.0783361833337" y2="525.2" stroke="#0d0d0d" stroke-width="0.9"/>
<line x1="468.7857392913148" y1="523.2" x2="468.7857392913148" y2="525.2" stroke="#0d0d0d" stroke-width="0.9"/>
<line x1="470.7066723666674" y1="523.2" x2="470.7066723666674" y2="525.2" stroke="#0d0d0d" stroke-width="0.9"/>
<line x1="472.1966638166663" y1="523.2" x2="472.1966638166663" y2="525.2" stroke="#0d0d0d" stroke-width="0.9"/>
<line x1="473.4140754746485" y1="523.2" x2="473.4140754746485" y2="525.2" stroke="#0d0d0d" stroke-width="0.9"/>
<line x1="474.4433823652192" y1="523.2" x2="474.4433823652192" y2="525.2" stroke="#0d0d0d" stroke-width="0.9"/>
<line x1="475.33500855000113" y1="523.2" x2="475.33500855000113" y2="525.2" stroke="#0d0d0d" stroke-width="0.9"/>
<line x1="476.1214785826296" y1="523.2" x2="476.1214785826296" y2="525.2" stroke="#0d0d0d" stroke-width="0.9"/>
<line x1="476.825" y1="523.2" x2="476.825" y2="526.2" stroke="#0d0d0d" stroke-width="0.9"/>
<line x1="481.4533361833337" y1="523.2" x2="481.4533361833337" y2="525.2" stroke="#0d0d0d" stroke-width="0.9"/>
<line x1="484.1607392913148" y1="523.2" x2="484.1607392913148" y2="525.2" stroke="#0d0d0d" stroke-width="0.9"/>
<line x1="486.0816723666674" y1="523.2" x2="486.0816723666674" y2="525.2" stroke="#0d0d0d" stroke-width="0.9"/>
<line x1="487.5716638166663" y1="523.2" x2="487.5716638166663" y2="525.2" stroke="#0d0d0d" stroke-width="0.9"/>
<line x1="488.7890754746485" y1="523.2" x2="488.7890754746485" y2="525.2" stroke="#0d0d0d" stroke-width="0.9"/>
<line x1="489.8183823652192" y1="523.2" x2="489.8183823652192" y2="525.2" stroke="#0d0d0d" stroke-width="0.9"/>
<line x1="490.71000855000113" y1="523.2" x2="490.71000855000113" y2="525.2" stroke="#0d0d0d" stroke-width="0.9"/>
<line x1="491.4964785826296" y1="523.2" x2="491.4964785826296" y2="525.2" stroke="#0d0d0d" stroke-width="0.9"/>
<line x1="427.7" y1="523.2" x2="430.7" y2="523.2" stroke="#0d0d0d" stroke-width="0.9"/>
<line x1="428.7" y1="518.8501165626556" x2="430.7" y2="518.8501165626556" stroke="#0d0d0d" stroke-width="0.9"/>
<line x1="428.7" y1="516.3055978693009" x2="430.7" y2="516.3055978693009" stroke="#0d0d0d" stroke-width="0.9"/>
<line x1="428.7" y1="514.500233125311" x2="430.7" y2="514.500233125311" stroke="#0d0d0d" stroke-width="0.9"/>
<line x1="428.7" y1="513.0998834373446" x2="430.7" y2="513.0998834373446" stroke="#0d0d0d" stroke-width="0.9"/>
<line x1="428.7" y1="511.9557144319564" x2="430.7" y2="511.9557144319564" stroke="#0d0d0d" stroke-width="0.9"/>
<line x1="428.7" y1="510.988333321794" x2="430.7" y2="510.988333321794" stroke="#0d0d0d" stroke-width="0.9"/>
<line x1="428.7" y1="510.15034968796647" x2="430.7" y2="510.15034968796647" stroke="#0d0d0d" stroke-width="0.9"/>
<line x1="428.7" y1="509.4111957386018" x2="430.7" y2="509.4111957386018" stroke="#0d0d0d" stroke-width="0.9"/>
<line x1="427.7" y1="508.75" x2="430.7" y2="508.75" stroke="#0d0d0d" stroke-width="0.9"/>
<line x1="428.7" y1="504.40011656265546" x2="430.7" y2="504.40011656265546" stroke="#0d0d0d" stroke-width="0.9"/>
<line x1="428.7" y1="501.8555978693009" x2="430.7" y2="501.8555978693009" stroke="#0d0d0d" stroke-width="0.9"/>
<line x1="428.7" y1="500.0502331253109" x2="430.7" y2="500.0502331253109" stroke="#0d0d0d" stroke-width="0.9"/>
<line x1="428.7" y1="498.6498834373445" x2="430.7" y2="498.6498834373445" stroke="#0d0d0d" stroke-width="0.9"/>
<line x1="428.7" y1="497.50571443195633" x2="430.7" y2="497.50571443195633" stroke="#0d0d0d" stroke-width="0.9"/>
<line x1="428.7" y1="496.53833332179397" x2="430.7" y2="496.53833332179397" stroke="#0d0d0d" stroke-width="0.9"/>
<line x1="428.7" y1="495.7003496879664" x2="430.7" y2="495.7003496879664" stroke="#0d0d0d" stroke-width="0.9"/>
<line x1="428.7" y1="494.96119573860176" x2="430.7" y2="494.96119573860176" stroke="#0d0d0d" stroke-width="0.9"/>
<line x1="427.7" y1="494.3" x2="430.7" y2="494.3" stroke="#0d0d0d" stroke-width="0.9"/>
<line x1="428.7" y1="489.95011656265547" x2="430.7" y2="489.95011656265547" stroke="#0d0d0d" stroke-width="0.9"/>
<line x1="428.7" y1="487.4055978693009" x2="430.7" y2="487.4055978693009" stroke="#0d0d0d" stroke-width="0.9"/>
<line x1="428.7" y1="485.6002331253109" x2="430.7" y2="485.6002331253109" stroke="#0d0d0d" stroke-width="0.9"/>
<line x1="428.7" y1="484.1998834373445" x2="430.7" y2="484.1998834373445" stroke="#0d0d0d" stroke-width="0.9"/>
<line x1="428.7" y1="483.05571443195635" x2="430.7" y2="483.05571443195635" stroke="#0d0d0d" stroke-width="0.9"/>
<line x1="428.7" y1="482.088333321794" x2="430.7" y2="482.088333321794" stroke="#0d0d0d" stroke-width="0.9"/>
<line x1="428.7" y1="481.25034968796643" x2="430.7" y2="481.25034968796643" stroke="#0d0d0d" stroke-width="0.9"/>
<line x1="428.7" y1="480.51119573860177" x2="430.7" y2="480.51119573860177" stroke="#0d0d0d" stroke-width="0.9"/>
<line x1="427.7" y1="479.85" x2="430.7" y2="479.85" stroke="#0d0d0d" stroke-width="0.9"/>
<line x1="428.7" y1="475.5001165626555" x2="430.7" y2="475.5001165626555" stroke="#0d0d0d" stroke-width="0.9"/>
<line x1="428.7" y1="472.9555978693009" x2="430.7" y2="472.9555978693009" stroke="#0d0d0d" stroke-width="0.9"/>
<line x1="428.7" y1="471.15023312531093" x2="430.7" y2="471.15023312531093" stroke="#0d0d0d" stroke-width="0.9"/>
<line x1="428.7" y1="469.7498834373445" x2="430.7" y2="469.7498834373445" stroke="#0d0d0d" stroke-width="0.9"/>
<line x1="428.7" y1="468.60571443195636" x2="430.7" y2="468.60571443195636" stroke="#0d0d0d" stroke-width="0.9"/>
<line x1="428.7" y1="467.638333321794" x2="430.7" y2="467.638333321794" stroke="#0d0d0d" stroke-width="0.9"/>
<line x1="428.7" y1="466.80034968796645" x2="430.7" y2="466.80034968796645" stroke="#0d0d0d" stroke-width="0.9"/>
<line x1="428.7" y1="466.0611957386018" x2="430.7" y2="466.0611957386018" stroke="#0d0d0d" stroke-width="0.9"/>
<text x="432.8" y="479.3" font-family="'Liberation Serif', serif" font-size="13" font-weight="bold" text-anchor="start" fill="#0d0d0d" textLength="18.8" lengthAdjust="spacingAndGlyphs" >460</text>
<g clip-path="url(#cb4)"><path d="M365.08,584.35 L365.19,583.95 L365.39,583.54 L365.66,583.12 L365.97,582.68 L366.30,582.22 L366.62,581.74 L366.93,581.24 L367.23,580.73 L367.52,580.21 L367.82,579.70 L368.13,579.21 L368.45,578.78 L368.81,578.41 L369.22,578.10 L369.67,577.84 L370.13,577.60 L370.58,577.38 L370.99,577.13 L371.36,576.84 L371.68,576.49 L371.96,576.10 L372.22,575.66 L372.45,575.19 L372.67,574.73 L372.88,574.30 L373.07,573.91 L373.26,573.58 L373.45,573.30 L373.63,573.08 L373.82,572.88 L374.00,572.69 L374.19,572.50 L374.39,572.30 L374.61,572.08 L374.86,571.86 L375.16,571.65 L375.49,571.47 L375.84,571.33 L376.22,571.22 L376.61,571.14 L377.02,571.06 L377.45,570.97 L377.89,570.83 L378.35,570.62 L378.84,570.35 L379.36,570.00 L379.92,569.58 L380.51,569.13 L381.15,568.66 L381.85,568.20 L382.59,567.78 L383.35,567.41 L384.12,567.08 L384.88,566.78 L385.63,566.50 L386.36,566.22 L387.08,565.91 L387.79,565.58 L388.47,565.22 L389.12,564.85 L389.74,564.49 L390.32,564.12 L390.87,563.79 L391.37,563.51 L391.82,563.29 L392.23,563.13 L392.60,563.04 L392.95,562.98 L393.29,562.95 L393.64,562.94 L394.01,562.94 L394.41,562.93 L394.83,562.94 L395.27,562.95 L395.71,562.98 L396.15,563.05 L396.57,563.14 L396.98,563.28 L397.38,563.43 L397.78,563.59 L398.18,563.75 L398.60,563.89 L399.05,564.01 L399.52,564.10 L400.01,564.20 L400.51,564.32 L401.00,564.48 L401.46,564.70 L401.87,564.98 L402.21,565.34 L402.48,565.76 L402.68,566.23 L402.83,566.73 L402.94,567.24 L403.04,567.72 L403.15,568.16 L403.28,568.56 L403.44,568.92 L403.63,569.25 L403.83,569.57 L404.01,569.89 L404.16,570.22 L404.26,570.57 L404.32,570.94 L404.32,571.33 L404.27,571.73 L404.19,572.15 L404.09,572.56 L403.98,572.97 L403.89,573.37 L403.79,573.76 L403.68,574.15 L403.55,574.55 L403.38,574.96 L403.16,575.37 L402.88,575.81 L402.56,576.24 L402.20,576.68 L401.82,577.11 L401.45,577.52 L401.10,577.91 L400.77,578.28 L400.47,578.63 L400.18,578.97 L399.88,579.30 L399.56,579.64 L399.17,580.00 L398.71,580.38 L398.15,580.77 L397.51,581.19 L396.79,581.62 L396.02,582.06 L395.23,582.49 L394.42,582.92 L393.63,583.33 L392.87,583.74 L392.13,584.12 L391.41,584.50 L390.69,584.86 L389.96,585.21 L389.20,585.56 L388.40,585.89 L387.56,586.21 L386.70,586.51 L385.80,586.79 L384.89,587.07 L383.97,587.33 L383.06,587.58 L382.17,587.83 L381.31,588.07 L380.45,588.31 L379.58,588.54 L378.70,588.74 L377.85,588.89 L377.07,588.99 L376.36,589.05 L375.69,589.08 L375.04,589.12 L374.36,589.16 L373.65,589.21 L372.89,589.26 L372.09,589.29 L371.26,589.31 L370.44,589.29 L369.65,589.23 L368.93,589.12 L368.31,588.96 L367.79,588.75 L367.36,588.49 L367.01,588.19 L366.71,587.86 L366.44,587.50 L366.19,587.13 L365.95,586.75 L365.71,586.36 L365.49,585.96 L365.29,585.55 L365.15,585.15 L365.07,584.74Z" fill="none" stroke="#0d0d0d" stroke-width="1.4" stroke-linejoin="round"/><path d="M367.43,584.77 L367.28,584.39 L367.20,583.99 L367.21,583.56 L367.32,583.11 L367.52,582.67 L367.81,582.24 L368.17,581.83 L368.56,581.43 L368.96,581.06 L369.35,580.70 L369.71,580.35 L370.02,580.01 L370.31,579.69 L370.62,579.39 L370.94,579.11 L371.28,578.85 L371.64,578.62 L372.02,578.42 L372.39,578.25 L372.75,578.07 L373.09,577.90 L373.39,577.69 L373.65,577.45 L373.88,577.17 L374.06,576.86 L374.20,576.52 L374.33,576.19 L374.44,575.88 L374.56,575.61 L374.69,575.39 L374.83,575.22 L374.99,575.07 L375.17,574.95 L375.36,574.82 L375.57,574.66 L375.80,574.45 L376.05,574.21 L376.31,573.93 L376.59,573.62 L376.89,573.30 L377.22,572.99 L377.58,572.71 L377.97,572.46 L378.38,572.26 L378.82,572.09 L379.28,571.94 L379.75,571.79 L380.24,571.61 L380.77,571.40 L381.34,571.15 L381.95,570.87 L382.58,570.57 L383.23,570.26 L383.88,569.97 L384.52,569.71 L385.14,569.48 L385.72,569.27 L386.27,569.08 L386.79,568.91 L387.26,568.74 L387.72,568.55 L388.16,568.32 L388.60,568.06 L389.03,567.78 L389.45,567.51 L389.86,567.26 L390.24,567.06 L390.59,566.91 L390.91,566.82 L391.22,566.80 L391.51,566.81 L391.82,566.86 L392.14,566.90 L392.49,566.93 L392.88,566.93 L393.30,566.90 L393.76,566.85 L394.24,566.79 L394.72,566.75 L395.19,566.73 L395.63,566.75 L396.04,566.83 L396.41,566.96 L396.73,567.13 L397.02,567.36 L397.29,567.63 L397.54,567.93 L397.79,568.25 L398.03,568.58 L398.26,568.93 L398.47,569.30 L398.65,569.68 L398.79,570.08 L398.89,570.50 L398.95,570.91 L398.99,571.32 L399.02,571.71 L399.06,572.08 L399.13,572.41 L399.23,572.71 L399.38,572.97 L399.55,573.21 L399.75,573.42 L399.94,573.64 L400.10,573.87 L400.21,574.12 L400.25,574.40 L400.23,574.72 L400.15,575.06 L400.02,575.42 L399.87,575.79 L399.71,576.16 L399.56,576.51 L399.43,576.84 L399.32,577.16 L399.22,577.46 L399.11,577.76 L398.98,578.06 L398.80,578.37 L398.58,578.69 L398.28,579.02 L397.93,579.37 L397.52,579.73 L397.08,580.09 L396.61,580.45 L396.13,580.81 L395.64,581.17 L395.14,581.52 L394.62,581.86 L394.08,582.21 L393.50,582.56 L392.88,582.91 L392.21,583.27 L391.51,583.63 L390.79,583.99 L390.06,584.34 L389.36,584.67 L388.71,584.98 L388.11,585.27 L387.56,585.54 L387.07,585.80 L386.59,586.06 L386.12,586.30 L385.62,586.54 L385.05,586.79 L384.40,587.04 L383.67,587.30 L382.87,587.55 L382.02,587.78 L381.16,588.00 L380.31,588.19 L379.49,588.37 L378.70,588.53 L377.92,588.70 L377.17,588.84 L376.45,588.95 L375.76,589.03 L375.11,589.07 L374.50,589.09 L373.93,589.07 L373.40,589.04 L372.90,588.98 L372.41,588.91 L371.92,588.83 L371.43,588.74 L370.96,588.63 L370.49,588.49 L370.06,588.33 L369.67,588.14 L369.32,587.91 L369.03,587.65 L368.79,587.36 L368.60,587.06 L368.45,586.76 L368.31,586.44 L368.17,586.13 L368.00,585.80 L367.82,585.47 L367.62,585.13Z" fill="none" stroke="#0d0d0d" stroke-width="1.4" stroke-linejoin="round"/><path d="M369.11,585.07 L369.17,584.79 L369.27,584.49 L369.43,584.18 L369.63,583.86 L369.89,583.55 L370.18,583.23 L370.50,582.93 L370.83,582.64 L371.14,582.35 L371.42,582.06 L371.66,581.76 L371.84,581.44 L371.98,581.11 L372.11,580.77 L372.26,580.42 L372.42,580.08 L372.62,579.76 L372.85,579.48 L373.12,579.25 L373.42,579.06 L373.73,578.92 L374.03,578.80 L374.32,578.70 L374.57,578.58 L374.79,578.44 L374.95,578.26 L375.08,578.04 L375.18,577.79 L375.26,577.53 L375.34,577.27 L375.43,577.03 L375.53,576.81 L375.66,576.62 L375.81,576.45 L375.99,576.31 L376.20,576.17 L376.43,576.04 L376.67,575.91 L376.92,575.77 L377.19,575.64 L377.48,575.50 L377.78,575.38 L378.10,575.27 L378.43,575.17 L378.78,575.09 L379.15,575.01 L379.52,574.91 L379.91,574.78 L380.33,574.58 L380.79,574.31 L381.30,573.97 L381.85,573.58 L382.43,573.16 L383.03,572.72 L383.63,572.30 L384.22,571.92 L384.78,571.60 L385.30,571.35 L385.76,571.17 L386.16,571.06 L386.50,570.99 L386.81,570.93 L387.10,570.87 L387.38,570.80 L387.66,570.71 L387.93,570.60 L388.22,570.49 L388.50,570.39 L388.78,570.30 L389.06,570.23 L389.33,570.19 L389.62,570.18 L389.91,570.18 L390.22,570.19 L390.53,570.20 L390.87,570.20 L391.22,570.20 L391.59,570.19 L391.95,570.19 L392.31,570.22 L392.65,570.27 L392.96,570.37 L393.23,570.51 L393.46,570.68 L393.66,570.90 L393.85,571.15 L394.04,571.42 L394.25,571.68 L394.47,571.92 L394.72,572.15 L394.99,572.36 L395.27,572.57 L395.55,572.77 L395.81,572.98 L396.03,573.20 L396.20,573.44 L396.31,573.71 L396.38,574.00 L396.41,574.31 L396.42,574.63 L396.41,574.95 L396.39,575.26 L396.38,575.55 L396.38,575.83 L396.38,576.11 L396.37,576.37 L396.35,576.64 L396.30,576.91 L396.23,577.19 L396.15,577.48 L396.05,577.77 L395.95,578.05 L395.85,578.33 L395.77,578.59 L395.70,578.85 L395.63,579.09 L395.57,579.32 L395.49,579.56 L395.37,579.80 L395.20,580.06 L394.96,580.33 L394.66,580.63 L394.29,580.94 L393.87,581.26 L393.42,581.58 L392.96,581.89 L392.52,582.19 L392.11,582.48 L391.72,582.75 L391.37,583.01 L391.03,583.26 L390.69,583.51 L390.33,583.76 L389.93,584.02 L389.47,584.29 L388.97,584.57 L388.41,584.86 L387.82,585.14 L387.21,585.41 L386.59,585.68 L385.98,585.93 L385.38,586.17 L384.79,586.39 L384.20,586.59 L383.59,586.79 L382.96,586.98 L382.29,587.16 L381.61,587.32 L380.92,587.46 L380.25,587.56 L379.64,587.62 L379.12,587.69 L378.67,587.84 L378.16,588.07 L377.55,588.31 L376.90,588.50 L376.25,588.65 L375.62,588.74 L375.03,588.79 L374.50,588.79 L374.04,588.76 L373.64,588.70 L373.28,588.61 L372.96,588.52 L372.64,588.41 L372.32,588.30 L371.98,588.18 L371.63,588.05 L371.25,587.90 L370.86,587.72 L370.48,587.52 L370.13,587.28 L369.82,587.03 L369.57,586.76 L369.38,586.48 L369.24,586.19 L369.16,585.91 L369.11,585.63 L369.09,585.35Z" fill="none" stroke="#0d0d0d" stroke-width="1.4" stroke-linejoin="round"/><path d="M370.57,585.33 L370.59,585.09 L370.68,584.84 L370.84,584.58 L371.04,584.32 L371.28,584.06 L371.52,583.80 L371.76,583.53 L371.98,583.25 L372.19,582.97 L372.37,582.68 L372.55,582.40 L372.72,582.13 L372.90,581.90 L373.12,581.70 L373.38,581.54 L373.67,581.42 L373.97,581.34 L374.27,581.27 L374.56,581.21 L374.82,581.14 L375.05,581.04 L375.25,580.91 L375.41,580.73 L375.54,580.52 L375.64,580.28 L375.71,580.02 L375.78,579.76 L375.84,579.51 L375.90,579.28 L375.96,579.05 L376.02,578.84 L376.10,578.62 L376.18,578.41 L376.29,578.20 L376.41,577.99 L376.57,577.79 L376.75,577.61 L376.95,577.46 L377.17,577.35 L377.41,577.28 L377.66,577.25 L377.92,577.24 L378.19,577.25 L378.47,577.24 L378.76,577.20 L379.05,577.12 L379.36,577.00 L379.69,576.82 L380.05,576.59 L380.44,576.34 L380.86,576.08 L381.30,575.84 L381.74,575.62 L382.18,575.43 L382.61,575.27 L383.01,575.14 L383.40,575.02 L383.76,574.90 L384.11,574.78 L384.44,574.65 L384.75,574.50 L385.06,574.33 L385.36,574.14 L385.65,573.95 L385.94,573.77 L386.21,573.60 L386.47,573.46 L386.72,573.33 L386.97,573.23 L387.23,573.13 L387.49,573.05 L387.77,572.98 L388.06,572.91 L388.36,572.85 L388.67,572.80 L388.96,572.79 L389.24,572.80 L389.50,572.86 L389.73,572.96 L389.93,573.10 L390.11,573.27 L390.27,573.45 L390.42,573.64 L390.58,573.82 L390.74,573.99 L390.93,574.15 L391.14,574.32 L391.35,574.48 L391.57,574.64 L391.78,574.83 L391.96,575.03 L392.12,575.26 L392.24,575.51 L392.33,575.77 L392.40,576.03 L392.45,576.29 L392.50,576.53 L392.57,576.75 L392.65,576.95 L392.74,577.14 L392.85,577.32 L392.96,577.49 L393.06,577.66 L393.14,577.83 L393.21,578.01 L393.25,578.20 L393.27,578.40 L393.27,578.61 L393.26,578.81 L393.26,579.01 L393.26,579.21 L393.25,579.41 L393.24,579.61 L393.20,579.82 L393.13,580.04 L393.01,580.28 L392.83,580.53 L392.60,580.80 L392.32,581.07 L392.00,581.36 L391.65,581.64 L391.29,581.92 L390.95,582.18 L390.61,582.44 L390.31,582.67 L390.02,582.90 L389.75,583.11 L389.48,583.32 L389.20,583.53 L388.90,583.74 L388.57,583.96 L388.22,584.18 L387.84,584.40 L387.44,584.63 L387.03,584.85 L386.62,585.07 L386.23,585.29 L385.84,585.49 L385.46,585.69 L385.08,585.89 L384.70,586.08 L384.30,586.26 L383.88,586.44 L383.43,586.62 L382.96,586.79 L382.45,586.96 L381.93,587.12 L381.42,587.29 L380.91,587.45 L380.41,587.64 L379.90,587.85 L379.33,588.08 L378.69,588.28 L378.04,588.38 L377.48,588.40 L377.02,588.39 L376.64,588.34 L376.31,588.29 L376.03,588.24 L375.76,588.18 L375.49,588.14 L375.20,588.10 L374.89,588.07 L374.54,588.03 L374.18,587.99 L373.80,587.94 L373.43,587.88 L373.08,587.79 L372.75,587.67 L372.44,587.53 L372.16,587.36 L371.90,587.18 L371.66,586.98 L371.44,586.76 L371.23,586.54 L371.04,586.31 L370.86,586.07 L370.72,585.82 L370.61,585.58Z" fill="none" stroke="#0d0d0d" stroke-width="1.4" stroke-linejoin="round"/><path d="M385.86,580.29 L385.95,580.63 L385.98,581.00 L385.93,581.38 L385.81,581.77 L385.62,582.17 L385.37,582.56 L385.05,582.95 L384.66,583.33 L384.22,583.69 L383.73,584.03 L383.19,584.35 L382.60,584.64 L381.99,584.91 L381.34,585.15 L380.68,585.36 L380.01,585.54 L379.33,585.69 L378.66,585.81 L378.00,585.91 L377.36,585.97 L376.75,586.00 L376.17,586.00 L375.63,585.98 L375.14,585.92 L374.71,585.84 L374.33,585.73 L374.01,585.59 L373.75,585.43 L373.56,585.23 L373.44,585.01 L373.38,584.77 L373.40,584.50 L373.48,584.20 L373.63,583.89 L373.84,583.55 L374.11,583.20 L374.44,582.84 L374.82,582.46 L375.25,582.08 L375.73,581.70 L376.25,581.32 L376.80,580.95 L377.39,580.59 L377.99,580.25 L378.62,579.94 L379.25,579.66 L379.89,579.41 L380.53,579.20 L381.16,579.03 L381.78,578.91 L382.38,578.84 L382.95,578.81 L383.48,578.84 L383.98,578.91 L384.43,579.04 L384.84,579.21 L385.18,579.42 L385.47,579.68 L385.70,579.97Z" fill="none" stroke="#0d0d0d" stroke-width="1.4" stroke-linejoin="round"/><path d="M387.54,579.65 L387.70,580.18 L387.76,580.74 L387.74,581.32 L387.62,581.90 L387.41,582.48 L387.11,583.05 L386.73,583.61 L386.26,584.14 L385.72,584.65 L385.11,585.12 L384.43,585.55 L383.70,585.94 L382.92,586.29 L382.10,586.60 L381.25,586.86 L380.39,587.07 L379.52,587.23 L378.65,587.36 L377.79,587.43 L376.96,587.47 L376.17,587.46 L375.41,587.41 L374.71,587.32 L374.07,587.19 L373.49,587.03 L372.98,586.82 L372.55,586.58 L372.20,586.31 L371.94,586.00 L371.76,585.65 L371.66,585.28 L371.66,584.87 L371.73,584.43 L371.90,583.96 L372.14,583.48 L372.46,582.97 L372.86,582.44 L373.32,581.91 L373.85,581.37 L374.44,580.84 L375.08,580.31 L375.77,579.80 L376.50,579.31 L377.26,578.86 L378.05,578.44 L378.85,578.07 L379.67,577.76 L380.48,577.50 L381.29,577.30 L382.09,577.18 L382.86,577.12 L383.60,577.14 L384.30,577.23 L384.96,577.39 L385.56,577.62 L386.10,577.91 L386.58,578.27 L386.98,578.68 L387.30,579.14Z" fill="none" stroke="#0d0d0d" stroke-width="1.4" stroke-linejoin="round"/></g>
<rect x="358.1" y="532.3" width="61.099999999999966" height="58.0" fill="none" stroke="#0d0d0d" stroke-width="1.3"/>
<line x1="358.1" y1="590.3" x2="358.1" y2="593.3" stroke="#0d0d0d" stroke-width="0.9"/>
<line x1="362.69823318376734" y1="590.3" x2="362.69823318376734" y2="592.3" stroke="#0d0d0d" stroke-width="0.9"/>
<line x1="365.38802716584286" y1="590.3" x2="365.38802716584286" y2="592.3" stroke="#0d0d0d" stroke-width="0.9"/>
<line x1="367.29646636753466" y1="590.3" x2="367.29646636753466" y2="592.3" stroke="#0d0d0d" stroke-width="0.9"/>
<line x1="368.7767668162327" y1="590.3" x2="368.7767668162327" y2="592.3" stroke="#0d0d0d" stroke-width="0.9"/>
<line x1="369.9862603496102" y1="590.3" x2="369.9862603496102" y2="592.3" stroke="#0d0d0d" stroke-width="0.9"/>
<line x1="371.0088725612178" y1="590.3" x2="371.0088725612178" y2="592.3" stroke="#0d0d0d" stroke-width="0.9"/>
<line x1="371.8946995513019" y1="590.3" x2="371.8946995513019" y2="592.3" stroke="#0d0d0d" stroke-width="0.9"/>
<line x1="372.6760543316857" y1="590.3" x2="372.6760543316857" y2="592.3" stroke="#0d0d0d" stroke-width="0.9"/>
<line x1="373.375" y1="590.3" x2="373.375" y2="593.3" stroke="#0d0d0d" stroke-width="0.9"/>
<line x1="377.9732331837673" y1="590.3" x2="377.9732331837673" y2="592.3" stroke="#0d0d0d" stroke-width="0.9"/>
<line x1="380.66302716584283" y1="590.3" x2="380.66302716584283" y2="592.3" stroke="#0d0d0d" stroke-width="0.9"/>
<line x1="382.57146636753464" y1="590.3" x2="382.57146636753464" y2="592.3" stroke="#0d0d0d" stroke-width="0.9"/>
<line x1="384.05176681623266" y1="590.3" x2="384.05176681623266" y2="592.3" stroke="#0d0d0d" stroke-width="0.9"/>
<line x1="385.26126034961015" y1="590.3" x2="385.26126034961015" y2="592.3" stroke="#0d0d0d" stroke-width="0.9"/>
<line x1="386.2838725612178" y1="590.3" x2="386.2838725612178" y2="592.3" stroke="#0d0d0d" stroke-width="0.9"/>
<line x1="387.1696995513019" y1="590.3" x2="387.1696995513019" y2="592.3" stroke="#0d0d0d" stroke-width="0.9"/>
<line x1="387.95105433168567" y1="590.3" x2="387.95105433168567" y2="592.3" stroke="#0d0d0d" stroke-width="0.9"/>
<line x1="388.65" y1="590.3" x2="388.65" y2="593.3" stroke="#0d0d0d" stroke-width="0.9"/>
<line x1="393.2482331837673" y1="590.3" x2="393.2482331837673" y2="592.3" stroke="#0d0d0d" stroke-width="0.9"/>
<line x1="395.9380271658428" y1="590.3" x2="395.9380271658428" y2="592.3" stroke="#0d0d0d" stroke-width="0.9"/>
<line x1="397.8464663675346" y1="590.3" x2="397.8464663675346" y2="592.3" stroke="#0d0d0d" stroke-width="0.9"/>
<line x1="399.32676681623263" y1="590.3" x2="399.32676681623263" y2="592.3" stroke="#0d0d0d" stroke-width="0.9"/>
<line x1="400.53626034961013" y1="590.3" x2="400.53626034961013" y2="592.3" stroke="#0d0d0d" stroke-width="0.9"/>
<line x1="401.55887256121775" y1="590.3" x2="401.55887256121775" y2="592.3" stroke="#0d0d0d" stroke-width="0.9"/>
<line x1="402.4446995513019" y1="590.3" x2="402.4446995513019" y2="592.3" stroke="#0d0d0d" stroke-width="0.9"/>
<line x1="403.22605433168565" y1="590.3" x2="403.22605433168565" y2="592.3" stroke="#0d0d0d" stroke-width="0.9"/>
<line x1="403.925" y1="590.3" x2="403.925" y2="593.3" stroke="#0d0d0d" stroke-width="0.9"/>
<line x1="408.52323318376733" y1="590.3" x2="408.52323318376733" y2="592.3" stroke="#0d0d0d" stroke-width="0.9"/>
<line x1="411.21302716584285" y1="590.3" x2="411.21302716584285" y2="592.3" stroke="#0d0d0d" stroke-width="0.9"/>
<line x1="413.12146636753465" y1="590.3" x2="413.12146636753465" y2="592.3" stroke="#0d0d0d" stroke-width="0.9"/>
<line x1="414.60176681623267" y1="590.3" x2="414.60176681623267" y2="592.3" stroke="#0d0d0d" stroke-width="0.9"/>
<line x1="415.81126034961017" y1="590.3" x2="415.81126034961017" y2="592.3" stroke="#0d0d0d" stroke-width="0.9"/>
<line x1="416.8338725612178" y1="590.3" x2="416.8338725612178" y2="592.3" stroke="#0d0d0d" stroke-width="0.9"/>
<line x1="417.7196995513019" y1="590.3" x2="417.7196995513019" y2="592.3" stroke="#0d0d0d" stroke-width="0.9"/>
<line x1="418.5010543316857" y1="590.3" x2="418.5010543316857" y2="592.3" stroke="#0d0d0d" stroke-width="0.9"/>
<line x1="355.1" y1="590.3" x2="358.1" y2="590.3" stroke="#0d0d0d" stroke-width="0.9"/>
<line x1="356.1" y1="585.9350650628722" x2="358.1" y2="585.9350650628722" stroke="#0d0d0d" stroke-width="0.9"/>
<line x1="356.1" y1="583.3817418065648" x2="358.1" y2="583.3817418065648" stroke="#0d0d0d" stroke-width="0.9"/>
<line x1="356.1" y1="581.5701301257445" x2="358.1" y2="581.5701301257445" stroke="#0d0d0d" stroke-width="0.9"/>
<line x1="356.1" y1="580.1649349371277" x2="358.1" y2="580.1649349371277" stroke="#0d0d0d" stroke-width="0.9"/>
<line x1="356.1" y1="579.0168068694371" x2="358.1" y2="579.0168068694371" stroke="#0d0d0d" stroke-width="0.9"/>
<line x1="356.1" y1="578.0460784197933" x2="358.1" y2="578.0460784197933" stroke="#0d0d0d" stroke-width="0.9"/>
<line x1="356.1" y1="577.2051951886168" x2="358.1" y2="577.2051951886168" stroke="#0d0d0d" stroke-width="0.9"/>
<line x1="356.1" y1="576.4634836131297" x2="358.1" y2="576.4634836131297" stroke="#0d0d0d" stroke-width="0.9"/>
<line x1="355.1" y1="575.8" x2="358.1" y2="575.8" stroke="#0d0d0d" stroke-width="0.9"/>
<line x1="356.1" y1="571.4350650628722" x2="358.1" y2="571.4350650628722" stroke="#0d0d0d" stroke-width="0.9"/>
<line x1="356.1" y1="568.8817418065648" x2="358.1" y2="568.8817418065648" stroke="#0d0d0d" stroke-width="0.9"/>
<line x1="356.1" y1="567.0701301257445" x2="358.1" y2="567.0701301257445" stroke="#0d0d0d" stroke-width="0.9"/>
<line x1="356.1" y1="565.6649349371277" x2="358.1" y2="565.6649349371277" stroke="#0d0d0d" stroke-width="0.9"/>
<line x1="356.1" y1="564.5168068694371" x2="358.1" y2="564.5168068694371" stroke="#0d0d0d" stroke-width="0.9"/>
<line x1="356.1" y1="563.5460784197933" x2="358.1" y2="563.5460784197933" stroke="#0d0d0d" stroke-width="0.9"/>
<line x1="356.1" y1="562.7051951886168" x2="358.1" y2="562.7051951886168" stroke="#0d0d0d" stroke-width="0.9"/>
<line x1="356.1" y1="561.9634836131297" x2="358.1" y2="561.9634836131297" stroke="#0d0d0d" stroke-width="0.9"/>
<line x1="355.1" y1="561.3" x2="358.1" y2="561.3" stroke="#0d0d0d" stroke-width="0.9"/>
<line x1="356.1" y1="556.9350650628722" x2="358.1" y2="556.9350650628722" stroke="#0d0d0d" stroke-width="0.9"/>
<line x1="356.1" y1="554.3817418065648" x2="358.1" y2="554.3817418065648" stroke="#0d0d0d" stroke-width="0.9"/>
<line x1="356.1" y1="552.5701301257445" x2="358.1" y2="552.5701301257445" stroke="#0d0d0d" stroke-width="0.9"/>
<line x1="356.1" y1="551.1649349371277" x2="358.1" y2="551.1649349371277" stroke="#0d0d0d" stroke-width="0.9"/>
<line x1="356.1" y1="550.0168068694371" x2="358.1" y2="550.0168068694371" stroke="#0d0d0d" stroke-width="0.9"/>
<line x1="356.1" y1="549.0460784197933" x2="358.1" y2="549.0460784197933" stroke="#0d0d0d" stroke-width="0.9"/>
<line x1="356.1" y1="548.2051951886168" x2="358.1" y2="548.2051951886168" stroke="#0d0d0d" stroke-width="0.9"/>
<line x1="356.1" y1="547.4634836131297" x2="358.1" y2="547.4634836131297" stroke="#0d0d0d" stroke-width="0.9"/>
<line x1="355.1" y1="546.8" x2="358.1" y2="546.8" stroke="#0d0d0d" stroke-width="0.9"/>
<line x1="356.1" y1="542.4350650628722" x2="358.1" y2="542.4350650628722" stroke="#0d0d0d" stroke-width="0.9"/>
<line x1="356.1" y1="539.8817418065648" x2="358.1" y2="539.8817418065648" stroke="#0d0d0d" stroke-width="0.9"/>
<line x1="356.1" y1="538.0701301257445" x2="358.1" y2="538.0701301257445" stroke="#0d0d0d" stroke-width="0.9"/>
<line x1="356.1" y1="536.6649349371277" x2="358.1" y2="536.6649349371277" stroke="#0d0d0d" stroke-width="0.9"/>
<line x1="356.1" y1="535.5168068694371" x2="358.1" y2="535.5168068694371" stroke="#0d0d0d" stroke-width="0.9"/>
<line x1="356.1" y1="534.5460784197933" x2="358.1" y2="534.5460784197933" stroke="#0d0d0d" stroke-width="0.9"/>
<line x1="356.1" y1="533.7051951886168" x2="358.1" y2="533.7051951886168" stroke="#0d0d0d" stroke-width="0.9"/>
<line x1="356.1" y1="532.9634836131297" x2="358.1" y2="532.9634836131297" stroke="#0d0d0d" stroke-width="0.9"/>
<text x="361.40000000000003" y="544.6" font-family="'Liberation Serif', serif" font-size="13" font-weight="bold" text-anchor="start" fill="#0d0d0d" textLength="18.8" lengthAdjust="spacingAndGlyphs" >400</text>
<g clip-path="url(#cb5)"><path d="M436.11,586.49 L436.10,586.18 L436.24,585.85 L436.50,585.52 L436.86,585.18 L437.27,584.85 L437.69,584.52 L438.09,584.17 L438.45,583.81 L438.75,583.43 L438.99,583.02 L439.20,582.59 L439.38,582.14 L439.56,581.69 L439.78,581.24 L440.05,580.80 L440.35,580.39 L440.69,580.00 L441.05,579.63 L441.40,579.26 L441.74,578.88 L442.06,578.48 L442.38,578.06 L442.69,577.61 L443.01,577.15 L443.35,576.68 L443.71,576.21 L444.09,575.75 L444.49,575.29 L444.90,574.84 L445.33,574.37 L445.77,573.88 L446.21,573.35 L446.67,572.79 L447.15,572.18 L447.65,571.55 L448.18,570.93 L448.75,570.35 L449.35,569.82 L449.96,569.38 L450.59,569.03 L451.22,568.76 L451.85,568.57 L452.46,568.42 L453.07,568.28 L453.69,568.12 L454.31,567.92 L454.95,567.67 L455.61,567.36 L456.30,567.01 L457.04,566.64 L457.80,566.27 L458.58,565.92 L459.35,565.61 L460.10,565.34 L460.83,565.10 L461.54,564.89 L462.22,564.69 L462.88,564.49 L463.51,564.29 L464.12,564.07 L464.70,563.83 L465.26,563.59 L465.79,563.35 L466.29,563.14 L466.75,562.95 L467.18,562.81 L467.58,562.69 L467.97,562.59 L468.36,562.51 L468.77,562.42 L469.21,562.32 L469.69,562.21 L470.20,562.10 L470.73,561.99 L471.25,561.90 L471.75,561.87 L472.20,561.89 L472.59,562.00 L472.92,562.19 L473.18,562.46 L473.38,562.79 L473.55,563.15 L473.71,563.53 L473.88,563.91 L474.08,564.27 L474.31,564.62 L474.57,564.96 L474.86,565.29 L475.16,565.63 L475.47,565.97 L475.75,566.34 L476.02,566.73 L476.26,567.14 L476.49,567.55 L476.70,567.97 L476.93,568.38 L477.18,568.77 L477.48,569.17 L477.81,569.58 L478.15,569.99 L478.49,570.40 L478.80,570.83 L479.05,571.28 L479.24,571.74 L479.35,572.21 L479.40,572.68 L479.38,573.12 L479.32,573.54 L479.24,573.91 L479.16,574.24 L479.10,574.54 L479.05,574.80 L478.99,575.04 L478.89,575.28 L478.73,575.53 L478.49,575.80 L478.14,576.10 L477.69,576.43 L477.14,576.80 L476.52,577.19 L475.83,577.60 L475.12,578.01 L474.39,578.41 L473.67,578.80 L472.97,579.17 L472.30,579.53 L471.64,579.89 L470.98,580.24 L470.31,580.60 L469.62,580.96 L468.91,581.33 L468.20,581.70 L467.48,582.09 L466.76,582.48 L466.04,582.89 L465.35,583.29 L464.67,583.70 L464.00,584.11 L463.33,584.52 L462.62,584.93 L461.87,585.34 L461.06,585.74 L460.18,586.13 L459.25,586.50 L458.26,586.84 L457.24,587.18 L456.22,587.51 L455.23,587.82 L454.29,588.12 L453.41,588.43 L452.57,588.76 L451.75,589.12 L450.90,589.49 L449.99,589.84 L449.04,590.09 L448.12,590.21 L447.29,590.20 L446.55,590.11 L445.92,589.98 L445.34,589.84 L444.81,589.72 L444.28,589.61 L443.75,589.51 L443.20,589.43 L442.64,589.35 L442.09,589.26 L441.55,589.17 L441.05,589.06 L440.57,588.93 L440.10,588.79 L439.65,588.62 L439.20,588.45 L438.75,588.26 L438.28,588.06 L437.81,587.84 L437.35,587.61 L436.92,587.36 L436.55,587.09 L436.27,586.80Z" fill="none" stroke="#0d0d0d" stroke-width="1.4" stroke-linejoin="round"/><path d="M439.13,586.52 L439.26,586.29 L439.39,586.04 L439.52,585.79 L439.62,585.52 L439.71,585.23 L439.79,584.92 L439.88,584.58 L440.00,584.24 L440.17,583.88 L440.37,583.53 L440.62,583.19 L440.88,582.86 L441.15,582.54 L441.41,582.22 L441.66,581.89 L441.89,581.53 L442.08,581.15 L442.26,580.73 L442.42,580.29 L442.59,579.83 L442.79,579.37 L443.02,578.92 L443.28,578.50 L443.58,578.10 L443.91,577.72 L444.26,577.35 L444.61,576.98 L444.98,576.60 L445.35,576.20 L445.72,575.80 L446.11,575.39 L446.52,575.00 L446.94,574.65 L447.38,574.34 L447.83,574.08 L448.28,573.88 L448.74,573.71 L449.20,573.56 L449.67,573.40 L450.14,573.20 L450.63,572.95 L451.14,572.63 L451.67,572.24 L452.23,571.81 L452.82,571.35 L453.42,570.90 L454.03,570.46 L454.63,570.07 L455.24,569.74 L455.86,569.45 L456.49,569.21 L457.11,568.99 L457.74,568.78 L458.37,568.58 L459.00,568.36 L459.63,568.13 L460.25,567.89 L460.85,567.65 L461.43,567.43 L461.95,567.23 L462.43,567.07 L462.86,566.92 L463.26,566.80 L463.62,566.70 L463.97,566.60 L464.32,566.49 L464.67,566.38 L465.02,566.27 L465.39,566.16 L465.75,566.06 L466.11,566.00 L466.44,565.99 L466.75,566.03 L467.02,566.13 L467.26,566.28 L467.46,566.47 L467.66,566.67 L467.86,566.88 L468.08,567.07 L468.35,567.23 L468.65,567.35 L469.00,567.45 L469.38,567.53 L469.78,567.60 L470.18,567.70 L470.56,567.84 L470.91,568.03 L471.21,568.26 L471.48,568.55 L471.71,568.87 L471.91,569.22 L472.11,569.58 L472.30,569.94 L472.50,570.29 L472.70,570.64 L472.90,570.98 L473.10,571.33 L473.30,571.71 L473.49,572.11 L473.65,572.53 L473.78,572.97 L473.89,573.41 L473.98,573.85 L474.07,574.26 L474.16,574.65 L474.25,575.01 L474.34,575.34 L474.39,575.64 L474.41,575.92 L474.39,576.18 L474.30,576.45 L474.13,576.72 L473.88,577.00 L473.56,577.28 L473.19,577.58 L472.78,577.87 L472.38,578.16 L471.98,578.44 L471.63,578.70 L471.31,578.96 L471.02,579.20 L470.73,579.44 L470.43,579.68 L470.10,579.92 L469.72,580.17 L469.28,580.44 L468.78,580.73 L468.23,581.03 L467.64,581.34 L467.03,581.66 L466.41,581.98 L465.80,582.31 L465.18,582.64 L464.54,582.99 L463.88,583.35 L463.19,583.73 L462.46,584.11 L461.68,584.49 L460.86,584.87 L460.02,585.25 L459.17,585.60 L458.34,585.94 L457.55,586.24 L456.80,586.52 L456.10,586.79 L455.43,587.06 L454.77,587.33 L454.11,587.61 L453.43,587.89 L452.71,588.16 L451.95,588.41 L451.15,588.62 L450.35,588.76 L449.59,588.84 L448.92,588.87 L448.33,588.90 L447.78,588.95 L447.21,589.04 L446.62,589.14 L445.98,589.23 L445.32,589.31 L444.66,589.35 L444.02,589.35 L443.42,589.32 L442.87,589.25 L442.37,589.15 L441.92,589.03 L441.52,588.91 L441.13,588.77 L440.75,588.62 L440.38,588.46 L440.03,588.29 L439.70,588.10 L439.42,587.90 L439.20,587.69 L439.05,587.46 L438.98,587.23 L438.98,586.99 L439.04,586.76Z" fill="none" stroke="#0d0d0d" stroke-width="1.4" stroke-linejoin="round"/><path d="M440.76,586.54 L440.75,586.34 L440.75,586.13 L440.77,585.90 L440.80,585.66 L440.88,585.41 L441.00,585.15 L441.18,584.88 L441.41,584.62 L441.68,584.37 L441.96,584.12 L442.23,583.87 L442.47,583.63 L442.67,583.36 L442.83,583.08 L442.97,582.77 L443.09,582.43 L443.19,582.07 L443.31,581.70 L443.44,581.32 L443.60,580.95 L443.78,580.59 L443.99,580.25 L444.22,579.91 L444.46,579.57 L444.72,579.22 L444.98,578.86 L445.25,578.48 L445.53,578.10 L445.84,577.73 L446.16,577.38 L446.50,577.07 L446.86,576.82 L447.23,576.61 L447.61,576.45 L447.98,576.32 L448.36,576.20 L448.73,576.07 L449.11,575.89 L449.50,575.67 L449.91,575.39 L450.33,575.07 L450.77,574.72 L451.23,574.36 L451.71,574.01 L452.19,573.69 L452.66,573.40 L453.14,573.16 L453.60,572.94 L454.08,572.75 L454.57,572.56 L455.08,572.36 L455.60,572.15 L456.15,571.93 L456.70,571.69 L457.26,571.45 L457.80,571.21 L458.33,571.00 L458.83,570.81 L459.29,570.64 L459.72,570.51 L460.10,570.38 L460.46,570.26 L460.82,570.13 L461.16,569.99 L461.50,569.84 L461.84,569.69 L462.18,569.54 L462.49,569.42 L462.79,569.34 L463.05,569.31 L463.29,569.34 L463.49,569.42 L463.68,569.54 L463.84,569.69 L464.00,569.85 L464.17,570.01 L464.36,570.14 L464.59,570.25 L464.85,570.33 L465.14,570.39 L465.46,570.44 L465.78,570.50 L466.09,570.57 L466.38,570.67 L466.65,570.81 L466.89,570.99 L467.11,571.21 L467.31,571.45 L467.51,571.70 L467.71,571.96 L467.91,572.22 L468.12,572.48 L468.33,572.74 L468.53,573.01 L468.72,573.29 L468.88,573.58 L469.02,573.89 L469.16,574.22 L469.28,574.57 L469.41,574.92 L469.54,575.28 L469.68,575.62 L469.84,575.94 L470.00,576.24 L470.16,576.53 L470.30,576.81 L470.39,577.08 L470.40,577.34 L470.35,577.61 L470.21,577.88 L470.01,578.15 L469.75,578.42 L469.46,578.69 L469.14,578.94 L468.83,579.19 L468.55,579.41 L468.29,579.62 L468.06,579.82 L467.85,580.01 L467.65,580.20 L467.44,580.39 L467.18,580.60 L466.89,580.81 L466.54,581.03 L466.15,581.26 L465.73,581.51 L465.29,581.75 L464.83,582.00 L464.38,582.25 L463.92,582.50 L463.46,582.75 L462.99,583.02 L462.49,583.29 L461.96,583.58 L461.37,583.89 L460.75,584.21 L460.08,584.54 L459.40,584.86 L458.72,585.18 L458.05,585.48 L457.42,585.77 L456.83,586.04 L456.27,586.30 L455.75,586.54 L455.22,586.77 L454.66,587.01 L454.07,587.25 L453.42,587.49 L452.72,587.70 L451.99,587.89 L451.25,588.03 L450.53,588.11 L449.88,588.15 L449.33,588.18 L448.86,588.24 L448.42,588.35 L447.96,588.49 L447.46,588.64 L446.92,588.77 L446.37,588.85 L445.83,588.90 L445.31,588.91 L444.82,588.89 L444.36,588.84 L443.93,588.77 L443.51,588.69 L443.11,588.61 L442.72,588.53 L442.33,588.43 L441.97,588.32 L441.63,588.19 L441.34,588.04 L441.11,587.87 L440.94,587.69 L440.83,587.50 L440.77,587.31 L440.75,587.12 L440.75,586.92 L440.76,586.73Z" fill="none" stroke="#0d0d0d" stroke-width="1.4" stroke-linejoin="round"/><path d="M441.64,586.55 L441.66,586.37 L441.77,586.19 L441.95,586.01 L442.18,585.83 L442.45,585.65 L442.74,585.48 L443.00,585.30 L443.24,585.12 L443.42,584.93 L443.56,584.71 L443.66,584.48 L443.72,584.23 L443.76,583.95 L443.81,583.67 L443.88,583.38 L443.98,583.09 L444.10,582.81 L444.24,582.54 L444.39,582.27 L444.55,582.00 L444.71,581.73 L444.88,581.45 L445.06,581.16 L445.24,580.87 L445.45,580.58 L445.67,580.30 L445.91,580.04 L446.16,579.79 L446.43,579.57 L446.70,579.35 L446.98,579.14 L447.26,578.93 L447.54,578.69 L447.82,578.44 L448.11,578.16 L448.41,577.88 L448.73,577.60 L449.06,577.33 L449.40,577.10 L449.75,576.90 L450.09,576.75 L450.44,576.63 L450.78,576.54 L451.12,576.46 L451.46,576.37 L451.81,576.26 L452.17,576.11 L452.54,575.92 L452.94,575.69 L453.37,575.44 L453.82,575.17 L454.29,574.91 L454.76,574.65 L455.24,574.42 L455.69,574.22 L456.14,574.03 L456.56,573.87 L456.97,573.72 L457.35,573.57 L457.71,573.43 L458.06,573.29 L458.38,573.16 L458.68,573.03 L458.96,572.92 L459.22,572.84 L459.44,572.78 L459.64,572.76 L459.82,572.76 L459.99,572.78 L460.16,572.80 L460.35,572.82 L460.56,572.83 L460.78,572.84 L461.03,572.83 L461.29,572.82 L461.55,572.82 L461.80,572.84 L462.03,572.89 L462.23,572.97 L462.40,573.09 L462.55,573.25 L462.67,573.43 L462.79,573.62 L462.91,573.81 L463.04,573.99 L463.19,574.17 L463.37,574.34 L463.57,574.49 L463.79,574.65 L464.01,574.81 L464.23,574.98 L464.43,575.16 L464.62,575.36 L464.80,575.58 L464.96,575.79 L465.11,576.02 L465.26,576.24 L465.43,576.48 L465.61,576.72 L465.79,576.97 L465.97,577.22 L466.12,577.49 L466.24,577.76 L466.31,578.04 L466.32,578.34 L466.29,578.63 L466.21,578.92 L466.10,579.19 L465.96,579.44 L465.83,579.66 L465.71,579.86 L465.61,580.03 L465.53,580.19 L465.45,580.33 L465.35,580.47 L465.24,580.61 L465.08,580.76 L464.88,580.93 L464.64,581.12 L464.35,581.32 L464.03,581.53 L463.68,581.74 L463.32,581.95 L462.96,582.15 L462.61,582.35 L462.27,582.55 L461.94,582.73 L461.61,582.92 L461.28,583.11 L460.93,583.31 L460.56,583.51 L460.18,583.72 L459.78,583.95 L459.36,584.18 L458.93,584.42 L458.50,584.66 L458.08,584.91 L457.65,585.15 L457.22,585.40 L456.78,585.64 L456.31,585.88 L455.81,586.12 L455.26,586.34 L454.68,586.55 L454.06,586.75 L453.42,586.93 L452.76,587.10 L452.13,587.25 L451.53,587.38 L450.98,587.50 L450.49,587.61 L450.06,587.73 L449.66,587.87 L449.27,588.04 L448.85,588.21 L448.42,588.35 L447.98,588.45 L447.55,588.49 L447.14,588.50 L446.76,588.48 L446.40,588.45 L446.04,588.42 L445.69,588.38 L445.33,588.34 L444.96,588.30 L444.61,588.25 L444.27,588.20 L443.96,588.13 L443.67,588.05 L443.41,587.95 L443.17,587.85 L442.94,587.73 L442.73,587.60 L442.53,587.47 L442.33,587.33 L442.14,587.19 L441.96,587.04 L441.80,586.88 L441.69,586.72Z" fill="none" stroke="#0d0d0d" stroke-width="1.4" stroke-linejoin="round"/><path d="M454.06,580.89 L454.16,581.22 L454.19,581.57 L454.18,581.93 L454.10,582.29 L453.98,582.65 L453.79,583.00 L453.55,583.35 L453.27,583.67 L452.93,583.98 L452.55,584.27 L452.14,584.54 L451.68,584.78 L451.20,584.99 L450.70,585.17 L450.18,585.32 L449.64,585.45 L449.11,585.55 L448.57,585.62 L448.05,585.66 L447.54,585.67 L447.05,585.66 L446.58,585.63 L446.15,585.57 L445.76,585.48 L445.40,585.37 L445.09,585.24 L444.83,585.09 L444.61,584.92 L444.45,584.72 L444.34,584.51 L444.28,584.27 L444.28,584.02 L444.33,583.75 L444.43,583.46 L444.58,583.16 L444.78,582.85 L445.02,582.52 L445.31,582.20 L445.64,581.87 L446.00,581.54 L446.40,581.21 L446.82,580.90 L447.27,580.61 L447.74,580.33 L448.22,580.08 L448.72,579.85 L449.22,579.66 L449.72,579.51 L450.22,579.39 L450.71,579.32 L451.18,579.29 L451.64,579.30 L452.07,579.36 L452.48,579.47 L452.85,579.62 L453.18,579.80 L453.47,580.03 L453.72,580.29 L453.92,580.58Z" fill="none" stroke="#0d0d0d" stroke-width="1.4" stroke-linejoin="round"/><path d="M455.75,580.26 L455.90,580.78 L455.98,581.32 L455.98,581.87 L455.91,582.43 L455.76,582.97 L455.53,583.51 L455.23,584.02 L454.86,584.50 L454.42,584.96 L453.92,585.37 L453.37,585.75 L452.76,586.09 L452.12,586.38 L451.44,586.62 L450.73,586.82 L450.01,586.98 L449.28,587.09 L448.55,587.16 L447.84,587.18 L447.13,587.17 L446.46,587.12 L445.82,587.03 L445.22,586.90 L444.67,586.74 L444.18,586.55 L443.74,586.33 L443.36,586.07 L443.06,585.79 L442.82,585.48 L442.65,585.14 L442.55,584.77 L442.53,584.38 L442.58,583.96 L442.70,583.52 L442.88,583.07 L443.13,582.60 L443.44,582.12 L443.81,581.64 L444.24,581.15 L444.72,580.67 L445.24,580.20 L445.80,579.75 L446.39,579.32 L447.02,578.93 L447.67,578.58 L448.33,578.27 L449.00,578.01 L449.68,577.81 L450.36,577.67 L451.03,577.59 L451.68,577.58 L452.30,577.64 L452.90,577.76 L453.47,577.95 L453.99,578.21 L454.46,578.52 L454.87,578.89 L455.23,579.31 L455.52,579.77Z" fill="none" stroke="#0d0d0d" stroke-width="1.4" stroke-linejoin="round"/></g>
<rect x="430.7" y="532.3" width="61.19999999999999" height="58.0" fill="none" stroke="#0d0d0d" stroke-width="1.3"/>
<line x1="430.7" y1="590.3" x2="430.7" y2="593.3" stroke="#0d0d0d" stroke-width="0.9"/>
<line x1="435.3057589336589" y1="590.3" x2="435.3057589336589" y2="592.3" stroke="#0d0d0d" stroke-width="0.9"/>
<line x1="437.9999551972108" y1="590.3" x2="437.9999551972108" y2="592.3" stroke="#0d0d0d" stroke-width="0.9"/>
<line x1="439.9115178673178" y1="590.3" x2="439.9115178673178" y2="592.3" stroke="#0d0d0d" stroke-width="0.9"/>
<line x1="441.39424106634107" y1="590.3" x2="441.39424106634107" y2="592.3" stroke="#0d0d0d" stroke-width="0.9"/>
<line x1="442.6057141308697" y1="590.3" x2="442.6057141308697" y2="592.3" stroke="#0d0d0d" stroke-width="0.9"/>
<line x1="443.6300000122181" y1="590.3" x2="443.6300000122181" y2="592.3" stroke="#0d0d0d" stroke-width="0.9"/>
<line x1="444.51727680097673" y1="590.3" x2="444.51727680097673" y2="592.3" stroke="#0d0d0d" stroke-width="0.9"/>
<line x1="445.29991039442166" y1="590.3" x2="445.29991039442166" y2="592.3" stroke="#0d0d0d" stroke-width="0.9"/>
<line x1="446.0" y1="590.3" x2="446.0" y2="593.3" stroke="#0d0d0d" stroke-width="0.9"/>
<line x1="450.60575893365893" y1="590.3" x2="450.60575893365893" y2="592.3" stroke="#0d0d0d" stroke-width="0.9"/>
<line x1="453.2999551972108" y1="590.3" x2="453.2999551972108" y2="592.3" stroke="#0d0d0d" stroke-width="0.9"/>
<line x1="455.2115178673178" y1="590.3" x2="455.2115178673178" y2="592.3" stroke="#0d0d0d" stroke-width="0.9"/>
<line x1="456.6942410663411" y1="590.3" x2="456.6942410663411" y2="592.3" stroke="#0d0d0d" stroke-width="0.9"/>
<line x1="457.90571413086974" y1="590.3" x2="457.90571413086974" y2="592.3" stroke="#0d0d0d" stroke-width="0.9"/>
<line x1="458.9300000122181" y1="590.3" x2="458.9300000122181" y2="592.3" stroke="#0d0d0d" stroke-width="0.9"/>
<line x1="459.81727680097674" y1="590.3" x2="459.81727680097674" y2="592.3" stroke="#0d0d0d" stroke-width="0.9"/>
<line x1="460.59991039442167" y1="590.3" x2="460.59991039442167" y2="592.3" stroke="#0d0d0d" stroke-width="0.9"/>
<line x1="461.29999999999995" y1="590.3" x2="461.29999999999995" y2="593.3" stroke="#0d0d0d" stroke-width="0.9"/>
<line x1="465.9057589336589" y1="590.3" x2="465.9057589336589" y2="592.3" stroke="#0d0d0d" stroke-width="0.9"/>
<line x1="468.59995519721076" y1="590.3" x2="468.59995519721076" y2="592.3" stroke="#0d0d0d" stroke-width="0.9"/>
<line x1="470.51151786731776" y1="590.3" x2="470.51151786731776" y2="592.3" stroke="#0d0d0d" stroke-width="0.9"/>
<line x1="471.99424106634103" y1="590.3" x2="471.99424106634103" y2="592.3" stroke="#0d0d0d" stroke-width="0.9"/>
<line x1="473.2057141308697" y1="590.3" x2="473.2057141308697" y2="592.3" stroke="#0d0d0d" stroke-width="0.9"/>
<line x1="474.23000001221806" y1="590.3" x2="474.23000001221806" y2="592.3" stroke="#0d0d0d" stroke-width="0.9"/>
<line x1="475.1172768009767" y1="590.3" x2="475.1172768009767" y2="592.3" stroke="#0d0d0d" stroke-width="0.9"/>
<line x1="475.8999103944216" y1="590.3" x2="475.8999103944216" y2="592.3" stroke="#0d0d0d" stroke-width="0.9"/>
<line x1="476.59999999999997" y1="590.3" x2="476.59999999999997" y2="593.3" stroke="#0d0d0d" stroke-width="0.9"/>
<line x1="481.2057589336589" y1="590.3" x2="481.2057589336589" y2="592.3" stroke="#0d0d0d" stroke-width="0.9"/>
<line x1="483.8999551972108" y1="590.3" x2="483.8999551972108" y2="592.3" stroke="#0d0d0d" stroke-width="0.9"/>
<line x1="485.8115178673178" y1="590.3" x2="485.8115178673178" y2="592.3" stroke="#0d0d0d" stroke-width="0.9"/>
<line x1="487.29424106634104" y1="590.3" x2="487.29424106634104" y2="592.3" stroke="#0d0d0d" stroke-width="0.9"/>
<line x1="488.5057141308697" y1="590.3" x2="488.5057141308697" y2="592.3" stroke="#0d0d0d" stroke-width="0.9"/>
<line x1="489.53000001221807" y1="590.3" x2="489.53000001221807" y2="592.3" stroke="#0d0d0d" stroke-width="0.9"/>
<line x1="490.4172768009767" y1="590.3" x2="490.4172768009767" y2="592.3" stroke="#0d0d0d" stroke-width="0.9"/>
<line x1="491.19991039442164" y1="590.3" x2="491.19991039442164" y2="592.3" stroke="#0d0d0d" stroke-width="0.9"/>
<line x1="427.7" y1="590.3" x2="430.7" y2="590.3" stroke="#0d0d0d" stroke-width="0.9"/>
<line x1="428.7" y1="585.9350650628722" x2="430.7" y2="585.9350650628722" stroke="#0d0d0d" stroke-width="0.9"/>
<line x1="428.7" y1="583.3817418065648" x2="430.7" y2="583.3817418065648" stroke="#0d0d0d" stroke-width="0.9"/>
<line x1="428.7" y1="581.5701301257445" x2="430.7" y2="581.5701301257445" stroke="#0d0d0d" stroke-width="0.9"/>
<line x1="428.7" y1="580.1649349371277" x2="430.7" y2="580.1649349371277" stroke="#0d0d0d" stroke-width="0.9"/>
<line x1="428.7" y1="579.0168068694371" x2="430.7" y2="579.0168068694371" stroke="#0d0d0d" stroke-width="0.9"/>
<line x1="428.7" y1="578.0460784197933" x2="430.7" y2="578.0460784197933" stroke="#0d0d0d" stroke-width="0.9"/>
<line x1="428.7" y1="577.2051951886168" x2="430.7" y2="577.2051951886168" stroke="#0d0d0d" stroke-width="0.9"/>
<line x1="428.7" y1="576.4634836131297" x2="430.7" y2="576.4634836131297" stroke="#0d0d0d" stroke-width="0.9"/>
<line x1="427.7" y1="575.8" x2="430.7" y2="575.8" stroke="#0d0d0d" stroke-width="0.9"/>
<line x1="428.7" y1="571.4350650628722" x2="430.7" y2="571.4350650628722" stroke="#0d0d0d" stroke-width="0.9"/>
<line x1="428.7" y1="568.8817418065648" x2="430.7" y2="568.8817418065648" stroke="#0d0d0d" stroke-width="0.9"/>
<line x1="428.7" y1="567.0701301257445" x2="430.7" y2="567.0701301257445" stroke="#0d0d0d" stroke-width="0.9"/>
<line x1="428.7" y1="565.6649349371277" x2="430.7" y2="565.6649349371277" stroke="#0d0d0d" stroke-width="0.9"/>
<line x1="428.7" y1="564.5168068694371" x2="430.7" y2="564.5168068694371" stroke="#0d0d0d" stroke-width="0.9"/>
<line x1="428.7" y1="563.5460784197933" x2="430.7" y2="563.5460784197933" stroke="#0d0d0d" stroke-width="0.9"/>
<line x1="428.7" y1="562.7051951886168" x2="430.7" y2="562.7051951886168" stroke="#0d0d0d" stroke-width="0.9"/>
<line x1="428.7" y1="561.9634836131297" x2="430.7" y2="561.9634836131297" stroke="#0d0d0d" stroke-width="0.9"/>
<line x1="427.7" y1="561.3" x2="430.7" y2="561.3" stroke="#0d0d0d" stroke-width="0.9"/>
<line x1="428.7" y1="556.9350650628722" x2="430.7" y2="556.9350650628722" stroke="#0d0d0d" stroke-width="0.9"/>
<line x1="428.7" y1="554.3817418065648" x2="430.7" y2="554.3817418065648" stroke="#0d0d0d" stroke-width="0.9"/>
<line x1="428.7" y1="552.5701301257445" x2="430.7" y2="552.5701301257445" stroke="#0d0d0d" stroke-width="0.9"/>
<line x1="428.7" y1="551.1649349371277" x2="430.7" y2="551.1649349371277" stroke="#0d0d0d" stroke-width="0.9"/>
<line x1="428.7" y1="550.0168068694371" x2="430.7" y2="550.0168068694371" stroke="#0d0d0d" stroke-width="0.9"/>
<line x1="428.7" y1="549.0460784197933" x2="430.7" y2="549.0460784197933" stroke="#0d0d0d" stroke-width="0.9"/>
<line x1="428.7" y1="548.2051951886168" x2="430.7" y2="548.2051951886168" stroke="#0d0d0d" stroke-width="0.9"/>
<line x1="428.7" y1="547.4634836131297" x2="430.7" y2="547.4634836131297" stroke="#0d0d0d" stroke-width="0.9"/>
<line x1="427.7" y1="546.8" x2="430.7" y2="546.8" stroke="#0d0d0d" stroke-width="0.9"/>
<line x1="428.7" y1="542.4350650628722" x2="430.7" y2="542.4350650628722" stroke="#0d0d0d" stroke-width="0.9"/>
<line x1="428.7" y1="539.8817418065648" x2="430.7" y2="539.8817418065648" stroke="#0d0d0d" stroke-width="0.9"/>
<line x1="428.7" y1="538.0701301257445" x2="430.7" y2="538.0701301257445" stroke="#0d0d0d" stroke-width="0.9"/>
<line x1="428.7" y1="536.6649349371277" x2="430.7" y2="536.6649349371277" stroke="#0d0d0d" stroke-width="0.9"/>
<line x1="428.7" y1="535.5168068694371" x2="430.7" y2="535.5168068694371" stroke="#0d0d0d" stroke-width="0.9"/>
<line x1="428.7" y1="534.5460784197933" x2="430.7" y2="534.5460784197933" stroke="#0d0d0d" stroke-width="0.9"/>
<line x1="428.7" y1="533.7051951886168" x2="430.7" y2="533.7051951886168" stroke="#0d0d0d" stroke-width="0.9"/>
<line x1="428.7" y1="532.9634836131297" x2="430.7" y2="532.9634836131297" stroke="#0d0d0d" stroke-width="0.9"/>
<text x="432.8" y="544.6" font-family="'Liberation Serif', serif" font-size="13" font-weight="bold" text-anchor="start" fill="#0d0d0d" textLength="18.8" lengthAdjust="spacingAndGlyphs" >386</text>
<g clip-path="url(#cb6)"><path d="M366.22,653.53 L366.06,653.18 L365.89,652.80 L365.72,652.37 L365.58,651.92 L365.50,651.45 L365.49,650.96 L365.54,650.47 L365.65,649.99 L365.80,649.51 L365.97,649.04 L366.14,648.57 L366.31,648.10 L366.47,647.63 L366.65,647.14 L366.85,646.64 L367.07,646.14 L367.34,645.67 L367.65,645.21 L367.99,644.79 L368.35,644.39 L368.71,644.01 L369.07,643.63 L369.41,643.24 L369.72,642.83 L370.01,642.41 L370.29,641.96 L370.57,641.51 L370.87,641.08 L371.19,640.69 L371.55,640.36 L371.94,640.09 L372.36,639.88 L372.80,639.71 L373.25,639.57 L373.71,639.41 L374.16,639.20 L374.62,638.93 L375.09,638.57 L375.59,638.13 L376.10,637.63 L376.63,637.09 L377.19,636.53 L377.76,635.98 L378.35,635.47 L378.93,635.01 L379.49,634.59 L380.04,634.21 L380.55,633.85 L381.04,633.49 L381.51,633.10 L381.97,632.70 L382.41,632.28 L382.85,631.88 L383.28,631.51 L383.69,631.18 L384.10,630.93 L384.51,630.74 L384.91,630.62 L385.32,630.56 L385.75,630.53 L386.21,630.53 L386.70,630.52 L387.21,630.49 L387.77,630.44 L388.35,630.38 L388.95,630.34 L389.55,630.32 L390.14,630.35 L390.71,630.45 L391.24,630.61 L391.74,630.81 L392.20,631.05 L392.66,631.30 L393.13,631.54 L393.63,631.76 L394.17,631.93 L394.75,632.07 L395.36,632.16 L396.00,632.23 L396.66,632.30 L397.30,632.39 L397.92,632.51 L398.50,632.68 L399.02,632.88 L399.50,633.14 L399.96,633.43 L400.39,633.75 L400.82,634.09 L401.23,634.44 L401.64,634.79 L402.02,635.16 L402.38,635.54 L402.69,635.95 L402.94,636.38 L403.14,636.83 L403.27,637.29 L403.37,637.76 L403.45,638.23 L403.54,638.70 L403.66,639.13 L403.82,639.53 L404.03,639.90 L404.27,640.22 L404.54,640.52 L404.80,640.81 L405.02,641.09 L405.18,641.38 L405.25,641.68 L405.23,641.98 L405.13,642.29 L404.95,642.59 L404.74,642.89 L404.51,643.17 L404.29,643.43 L404.08,643.68 L403.90,643.90 L403.74,644.13 L403.59,644.35 L403.42,644.59 L403.23,644.85 L403.00,645.14 L402.72,645.46 L402.39,645.80 L402.03,646.15 L401.64,646.51 L401.23,646.88 L400.81,647.24 L400.37,647.61 L399.91,647.97 L399.41,648.34 L398.85,648.71 L398.20,649.08 L397.46,649.47 L396.61,649.88 L395.68,650.29 L394.69,650.71 L393.67,651.12 L392.66,651.52 L391.68,651.90 L390.76,652.26 L389.91,652.59 L389.12,652.91 L388.38,653.22 L387.66,653.51 L386.92,653.81 L386.10,654.12 L385.19,654.44 L384.21,654.75 L383.16,655.05 L382.08,655.33 L381.00,655.59 L379.94,655.81 L378.94,656.02 L378.00,656.23 L377.08,656.46 L376.16,656.67 L375.25,656.85 L374.33,656.97 L373.43,657.06 L372.58,657.10 L371.77,657.11 L371.02,657.10 L370.30,657.06 L369.61,657.02 L368.94,656.96 L368.30,656.89 L367.70,656.80 L367.15,656.69 L366.68,656.55 L366.31,656.38 L366.05,656.17 L365.91,655.93 L365.87,655.66 L365.92,655.37 L366.03,655.07 L366.16,654.77 L366.27,654.47 L366.33,654.16 L366.31,653.85Z" fill="none" stroke="#0d0d0d" stroke-width="1.4" stroke-linejoin="round"/><path d="M367.08,653.56 L367.16,653.25 L367.28,652.93 L367.43,652.60 L367.58,652.26 L367.73,651.91 L367.86,651.55 L367.97,651.18 L368.08,650.79 L368.19,650.41 L368.30,650.03 L368.44,649.65 L368.59,649.29 L368.75,648.93 L368.92,648.56 L369.08,648.17 L369.23,647.76 L369.37,647.32 L369.49,646.84 L369.60,646.34 L369.72,645.82 L369.87,645.32 L370.06,644.83 L370.29,644.40 L370.57,644.04 L370.88,643.74 L371.22,643.51 L371.58,643.32 L371.94,643.15 L372.28,642.98 L372.61,642.79 L372.93,642.56 L373.24,642.28 L373.54,641.96 L373.86,641.62 L374.19,641.26 L374.55,640.92 L374.94,640.60 L375.37,640.31 L375.82,640.05 L376.29,639.82 L376.76,639.59 L377.24,639.35 L377.72,639.10 L378.19,638.82 L378.66,638.52 L379.12,638.20 L379.57,637.88 L379.99,637.57 L380.39,637.27 L380.77,636.97 L381.13,636.68 L381.48,636.39 L381.83,636.09 L382.18,635.77 L382.54,635.42 L382.92,635.05 L383.33,634.66 L383.75,634.28 L384.20,633.93 L384.66,633.64 L385.13,633.43 L385.59,633.33 L386.04,633.32 L386.47,633.40 L386.88,633.57 L387.28,633.78 L387.67,634.01 L388.06,634.23 L388.47,634.43 L388.89,634.59 L389.34,634.72 L389.79,634.80 L390.27,634.88 L390.75,634.95 L391.24,635.04 L391.72,635.16 L392.19,635.30 L392.65,635.47 L393.09,635.65 L393.53,635.83 L393.97,636.02 L394.41,636.19 L394.86,636.36 L395.29,636.54 L395.71,636.73 L396.11,636.95 L396.48,637.21 L396.81,637.50 L397.11,637.82 L397.38,638.17 L397.63,638.52 L397.88,638.87 L398.14,639.20 L398.43,639.49 L398.75,639.76 L399.09,639.99 L399.45,640.21 L399.81,640.44 L400.15,640.68 L400.44,640.96 L400.66,641.26 L400.80,641.60 L400.87,641.97 L400.87,642.35 L400.81,642.73 L400.73,643.10 L400.64,643.44 L400.54,643.76 L400.45,644.04 L400.37,644.29 L400.30,644.52 L400.21,644.72 L400.11,644.92 L399.97,645.12 L399.81,645.33 L399.61,645.54 L399.40,645.75 L399.18,645.97 L398.97,646.20 L398.76,646.43 L398.57,646.67 L398.39,646.91 L398.20,647.17 L397.98,647.43 L397.72,647.72 L397.39,648.02 L397.00,648.33 L396.55,648.66 L396.04,649.00 L395.50,649.34 L394.95,649.66 L394.39,649.98 L393.85,650.28 L393.33,650.57 L392.82,650.87 L392.31,651.16 L391.77,651.45 L391.19,651.75 L390.55,652.06 L389.84,652.37 L389.05,652.69 L388.20,652.99 L387.30,653.29 L386.39,653.57 L385.46,653.83 L384.51,654.09 L383.58,654.33 L382.67,654.56 L381.78,654.78 L380.91,654.98 L380.07,655.15 L379.27,655.29 L378.52,655.40 L377.85,655.51 L377.22,655.65 L376.58,655.82 L375.91,655.99 L375.18,656.16 L374.41,656.31 L373.61,656.44 L372.80,656.55 L372.01,656.62 L371.26,656.65 L370.59,656.64 L370.00,656.59 L369.52,656.50 L369.14,656.38 L368.84,656.24 L368.61,656.09 L368.43,655.92 L368.25,655.74 L368.08,655.55 L367.89,655.36 L367.69,655.15 L367.49,654.93 L367.32,654.69 L367.18,654.43 L367.09,654.15 L367.06,653.86Z" fill="none" stroke="#0d0d0d" stroke-width="1.4" stroke-linejoin="round"/><path d="M369.32,653.64 L369.42,653.40 L369.51,653.15 L369.56,652.88 L369.58,652.60 L369.58,652.29 L369.56,651.97 L369.55,651.63 L369.55,651.29 L369.58,650.94 L369.64,650.59 L369.71,650.25 L369.80,649.92 L369.90,649.58 L370.00,649.24 L370.11,648.88 L370.23,648.50 L370.36,648.12 L370.51,647.75 L370.69,647.38 L370.90,647.05 L371.14,646.75 L371.41,646.49 L371.70,646.26 L371.98,646.06 L372.26,645.87 L372.53,645.67 L372.77,645.45 L372.99,645.20 L373.20,644.91 L373.41,644.61 L373.63,644.29 L373.86,643.98 L374.12,643.70 L374.40,643.46 L374.71,643.25 L375.04,643.08 L375.39,642.94 L375.76,642.81 L376.14,642.67 L376.52,642.51 L376.91,642.30 L377.29,642.06 L377.68,641.77 L378.08,641.46 L378.47,641.13 L378.86,640.80 L379.23,640.49 L379.59,640.19 L379.94,639.90 L380.26,639.60 L380.58,639.30 L380.90,638.98 L381.21,638.66 L381.52,638.33 L381.84,638.00 L382.16,637.70 L382.49,637.44 L382.81,637.24 L383.13,637.11 L383.45,637.06 L383.77,637.09 L384.09,637.17 L384.40,637.29 L384.72,637.42 L385.06,637.54 L385.41,637.63 L385.79,637.69 L386.19,637.73 L386.61,637.74 L387.04,637.75 L387.46,637.76 L387.87,637.80 L388.27,637.86 L388.65,637.97 L389.01,638.11 L389.37,638.27 L389.72,638.44 L390.07,638.61 L390.43,638.77 L390.81,638.92 L391.19,639.05 L391.58,639.17 L391.96,639.29 L392.33,639.43 L392.68,639.59 L393.01,639.78 L393.32,639.99 L393.62,640.22 L393.90,640.46 L394.19,640.70 L394.47,640.94 L394.77,641.17 L395.06,641.40 L395.35,641.62 L395.63,641.84 L395.86,642.08 L396.06,642.33 L396.21,642.62 L396.31,642.93 L396.36,643.27 L396.37,643.61 L396.36,643.96 L396.35,644.28 L396.35,644.59 L396.38,644.86 L396.44,645.10 L396.51,645.32 L396.59,645.51 L396.65,645.68 L396.69,645.84 L396.69,646.01 L396.65,646.17 L396.56,646.34 L396.42,646.52 L396.26,646.70 L396.07,646.88 L395.89,647.07 L395.71,647.25 L395.53,647.44 L395.36,647.63 L395.19,647.84 L395.00,648.06 L394.79,648.28 L394.54,648.53 L394.27,648.78 L393.96,649.04 L393.62,649.31 L393.28,649.57 L392.93,649.83 L392.59,650.08 L392.25,650.33 L391.90,650.56 L391.53,650.80 L391.12,651.04 L390.65,651.30 L390.11,651.57 L389.50,651.85 L388.82,652.13 L388.08,652.42 L387.31,652.69 L386.52,652.96 L385.75,653.21 L385.02,653.44 L384.33,653.65 L383.69,653.86 L383.06,654.06 L382.44,654.26 L381.82,654.46 L381.18,654.66 L380.53,654.86 L379.87,655.05 L379.19,655.23 L378.51,655.39 L377.85,655.54 L377.21,655.68 L376.59,655.81 L375.96,655.92 L375.32,656.02 L374.68,656.11 L374.05,656.16 L373.45,656.19 L372.89,656.19 L372.39,656.16 L371.94,656.11 L371.53,656.05 L371.16,655.97 L370.82,655.89 L370.50,655.80 L370.19,655.71 L369.90,655.60 L369.62,655.47 L369.36,655.33 L369.16,655.17 L369.00,654.99 L368.92,654.79 L368.91,654.57 L368.97,654.34 L369.07,654.11 L369.19,653.87Z" fill="none" stroke="#0d0d0d" stroke-width="1.4" stroke-linejoin="round"/><path d="M370.57,653.69 L370.61,653.48 L370.68,653.27 L370.75,653.04 L370.82,652.81 L370.87,652.56 L370.89,652.30 L370.89,652.02 L370.87,651.72 L370.85,651.42 L370.85,651.11 L370.87,650.80 L370.93,650.51 L371.03,650.23 L371.16,649.96 L371.33,649.71 L371.51,649.46 L371.71,649.22 L371.90,648.98 L372.10,648.74 L372.29,648.50 L372.49,648.27 L372.68,648.04 L372.89,647.84 L373.10,647.65 L373.32,647.49 L373.54,647.35 L373.75,647.21 L373.96,647.07 L374.15,646.91 L374.34,646.71 L374.51,646.48 L374.68,646.22 L374.86,645.93 L375.04,645.62 L375.25,645.31 L375.48,645.02 L375.74,644.76 L376.03,644.54 L376.34,644.35 L376.67,644.19 L377.00,644.04 L377.33,643.89 L377.66,643.73 L377.98,643.53 L378.30,643.31 L378.62,643.07 L378.94,642.81 L379.24,642.55 L379.52,642.29 L379.80,642.04 L380.06,641.81 L380.30,641.60 L380.54,641.42 L380.77,641.25 L381.00,641.10 L381.23,640.95 L381.47,640.81 L381.72,640.69 L381.97,640.58 L382.24,640.50 L382.52,640.47 L382.79,640.47 L383.07,640.51 L383.34,640.59 L383.61,640.69 L383.88,640.79 L384.16,640.89 L384.46,640.96 L384.78,641.00 L385.12,641.01 L385.48,640.98 L385.86,640.93 L386.25,640.88 L386.64,640.85 L387.02,640.85 L387.39,640.88 L387.74,640.96 L388.06,641.07 L388.35,641.22 L388.63,641.38 L388.90,641.54 L389.16,641.71 L389.42,641.87 L389.69,642.02 L389.95,642.17 L390.22,642.33 L390.48,642.50 L390.72,642.69 L390.93,642.90 L391.13,643.13 L391.30,643.37 L391.46,643.62 L391.61,643.86 L391.76,644.10 L391.91,644.32 L392.06,644.53 L392.22,644.73 L392.38,644.94 L392.53,645.15 L392.65,645.36 L392.75,645.59 L392.81,645.83 L392.85,646.08 L392.86,646.32 L392.86,646.55 L392.87,646.77 L392.89,646.96 L392.93,647.12 L392.99,647.26 L393.06,647.38 L393.14,647.47 L393.21,647.57 L393.25,647.66 L393.25,647.76 L393.19,647.88 L393.08,648.02 L392.93,648.17 L392.74,648.34 L392.52,648.52 L392.29,648.72 L392.06,648.92 L391.84,649.12 L391.62,649.32 L391.39,649.53 L391.16,649.74 L390.90,649.95 L390.62,650.17 L390.31,650.39 L389.97,650.62 L389.61,650.84 L389.23,651.06 L388.85,651.28 L388.47,651.48 L388.09,651.69 L387.70,651.89 L387.31,652.10 L386.90,652.30 L386.47,652.51 L386.00,652.72 L385.49,652.92 L384.95,653.13 L384.38,653.33 L383.79,653.52 L383.21,653.70 L382.64,653.87 L382.09,654.04 L381.56,654.20 L381.06,654.37 L380.58,654.54 L380.12,654.73 L379.64,654.95 L379.13,655.19 L378.55,655.44 L377.88,655.66 L377.20,655.77 L376.60,655.80 L376.07,655.79 L375.59,655.77 L375.14,655.75 L374.70,655.74 L374.26,655.73 L373.85,655.72 L373.45,655.70 L373.07,655.67 L372.74,655.62 L372.45,655.56 L372.20,655.49 L371.99,655.40 L371.82,655.31 L371.67,655.21 L371.52,655.10 L371.37,654.99 L371.21,654.87 L371.05,654.74 L370.90,654.59 L370.76,654.43 L370.65,654.26 L370.59,654.08 L370.56,653.88Z" fill="none" stroke="#0d0d0d" stroke-width="1.4" stroke-linejoin="round"/><path d="M386.95,646.27 L387.07,646.68 L387.10,647.11 L387.04,647.57 L386.89,648.04 L386.65,648.52 L386.33,649.01 L385.92,649.49 L385.43,649.96 L384.87,650.42 L384.25,650.85 L383.56,651.27 L382.82,651.66 L382.04,652.02 L381.23,652.35 L380.39,652.64 L379.54,652.91 L378.68,653.13 L377.83,653.32 L377.00,653.48 L376.19,653.59 L375.42,653.67 L374.69,653.72 L374.01,653.72 L373.39,653.69 L372.84,653.62 L372.36,653.52 L371.96,653.38 L371.64,653.20 L371.40,652.98 L371.25,652.73 L371.18,652.44 L371.20,652.12 L371.30,651.76 L371.48,651.38 L371.75,650.97 L372.10,650.53 L372.51,650.08 L373.00,649.60 L373.55,649.12 L374.15,648.64 L374.81,648.15 L375.51,647.67 L376.25,647.21 L377.02,646.77 L377.81,646.36 L378.61,645.98 L379.42,645.64 L380.23,645.35 L381.03,645.10 L381.81,644.92 L382.56,644.79 L383.28,644.72 L383.96,644.72 L384.58,644.77 L385.16,644.89 L385.66,645.06 L386.10,645.29 L386.47,645.57 L386.75,645.90Z" fill="none" stroke="#0d0d0d" stroke-width="1.4" stroke-linejoin="round"/><path d="M388.62,645.59 L388.80,646.18 L388.88,646.80 L388.84,647.45 L388.70,648.12 L388.44,648.78 L388.08,649.45 L387.62,650.10 L387.05,650.73 L386.40,651.34 L385.65,651.91 L384.84,652.44 L383.95,652.93 L383.01,653.38 L382.02,653.78 L381.00,654.12 L379.96,654.42 L378.91,654.67 L377.87,654.86 L376.84,655.01 L375.84,655.10 L374.88,655.15 L373.97,655.14 L373.13,655.09 L372.35,654.99 L371.66,654.84 L371.05,654.65 L370.53,654.41 L370.11,654.12 L369.80,653.79 L369.58,653.41 L369.47,652.99 L369.46,652.53 L369.56,652.04 L369.76,651.50 L370.05,650.94 L370.44,650.34 L370.92,649.73 L371.49,649.09 L372.13,648.45 L372.84,647.81 L373.62,647.18 L374.45,646.56 L375.33,645.96 L376.25,645.40 L377.20,644.88 L378.17,644.41 L379.15,643.99 L380.13,643.65 L381.11,643.37 L382.07,643.18 L383.00,643.06 L383.89,643.03 L384.73,643.08 L385.52,643.22 L386.25,643.44 L386.90,643.74 L387.47,644.11 L387.95,644.54 L388.33,645.04Z" fill="none" stroke="#0d0d0d" stroke-width="1.4" stroke-linejoin="round"/></g>
<rect x="357.9" y="599.4" width="60.900000000000034" height="57.60000000000002" fill="none" stroke="#0d0d0d" stroke-width="1.3"/>
<line x1="357.9" y1="657" x2="357.9" y2="660.0" stroke="#0d0d0d" stroke-width="0.9"/>
<line x1="362.48318168398407" y1="657" x2="362.48318168398407" y2="659.0" stroke="#0d0d0d" stroke-width="0.9"/>
<line x1="365.16417110310687" y1="657" x2="365.16417110310687" y2="659.0" stroke="#0d0d0d" stroke-width="0.9"/>
<line x1="367.0663633679682" y1="657" x2="367.0663633679682" y2="659.0" stroke="#0d0d0d" stroke-width="0.9"/>
<line x1="368.54181831601585" y1="657" x2="368.54181831601585" y2="659.0" stroke="#0d0d0d" stroke-width="0.9"/>
<line x1="369.74735278709096" y1="657" x2="369.74735278709096" y2="659.0" stroke="#0d0d0d" stroke-width="0.9"/>
<line x1="370.76661765921705" y1="657" x2="370.76661765921705" y2="659.0" stroke="#0d0d0d" stroke-width="0.9"/>
<line x1="371.6495450519523" y1="657" x2="371.6495450519523" y2="659.0" stroke="#0d0d0d" stroke-width="0.9"/>
<line x1="372.4283422062137" y1="657" x2="372.4283422062137" y2="659.0" stroke="#0d0d0d" stroke-width="0.9"/>
<line x1="373.125" y1="657" x2="373.125" y2="660.0" stroke="#0d0d0d" stroke-width="0.9"/>
<line x1="377.7081816839841" y1="657" x2="377.7081816839841" y2="659.0" stroke="#0d0d0d" stroke-width="0.9"/>
<line x1="380.3891711031069" y1="657" x2="380.3891711031069" y2="659.0" stroke="#0d0d0d" stroke-width="0.9"/>
<line x1="382.29136336796824" y1="657" x2="382.29136336796824" y2="659.0" stroke="#0d0d0d" stroke-width="0.9"/>
<line x1="383.7668183160159" y1="657" x2="383.7668183160159" y2="659.0" stroke="#0d0d0d" stroke-width="0.9"/>
<line x1="384.972352787091" y1="657" x2="384.972352787091" y2="659.0" stroke="#0d0d0d" stroke-width="0.9"/>
<line x1="385.99161765921707" y1="657" x2="385.99161765921707" y2="659.0" stroke="#0d0d0d" stroke-width="0.9"/>
<line x1="386.87454505195234" y1="657" x2="386.87454505195234" y2="659.0" stroke="#0d0d0d" stroke-width="0.9"/>
<line x1="387.6533422062137" y1="657" x2="387.6533422062137" y2="659.0" stroke="#0d0d0d" stroke-width="0.9"/>
<line x1="388.35" y1="657" x2="388.35" y2="660.0" stroke="#0d0d0d" stroke-width="0.9"/>
<line x1="392.9331816839841" y1="657" x2="392.9331816839841" y2="659.0" stroke="#0d0d0d" stroke-width="0.9"/>
<line x1="395.6141711031069" y1="657" x2="395.6141711031069" y2="659.0" stroke="#0d0d0d" stroke-width="0.9"/>
<line x1="397.51636336796827" y1="657" x2="397.51636336796827" y2="659.0" stroke="#0d0d0d" stroke-width="0.9"/>
<line x1="398.9918183160159" y1="657" x2="398.9918183160159" y2="659.0" stroke="#0d0d0d" stroke-width="0.9"/>
<line x1="400.197352787091" y1="657" x2="400.197352787091" y2="659.0" stroke="#0d0d0d" stroke-width="0.9"/>
<line x1="401.2166176592171" y1="657" x2="401.2166176592171" y2="659.0" stroke="#0d0d0d" stroke-width="0.9"/>
<line x1="402.09954505195236" y1="657" x2="402.09954505195236" y2="659.0" stroke="#0d0d0d" stroke-width="0.9"/>
<line x1="402.87834220621374" y1="657" x2="402.87834220621374" y2="659.0" stroke="#0d0d0d" stroke-width="0.9"/>
<line x1="403.575" y1="657" x2="403.575" y2="660.0" stroke="#0d0d0d" stroke-width="0.9"/>
<line x1="408.1581816839841" y1="657" x2="408.1581816839841" y2="659.0" stroke="#0d0d0d" stroke-width="0.9"/>
<line x1="410.8391711031069" y1="657" x2="410.8391711031069" y2="659.0" stroke="#0d0d0d" stroke-width="0.9"/>
<line x1="412.74136336796823" y1="657" x2="412.74136336796823" y2="659.0" stroke="#0d0d0d" stroke-width="0.9"/>
<line x1="414.21681831601586" y1="657" x2="414.21681831601586" y2="659.0" stroke="#0d0d0d" stroke-width="0.9"/>
<line x1="415.422352787091" y1="657" x2="415.422352787091" y2="659.0" stroke="#0d0d0d" stroke-width="0.9"/>
<line x1="416.44161765921706" y1="657" x2="416.44161765921706" y2="659.0" stroke="#0d0d0d" stroke-width="0.9"/>
<line x1="417.3245450519523" y1="657" x2="417.3245450519523" y2="659.0" stroke="#0d0d0d" stroke-width="0.9"/>
<line x1="418.1033422062137" y1="657" x2="418.1033422062137" y2="659.0" stroke="#0d0d0d" stroke-width="0.9"/>
<line x1="354.9" y1="657.0" x2="357.9" y2="657.0" stroke="#0d0d0d" stroke-width="0.9"/>
<line x1="355.9" y1="652.6651680624386" x2="357.9" y2="652.6651680624386" stroke="#0d0d0d" stroke-width="0.9"/>
<line x1="355.9" y1="650.1294539320369" x2="357.9" y2="650.1294539320369" stroke="#0d0d0d" stroke-width="0.9"/>
<line x1="355.9" y1="648.3303361248774" x2="357.9" y2="648.3303361248774" stroke="#0d0d0d" stroke-width="0.9"/>
<line x1="355.9" y1="646.9348319375613" x2="357.9" y2="646.9348319375613" stroke="#0d0d0d" stroke-width="0.9"/>
<line x1="355.9" y1="645.7946219944755" x2="357.9" y2="645.7946219944755" stroke="#0d0d0d" stroke-width="0.9"/>
<line x1="355.9" y1="644.8305882237947" x2="357.9" y2="644.8305882237947" stroke="#0d0d0d" stroke-width="0.9"/>
<line x1="355.9" y1="643.995504187316" x2="357.9" y2="643.995504187316" stroke="#0d0d0d" stroke-width="0.9"/>
<line x1="355.9" y1="643.2589078640738" x2="357.9" y2="643.2589078640738" stroke="#0d0d0d" stroke-width="0.9"/>
<line x1="354.9" y1="642.6" x2="357.9" y2="642.6" stroke="#0d0d0d" stroke-width="0.9"/>
<line x1="355.9" y1="638.2651680624386" x2="357.9" y2="638.2651680624386" stroke="#0d0d0d" stroke-width="0.9"/>
<line x1="355.9" y1="635.7294539320369" x2="357.9" y2="635.7294539320369" stroke="#0d0d0d" stroke-width="0.9"/>
<line x1="355.9" y1="633.9303361248774" x2="357.9" y2="633.9303361248774" stroke="#0d0d0d" stroke-width="0.9"/>
<line x1="355.9" y1="632.5348319375613" x2="357.9" y2="632.5348319375613" stroke="#0d0d0d" stroke-width="0.9"/>
<line x1="355.9" y1="631.3946219944755" x2="357.9" y2="631.3946219944755" stroke="#0d0d0d" stroke-width="0.9"/>
<line x1="355.9" y1="630.4305882237948" x2="357.9" y2="630.4305882237948" stroke="#0d0d0d" stroke-width="0.9"/>
<line x1="355.9" y1="629.595504187316" x2="357.9" y2="629.595504187316" stroke="#0d0d0d" stroke-width="0.9"/>
<line x1="355.9" y1="628.8589078640738" x2="357.9" y2="628.8589078640738" stroke="#0d0d0d" stroke-width="0.9"/>
<line x1="354.9" y1="628.2" x2="357.9" y2="628.2" stroke="#0d0d0d" stroke-width="0.9"/>
<line x1="355.9" y1="623.8651680624387" x2="357.9" y2="623.8651680624387" stroke="#0d0d0d" stroke-width="0.9"/>
<line x1="355.9" y1="621.3294539320369" x2="357.9" y2="621.3294539320369" stroke="#0d0d0d" stroke-width="0.9"/>
<line x1="355.9" y1="619.5303361248774" x2="357.9" y2="619.5303361248774" stroke="#0d0d0d" stroke-width="0.9"/>
<line x1="355.9" y1="618.1348319375613" x2="357.9" y2="618.1348319375613" stroke="#0d0d0d" stroke-width="0.9"/>
<line x1="355.9" y1="616.9946219944756" x2="357.9" y2="616.9946219944756" stroke="#0d0d0d" stroke-width="0.9"/>
<line x1="355.9" y1="616.0305882237948" x2="357.9" y2="616.0305882237948" stroke="#0d0d0d" stroke-width="0.9"/>
<line x1="355.9" y1="615.195504187316" x2="357.9" y2="615.195504187316" stroke="#0d0d0d" stroke-width="0.9"/>
<line x1="355.9" y1="614.4589078640738" x2="357.9" y2="614.4589078640738" stroke="#0d0d0d" stroke-width="0.9"/>
<line x1="354.9" y1="613.8" x2="357.9" y2="613.8" stroke="#0d0d0d" stroke-width="0.9"/>
<line x1="355.9" y1="609.4651680624386" x2="357.9" y2="609.4651680624386" stroke="#0d0d0d" stroke-width="0.9"/>
<line x1="355.9" y1="606.9294539320368" x2="357.9" y2="606.9294539320368" stroke="#0d0d0d" stroke-width="0.9"/>
<line x1="355.9" y1="605.1303361248773" x2="357.9" y2="605.1303361248773" stroke="#0d0d0d" stroke-width="0.9"/>
<line x1="355.9" y1="603.7348319375612" x2="357.9" y2="603.7348319375612" stroke="#0d0d0d" stroke-width="0.9"/>
<line x1="355.9" y1="602.5946219944755" x2="357.9" y2="602.5946219944755" stroke="#0d0d0d" stroke-width="0.9"/>
<line x1="355.9" y1="601.6305882237947" x2="357.9" y2="601.6305882237947" stroke="#0d0d0d" stroke-width="0.9"/>
<line x1="355.9" y1="600.7955041873159" x2="357.9" y2="600.7955041873159" stroke="#0d0d0d" stroke-width="0.9"/>
<line x1="355.9" y1="600.0589078640737" x2="357.9" y2="600.0589078640737" stroke="#0d0d0d" stroke-width="0.9"/>
<text x="361.2" y="610.6" font-family="'Liberation Serif', serif" font-size="13" font-weight="bold" text-anchor="start" fill="#0d0d0d" textLength="18.8" lengthAdjust="spacingAndGlyphs" >388</text>
<g clip-path="url(#cb7)"><path d="M437.33,656.21 L437.27,655.87 L437.35,655.48 L437.52,655.06 L437.75,654.61 L438.02,654.14 L438.29,653.64 L438.54,653.13 L438.75,652.59 L438.94,652.02 L439.11,651.43 L439.25,650.82 L439.39,650.23 L439.54,649.63 L439.72,649.03 L439.93,648.44 L440.18,647.85 L440.44,647.27 L440.71,646.69 L440.99,646.11 L441.29,645.53 L441.59,644.95 L441.91,644.37 L442.25,643.82 L442.63,643.32 L443.04,642.86 L443.48,642.46 L443.95,642.11 L444.44,641.81 L444.93,641.55 L445.41,641.30 L445.89,641.05 L446.36,640.77 L446.81,640.43 L447.27,640.04 L447.71,639.59 L448.16,639.10 L448.60,638.60 L449.04,638.09 L449.49,637.62 L449.93,637.19 L450.37,636.83 L450.81,636.52 L451.24,636.28 L451.66,636.07 L452.09,635.89 L452.53,635.71 L452.99,635.51 L453.47,635.29 L453.99,635.04 L454.54,634.78 L455.12,634.52 L455.72,634.26 L456.33,634.03 L456.93,633.82 L457.52,633.64 L458.09,633.49 L458.64,633.35 L459.16,633.21 L459.65,633.06 L460.12,632.90 L460.56,632.70 L460.98,632.49 L461.37,632.26 L461.74,632.03 L462.08,631.82 L462.40,631.64 L462.69,631.51 L462.94,631.42 L463.19,631.38 L463.43,631.37 L463.68,631.37 L463.97,631.37 L464.31,631.33 L464.70,631.23 L465.16,631.07 L465.68,630.84 L466.25,630.57 L466.87,630.26 L467.50,629.95 L468.14,629.67 L468.75,629.42 L469.34,629.25 L469.88,629.14 L470.36,629.12 L470.81,629.16 L471.24,629.25 L471.65,629.37 L472.06,629.52 L472.48,629.68 L472.90,629.85 L473.33,630.03 L473.76,630.23 L474.18,630.46 L474.59,630.71 L474.97,630.99 L475.33,631.30 L475.67,631.66 L476.00,632.05 L476.34,632.46 L476.68,632.89 L477.04,633.32 L477.42,633.74 L477.81,634.15 L478.22,634.55 L478.62,634.95 L479.00,635.35 L479.33,635.76 L479.60,636.18 L479.81,636.63 L479.96,637.11 L480.07,637.61 L480.14,638.12 L480.19,638.62 L480.25,639.11 L480.33,639.57 L480.44,640.00 L480.59,640.38 L480.77,640.73 L480.97,641.05 L481.15,641.34 L481.32,641.62 L481.45,641.89 L481.52,642.16 L481.52,642.44 L481.46,642.73 L481.34,643.02 L481.16,643.32 L480.94,643.62 L480.70,643.91 L480.43,644.20 L480.14,644.48 L479.82,644.77 L479.46,645.05 L479.04,645.32 L478.55,645.60 L478.00,645.88 L477.38,646.17 L476.72,646.47 L476.01,646.77 L475.29,647.07 L474.57,647.37 L473.88,647.68 L473.23,647.98 L472.62,648.28 L472.05,648.58 L471.50,648.90 L470.93,649.24 L470.33,649.58 L469.69,649.95 L468.98,650.33 L468.20,650.72 L467.35,651.12 L466.46,651.52 L465.54,651.90 L464.61,652.26 L463.71,652.60 L462.83,652.91 L461.99,653.20 L461.19,653.48 L460.42,653.75 L459.66,654.01 L458.91,654.26 L458.15,654.51 L457.37,654.76 L456.54,655.01 L455.69,655.25 L454.82,655.49 L453.94,655.72 L453.04,655.96 L452.11,656.21 L451.16,656.47 L450.19,656.75 L449.18,657.07 L448.07,657.41 L446.86,657.64 L445.75,657.69 L444.83,657.68 L444.07,657.66 L443.42,657.62 L442.87,657.56 L442.38,657.50 L441.89,657.45 L441.40,657.40 L440.88,657.36 L440.34,657.31 L439.79,657.26 L439.23,657.18 L438.70,657.07 L438.22,656.92 L437.81,656.73 L437.51,656.49Z" fill="none" stroke="#0d0d0d" stroke-width="1.4" stroke-linejoin="round"/><path d="M438.80,656.07 L438.66,655.79 L438.58,655.47 L438.56,655.09 L438.60,654.68 L438.72,654.23 L438.91,653.77 L439.16,653.29 L439.46,652.82 L439.80,652.37 L440.14,651.94 L440.46,651.53 L440.74,651.14 L440.97,650.73 L441.17,650.29 L441.33,649.82 L441.49,649.30 L441.64,648.76 L441.81,648.22 L442.01,647.69 L442.24,647.19 L442.51,646.74 L442.82,646.35 L443.14,646.01 L443.49,645.72 L443.85,645.45 L444.21,645.18 L444.58,644.89 L444.95,644.57 L445.32,644.21 L445.69,643.81 L446.06,643.38 L446.44,642.93 L446.83,642.48 L447.22,642.05 L447.61,641.64 L447.99,641.26 L448.37,640.92 L448.74,640.59 L449.11,640.28 L449.47,639.97 L449.85,639.66 L450.23,639.35 L450.61,639.04 L451.01,638.75 L451.41,638.48 L451.81,638.24 L452.22,638.05 L452.62,637.91 L453.02,637.82 L453.43,637.78 L453.84,637.77 L454.26,637.77 L454.69,637.76 L455.13,637.71 L455.58,637.63 L456.05,637.50 L456.52,637.32 L457.00,637.12 L457.46,636.90 L457.90,636.68 L458.30,636.47 L458.64,636.29 L458.95,636.14 L459.21,636.02 L459.44,635.93 L459.65,635.86 L459.87,635.78 L460.09,635.69 L460.34,635.57 L460.63,635.43 L460.96,635.27 L461.33,635.08 L461.74,634.88 L462.17,634.67 L462.62,634.45 L463.08,634.24 L463.54,634.05 L463.99,633.88 L464.45,633.72 L464.91,633.58 L465.37,633.45 L465.83,633.33 L466.29,633.24 L466.75,633.17 L467.19,633.13 L467.62,633.14 L468.01,633.20 L468.38,633.31 L468.69,633.48 L468.97,633.72 L469.20,634.00 L469.40,634.31 L469.59,634.65 L469.79,634.99 L470.00,635.31 L470.24,635.61 L470.53,635.89 L470.87,636.17 L471.24,636.43 L471.63,636.70 L472.03,636.98 L472.42,637.28 L472.79,637.60 L473.12,637.94 L473.41,638.31 L473.66,638.68 L473.87,639.06 L474.07,639.43 L474.26,639.79 L474.46,640.14 L474.68,640.49 L474.92,640.83 L475.15,641.16 L475.38,641.48 L475.59,641.81 L475.77,642.14 L475.91,642.46 L476.00,642.79 L476.05,643.11 L476.06,643.43 L476.05,643.72 L476.03,644.00 L476.01,644.26 L475.99,644.51 L475.97,644.74 L475.93,644.96 L475.85,645.19 L475.73,645.41 L475.54,645.65 L475.28,645.91 L474.93,646.18 L474.51,646.47 L474.02,646.77 L473.48,647.06 L472.90,647.34 L472.32,647.61 L471.76,647.86 L471.23,648.10 L470.74,648.32 L470.28,648.53 L469.84,648.74 L469.42,648.95 L468.99,649.16 L468.55,649.40 L468.09,649.65 L467.58,649.93 L467.05,650.22 L466.48,650.53 L465.90,650.85 L465.31,651.16 L464.73,651.48 L464.15,651.78 L463.57,652.08 L462.99,652.37 L462.39,652.65 L461.76,652.92 L461.09,653.17 L460.38,653.43 L459.61,653.69 L458.81,653.94 L457.99,654.18 L457.16,654.42 L456.35,654.64 L455.57,654.86 L454.83,655.07 L454.12,655.27 L453.43,655.46 L452.77,655.66 L452.08,655.86 L451.33,656.08 L450.51,656.30 L449.63,656.51 L448.68,656.69 L447.73,656.78 L446.89,656.76 L446.24,656.73 L445.68,656.75 L445.13,656.80 L444.58,656.86 L444.04,656.93 L443.48,656.98 L442.89,657.03 L442.30,657.07 L441.73,657.08 L441.18,657.06 L440.68,657.02 L440.24,656.94 L439.85,656.83 L439.52,656.69 L439.24,656.51 L439.00,656.31Z" fill="none" stroke="#0d0d0d" stroke-width="1.4" stroke-linejoin="round"/><path d="M440.06,655.96 L439.93,655.72 L439.89,655.45 L439.95,655.13 L440.09,654.79 L440.31,654.45 L440.59,654.09 L440.90,653.75 L441.22,653.42 L441.53,653.09 L441.79,652.77 L442.01,652.44 L442.16,652.10 L442.28,651.74 L442.37,651.35 L442.47,650.93 L442.56,650.49 L442.68,650.05 L442.82,649.61 L442.97,649.18 L443.15,648.76 L443.34,648.34 L443.54,647.93 L443.76,647.52 L443.99,647.11 L444.24,646.70 L444.51,646.28 L444.80,645.88 L445.12,645.50 L445.45,645.15 L445.80,644.84 L446.15,644.57 L446.50,644.35 L446.85,644.17 L447.18,644.00 L447.51,643.84 L447.82,643.66 L448.12,643.47 L448.42,643.25 L448.72,643.00 L449.02,642.73 L449.33,642.46 L449.64,642.20 L449.96,641.96 L450.27,641.76 L450.58,641.60 L450.89,641.48 L451.20,641.40 L451.50,641.34 L451.82,641.29 L452.16,641.23 L452.51,641.17 L452.89,641.08 L453.28,640.96 L453.69,640.81 L454.11,640.65 L454.53,640.48 L454.94,640.30 L455.34,640.13 L455.72,639.96 L456.07,639.80 L456.39,639.64 L456.68,639.48 L456.96,639.31 L457.23,639.13 L457.50,638.94 L457.77,638.74 L458.04,638.54 L458.31,638.35 L458.58,638.17 L458.84,638.03 L459.10,637.92 L459.36,637.86 L459.61,637.83 L459.86,637.81 L460.11,637.80 L460.37,637.78 L460.65,637.75 L460.96,637.70 L461.29,637.62 L461.65,637.53 L462.02,637.42 L462.41,637.31 L462.80,637.23 L463.17,637.17 L463.52,637.16 L463.84,637.19 L464.14,637.27 L464.41,637.39 L464.66,637.54 L464.90,637.71 L465.14,637.89 L465.38,638.08 L465.64,638.26 L465.92,638.43 L466.21,638.60 L466.52,638.77 L466.83,638.94 L467.15,639.15 L467.46,639.37 L467.76,639.63 L468.04,639.90 L468.32,640.19 L468.59,640.48 L468.86,640.77 L469.13,641.06 L469.41,641.33 L469.69,641.59 L469.96,641.84 L470.22,642.09 L470.46,642.35 L470.67,642.64 L470.84,642.94 L470.95,643.27 L471.01,643.61 L471.02,643.97 L470.98,644.33 L470.92,644.68 L470.85,645.01 L470.79,645.33 L470.73,645.61 L470.69,645.86 L470.67,646.09 L470.67,646.30 L470.67,646.49 L470.66,646.68 L470.62,646.86 L470.54,647.05 L470.42,647.24 L470.26,647.44 L470.05,647.65 L469.82,647.86 L469.56,648.06 L469.29,648.27 L469.00,648.46 L468.71,648.63 L468.40,648.80 L468.08,648.97 L467.74,649.14 L467.38,649.31 L466.98,649.49 L466.56,649.68 L466.11,649.89 L465.65,650.10 L465.18,650.32 L464.72,650.56 L464.28,650.80 L463.84,651.04 L463.42,651.29 L463.01,651.53 L462.59,651.78 L462.16,652.04 L461.69,652.29 L461.18,652.55 L460.61,652.81 L459.98,653.07 L459.30,653.32 L458.57,653.56 L457.82,653.80 L457.05,654.02 L456.30,654.24 L455.57,654.44 L454.88,654.62 L454.23,654.80 L453.62,654.97 L453.03,655.13 L452.47,655.28 L451.91,655.44 L451.36,655.58 L450.78,655.73 L450.16,655.88 L449.52,656.03 L448.86,656.17 L448.21,656.32 L447.56,656.47 L446.90,656.63 L446.22,656.78 L445.54,656.89 L444.90,656.98 L444.31,657.04 L443.78,657.06 L443.31,657.06 L442.89,657.03 L442.51,656.99 L442.17,656.93 L441.86,656.86 L441.58,656.78 L441.30,656.69 L441.02,656.58 L440.75,656.46 L440.49,656.32 L440.26,656.16Z" fill="none" stroke="#0d0d0d" stroke-width="1.4" stroke-linejoin="round"/><path d="M441.52,655.83 L441.44,655.64 L441.41,655.42 L441.42,655.18 L441.46,654.90 L441.51,654.61 L441.59,654.29 L441.70,653.96 L441.82,653.62 L441.98,653.28 L442.16,652.95 L442.35,652.64 L442.54,652.36 L442.73,652.09 L442.92,651.83 L443.11,651.56 L443.27,651.27 L443.42,650.97 L443.56,650.64 L443.69,650.29 L443.82,649.93 L443.97,649.57 L444.13,649.21 L444.31,648.88 L444.52,648.59 L444.75,648.34 L445.01,648.13 L445.27,647.94 L445.54,647.77 L445.81,647.61 L446.08,647.44 L446.35,647.25 L446.61,647.04 L446.87,646.80 L447.13,646.54 L447.39,646.26 L447.64,645.99 L447.89,645.72 L448.15,645.47 L448.39,645.24 L448.64,645.03 L448.89,644.83 L449.14,644.64 L449.39,644.46 L449.66,644.27 L449.92,644.09 L450.20,643.90 L450.49,643.71 L450.79,643.53 L451.10,643.37 L451.41,643.25 L451.73,643.16 L452.04,643.11 L452.34,643.09 L452.63,643.09 L452.91,643.10 L453.19,643.10 L453.47,643.08 L453.74,643.03 L454.02,642.94 L454.29,642.83 L454.56,642.69 L454.81,642.53 L455.05,642.37 L455.28,642.21 L455.48,642.08 L455.66,641.97 L455.83,641.89 L455.99,641.82 L456.14,641.78 L456.30,641.73 L456.48,641.69 L456.68,641.63 L456.92,641.55 L457.18,641.44 L457.47,641.31 L457.78,641.17 L458.11,641.02 L458.43,640.88 L458.76,640.75 L459.08,640.64 L459.39,640.55 L459.69,640.49 L459.98,640.45 L460.26,640.43 L460.54,640.42 L460.83,640.43 L461.12,640.44 L461.40,640.48 L461.69,640.53 L461.95,640.61 L462.19,640.72 L462.41,640.86 L462.60,641.04 L462.76,641.25 L462.89,641.49 L463.01,641.73 L463.14,641.99 L463.27,642.25 L463.43,642.51 L463.62,642.75 L463.83,642.98 L464.07,643.20 L464.32,643.41 L464.58,643.62 L464.83,643.83 L465.06,644.04 L465.26,644.27 L465.42,644.50 L465.56,644.74 L465.69,644.99 L465.80,645.25 L465.91,645.50 L466.02,645.75 L466.13,645.99 L466.25,646.22 L466.37,646.44 L466.48,646.65 L466.58,646.86 L466.65,647.06 L466.69,647.26 L466.69,647.46 L466.67,647.65 L466.63,647.84 L466.58,648.02 L466.51,648.19 L466.44,648.36 L466.37,648.52 L466.30,648.67 L466.22,648.81 L466.12,648.96 L465.99,649.11 L465.82,649.27 L465.60,649.43 L465.31,649.61 L464.97,649.79 L464.58,649.97 L464.15,650.16 L463.71,650.34 L463.26,650.53 L462.83,650.70 L462.42,650.88 L462.05,651.04 L461.71,651.20 L461.39,651.37 L461.09,651.53 L460.79,651.71 L460.48,651.90 L460.14,652.09 L459.78,652.30 L459.40,652.51 L458.99,652.72 L458.57,652.94 L458.14,653.15 L457.71,653.35 L457.28,653.54 L456.86,653.72 L456.43,653.89 L455.98,654.06 L455.52,654.22 L455.04,654.38 L454.53,654.55 L453.99,654.70 L453.44,654.86 L452.87,655.01 L452.31,655.15 L451.75,655.29 L451.23,655.42 L450.73,655.55 L450.24,655.68 L449.76,655.81 L449.27,655.96 L448.77,656.13 L448.22,656.33 L447.59,656.52 L446.90,656.63 L446.29,656.63 L445.81,656.60 L445.42,656.57 L445.09,656.54 L444.80,656.51 L444.52,656.49 L444.23,656.47 L443.92,656.47 L443.59,656.46 L443.25,656.44 L442.92,656.42 L442.59,656.38 L442.29,656.32 L442.03,656.23 L441.81,656.12 L441.64,655.99Z" fill="none" stroke="#0d0d0d" stroke-width="1.4" stroke-linejoin="round"/><path d="M451.94,648.93 L452.08,649.28 L452.16,649.64 L452.19,650.02 L452.15,650.41 L452.06,650.81 L451.92,651.20 L451.71,651.59 L451.45,651.97 L451.14,652.33 L450.78,652.67 L450.38,653.00 L449.94,653.30 L449.47,653.57 L448.96,653.82 L448.44,654.03 L447.90,654.22 L447.36,654.38 L446.81,654.51 L446.27,654.61 L445.74,654.67 L445.23,654.71 L444.74,654.72 L444.28,654.70 L443.86,654.65 L443.48,654.58 L443.14,654.47 L442.84,654.34 L442.60,654.18 L442.40,653.99 L442.26,653.77 L442.17,653.52 L442.14,653.26 L442.16,652.96 L442.23,652.65 L442.35,652.31 L442.51,651.96 L442.73,651.59 L442.99,651.21 L443.29,650.83 L443.62,650.44 L444.00,650.06 L444.40,649.69 L444.83,649.33 L445.29,648.98 L445.76,648.67 L446.25,648.38 L446.74,648.12 L447.25,647.91 L447.75,647.74 L448.25,647.61 L448.74,647.53 L449.22,647.50 L449.68,647.52 L450.11,647.59 L450.51,647.70 L450.88,647.87 L451.21,648.08 L451.50,648.33 L451.74,648.61Z" fill="none" stroke="#0d0d0d" stroke-width="1.4" stroke-linejoin="round"/><path d="M453.55,648.13 L453.76,648.65 L453.91,649.20 L453.98,649.77 L453.96,650.35 L453.87,650.94 L453.70,651.51 L453.45,652.08 L453.13,652.62 L452.73,653.14 L452.27,653.62 L451.74,654.07 L451.16,654.48 L450.53,654.85 L449.86,655.18 L449.16,655.46 L448.43,655.70 L447.70,655.89 L446.96,656.04 L446.22,656.14 L445.50,656.20 L444.80,656.22 L444.13,656.20 L443.50,656.13 L442.92,656.02 L442.39,655.88 L441.91,655.69 L441.50,655.47 L441.15,655.21 L440.87,654.91 L440.65,654.57 L440.51,654.20 L440.44,653.80 L440.44,653.36 L440.51,652.90 L440.65,652.40 L440.85,651.89 L441.12,651.36 L441.44,650.82 L441.82,650.27 L442.26,649.72 L442.74,649.18 L443.26,648.65 L443.82,648.15 L444.42,647.67 L445.04,647.24 L445.69,646.84 L446.35,646.50 L447.03,646.22 L447.71,646.01 L448.38,645.85 L449.05,645.77 L449.70,645.77 L450.33,645.83 L450.93,645.97 L451.49,646.18 L452.01,646.46 L452.49,646.80 L452.90,647.19 L453.26,647.64Z" fill="none" stroke="#0d0d0d" stroke-width="1.4" stroke-linejoin="round"/></g>
<rect x="430.4" y="599.4" width="60.900000000000034" height="57.60000000000002" fill="none" stroke="#0d0d0d" stroke-width="1.3"/>
<line x1="430.4" y1="657" x2="430.4" y2="660.0" stroke="#0d0d0d" stroke-width="0.9"/>
<line x1="434.98318168398407" y1="657" x2="434.98318168398407" y2="659.0" stroke="#0d0d0d" stroke-width="0.9"/>
<line x1="437.66417110310687" y1="657" x2="437.66417110310687" y2="659.0" stroke="#0d0d0d" stroke-width="0.9"/>
<line x1="439.5663633679682" y1="657" x2="439.5663633679682" y2="659.0" stroke="#0d0d0d" stroke-width="0.9"/>
<line x1="441.04181831601585" y1="657" x2="441.04181831601585" y2="659.0" stroke="#0d0d0d" stroke-width="0.9"/>
<line x1="442.24735278709096" y1="657" x2="442.24735278709096" y2="659.0" stroke="#0d0d0d" stroke-width="0.9"/>
<line x1="443.26661765921705" y1="657" x2="443.26661765921705" y2="659.0" stroke="#0d0d0d" stroke-width="0.9"/>
<line x1="444.1495450519523" y1="657" x2="444.1495450519523" y2="659.0" stroke="#0d0d0d" stroke-width="0.9"/>
<line x1="444.9283422062137" y1="657" x2="444.9283422062137" y2="659.0" stroke="#0d0d0d" stroke-width="0.9"/>
<line x1="445.625" y1="657" x2="445.625" y2="660.0" stroke="#0d0d0d" stroke-width="0.9"/>
<line x1="450.2081816839841" y1="657" x2="450.2081816839841" y2="659.0" stroke="#0d0d0d" stroke-width="0.9"/>
<line x1="452.8891711031069" y1="657" x2="452.8891711031069" y2="659.0" stroke="#0d0d0d" stroke-width="0.9"/>
<line x1="454.79136336796824" y1="657" x2="454.79136336796824" y2="659.0" stroke="#0d0d0d" stroke-width="0.9"/>
<line x1="456.2668183160159" y1="657" x2="456.2668183160159" y2="659.0" stroke="#0d0d0d" stroke-width="0.9"/>
<line x1="457.472352787091" y1="657" x2="457.472352787091" y2="659.0" stroke="#0d0d0d" stroke-width="0.9"/>
<line x1="458.49161765921707" y1="657" x2="458.49161765921707" y2="659.0" stroke="#0d0d0d" stroke-width="0.9"/>
<line x1="459.37454505195234" y1="657" x2="459.37454505195234" y2="659.0" stroke="#0d0d0d" stroke-width="0.9"/>
<line x1="460.1533422062137" y1="657" x2="460.1533422062137" y2="659.0" stroke="#0d0d0d" stroke-width="0.9"/>
<line x1="460.85" y1="657" x2="460.85" y2="660.0" stroke="#0d0d0d" stroke-width="0.9"/>
<line x1="465.4331816839841" y1="657" x2="465.4331816839841" y2="659.0" stroke="#0d0d0d" stroke-width="0.9"/>
<line x1="468.1141711031069" y1="657" x2="468.1141711031069" y2="659.0" stroke="#0d0d0d" stroke-width="0.9"/>
<line x1="470.01636336796827" y1="657" x2="470.01636336796827" y2="659.0" stroke="#0d0d0d" stroke-width="0.9"/>
<line x1="471.4918183160159" y1="657" x2="471.4918183160159" y2="659.0" stroke="#0d0d0d" stroke-width="0.9"/>
<line x1="472.697352787091" y1="657" x2="472.697352787091" y2="659.0" stroke="#0d0d0d" stroke-width="0.9"/>
<line x1="473.7166176592171" y1="657" x2="473.7166176592171" y2="659.0" stroke="#0d0d0d" stroke-width="0.9"/>
<line x1="474.59954505195236" y1="657" x2="474.59954505195236" y2="659.0" stroke="#0d0d0d" stroke-width="0.9"/>
<line x1="475.37834220621374" y1="657" x2="475.37834220621374" y2="659.0" stroke="#0d0d0d" stroke-width="0.9"/>
<line x1="476.075" y1="657" x2="476.075" y2="660.0" stroke="#0d0d0d" stroke-width="0.9"/>
<line x1="480.6581816839841" y1="657" x2="480.6581816839841" y2="659.0" stroke="#0d0d0d" stroke-width="0.9"/>
<line x1="483.3391711031069" y1="657" x2="483.3391711031069" y2="659.0" stroke="#0d0d0d" stroke-width="0.9"/>
<line x1="485.24136336796823" y1="657" x2="485.24136336796823" y2="659.0" stroke="#0d0d0d" stroke-width="0.9"/>
<line x1="486.71681831601586" y1="657" x2="486.71681831601586" y2="659.0" stroke="#0d0d0d" stroke-width="0.9"/>
<line x1="487.922352787091" y1="657" x2="487.922352787091" y2="659.0" stroke="#0d0d0d" stroke-width="0.9"/>
<line x1="488.94161765921706" y1="657" x2="488.94161765921706" y2="659.0" stroke="#0d0d0d" stroke-width="0.9"/>
<line x1="489.8245450519523" y1="657" x2="489.8245450519523" y2="659.0" stroke="#0d0d0d" stroke-width="0.9"/>
<line x1="490.6033422062137" y1="657" x2="490.6033422062137" y2="659.0" stroke="#0d0d0d" stroke-width="0.9"/>
<line x1="427.4" y1="657.0" x2="430.4" y2="657.0" stroke="#0d0d0d" stroke-width="0.9"/>
<line x1="428.4" y1="652.6651680624386" x2="430.4" y2="652.6651680624386" stroke="#0d0d0d" stroke-width="0.9"/>
<line x1="428.4" y1="650.1294539320369" x2="430.4" y2="650.1294539320369" stroke="#0d0d0d" stroke-width="0.9"/>
<line x1="428.4" y1="648.3303361248774" x2="430.4" y2="648.3303361248774" stroke="#0d0d0d" stroke-width="0.9"/>
<line x1="428.4" y1="646.9348319375613" x2="430.4" y2="646.9348319375613" stroke="#0d0d0d" stroke-width="0.9"/>
<line x1="428.4" y1="645.7946219944755" x2="430.4" y2="645.7946219944755" stroke="#0d0d0d" stroke-width="0.9"/>
<line x1="428.4" y1="644.8305882237947" x2="430.4" y2="644.8305882237947" stroke="#0d0d0d" stroke-width="0.9"/>
<line x1="428.4" y1="643.995504187316" x2="430.4" y2="643.995504187316" stroke="#0d0d0d" stroke-width="0.9"/>
<line x1="428.4" y1="643.2589078640738" x2="430.4" y2="643.2589078640738" stroke="#0d0d0d" stroke-width="0.9"/>
<line x1="427.4" y1="642.6" x2="430.4" y2="642.6" stroke="#0d0d0d" stroke-width="0.9"/>
<line x1="428.4" y1="638.2651680624386" x2="430.4" y2="638.2651680624386" stroke="#0d0d0d" stroke-width="0.9"/>
<line x1="428.4" y1="635.7294539320369" x2="430.4" y2="635.7294539320369" stroke="#0d0d0d" stroke-width="0.9"/>
<line x1="428.4" y1="633.9303361248774" x2="430.4" y2="633.9303361248774" stroke="#0d0d0d" stroke-width="0.9"/>
<line x1="428.4" y1="632.5348319375613" x2="430.4" y2="632.5348319375613" stroke="#0d0d0d" stroke-width="0.9"/>
<line x1="428.4" y1="631.3946219944755" x2="430.4" y2="631.3946219944755" stroke="#0d0d0d" stroke-width="0.9"/>
<line x1="428.4" y1="630.4305882237948" x2="430.4" y2="630.4305882237948" stroke="#0d0d0d" stroke-width="0.9"/>
<line x1="428.4" y1="629.595504187316" x2="430.4" y2="629.595504187316" stroke="#0d0d0d" stroke-width="0.9"/>
<line x1="428.4" y1="628.8589078640738" x2="430.4" y2="628.8589078640738" stroke="#0d0d0d" stroke-width="0.9"/>
<line x1="427.4" y1="628.2" x2="430.4" y2="628.2" stroke="#0d0d0d" stroke-width="0.9"/>
<line x1="428.4" y1="623.8651680624387" x2="430.4" y2="623.8651680624387" stroke="#0d0d0d" stroke-width="0.9"/>
<line x1="428.4" y1="621.3294539320369" x2="430.4" y2="621.3294539320369" stroke="#0d0d0d" stroke-width="0.9"/>
<line x1="428.4" y1="619.5303361248774" x2="430.4" y2="619.5303361248774" stroke="#0d0d0d" stroke-width="0.9"/>
<line x1="428.4" y1="618.1348319375613" x2="430.4" y2="618.1348319375613" stroke="#0d0d0d" stroke-width="0.9"/>
<line x1="428.4" y1="616.9946219944756" x2="430.4" y2="616.9946219944756" stroke="#0d0d0d" stroke-width="0.9"/>
<line x1="428.4" y1="616.0305882237948" x2="430.4" y2="616.0305882237948" stroke="#0d0d0d" stroke-width="0.9"/>
<line x1="428.4" y1="615.195504187316" x2="430.4" y2="615.195504187316" stroke="#0d0d0d" stroke-width="0.9"/>
<line x1="428.4" y1="614.4589078640738" x2="430.4" y2="614.4589078640738" stroke="#0d0d0d" stroke-width="0.9"/>
<line x1="427.4" y1="613.8" x2="430.4" y2="613.8" stroke="#0d0d0d" stroke-width="0.9"/>
<line x1="428.4" y1="609.4651680624386" x2="430.4" y2="609.4651680624386" stroke="#0d0d0d" stroke-width="0.9"/>
<line x1="428.4" y1="606.9294539320368" x2="430.4" y2="606.9294539320368" stroke="#0d0d0d" stroke-width="0.9"/>
<line x1="428.4" y1="605.1303361248773" x2="430.4" y2="605.1303361248773" stroke="#0d0d0d" stroke-width="0.9"/>
<line x1="428.4" y1="603.7348319375612" x2="430.4" y2="603.7348319375612" stroke="#0d0d0d" stroke-width="0.9"/>
<line x1="428.4" y1="602.5946219944755" x2="430.4" y2="602.5946219944755" stroke="#0d0d0d" stroke-width="0.9"/>
<line x1="428.4" y1="601.6305882237947" x2="430.4" y2="601.6305882237947" stroke="#0d0d0d" stroke-width="0.9"/>
<line x1="428.4" y1="600.7955041873159" x2="430.4" y2="600.7955041873159" stroke="#0d0d0d" stroke-width="0.9"/>
<line x1="428.4" y1="600.0589078640737" x2="430.4" y2="600.0589078640737" stroke="#0d0d0d" stroke-width="0.9"/>
<text x="432.5" y="610.6" font-family="'Liberation Serif', serif" font-size="13" font-weight="bold" text-anchor="start" fill="#0d0d0d" textLength="18.8" lengthAdjust="spacingAndGlyphs" >385</text>
<line x1="342" y1="673.2" x2="342" y2="646.8" stroke="#0d0d0d" stroke-width="1.3"/>
<polyline points="338.8,652.8 342,646.6 345.2,652.8" fill="none" stroke="#0d0d0d" stroke-width="1.3" stroke-linejoin="round"/>
<line x1="341.4" y1="672.6" x2="381.5" y2="672.6" stroke="#0d0d0d" stroke-width="1.3"/>
<polyline points="375.6,669.4 381.8,672.6 375.6,675.8" fill="none" stroke="#0d0d0d" stroke-width="1.3" stroke-linejoin="round"/>
<text x="318.5" y="666.4" font-family="'Liberation Serif', serif" font-size="11" font-weight="bold" text-anchor="start" fill="#0d0d0d" textLength="20" lengthAdjust="spacingAndGlyphs" >SSC</text>
<text x="348.5" y="683.3" font-family="'Liberation Serif', serif" font-size="11" font-weight="bold" text-anchor="start" fill="#0d0d0d" textLength="20" lengthAdjust="spacingAndGlyphs" >FSC</text>
</svg>
</body></html>
